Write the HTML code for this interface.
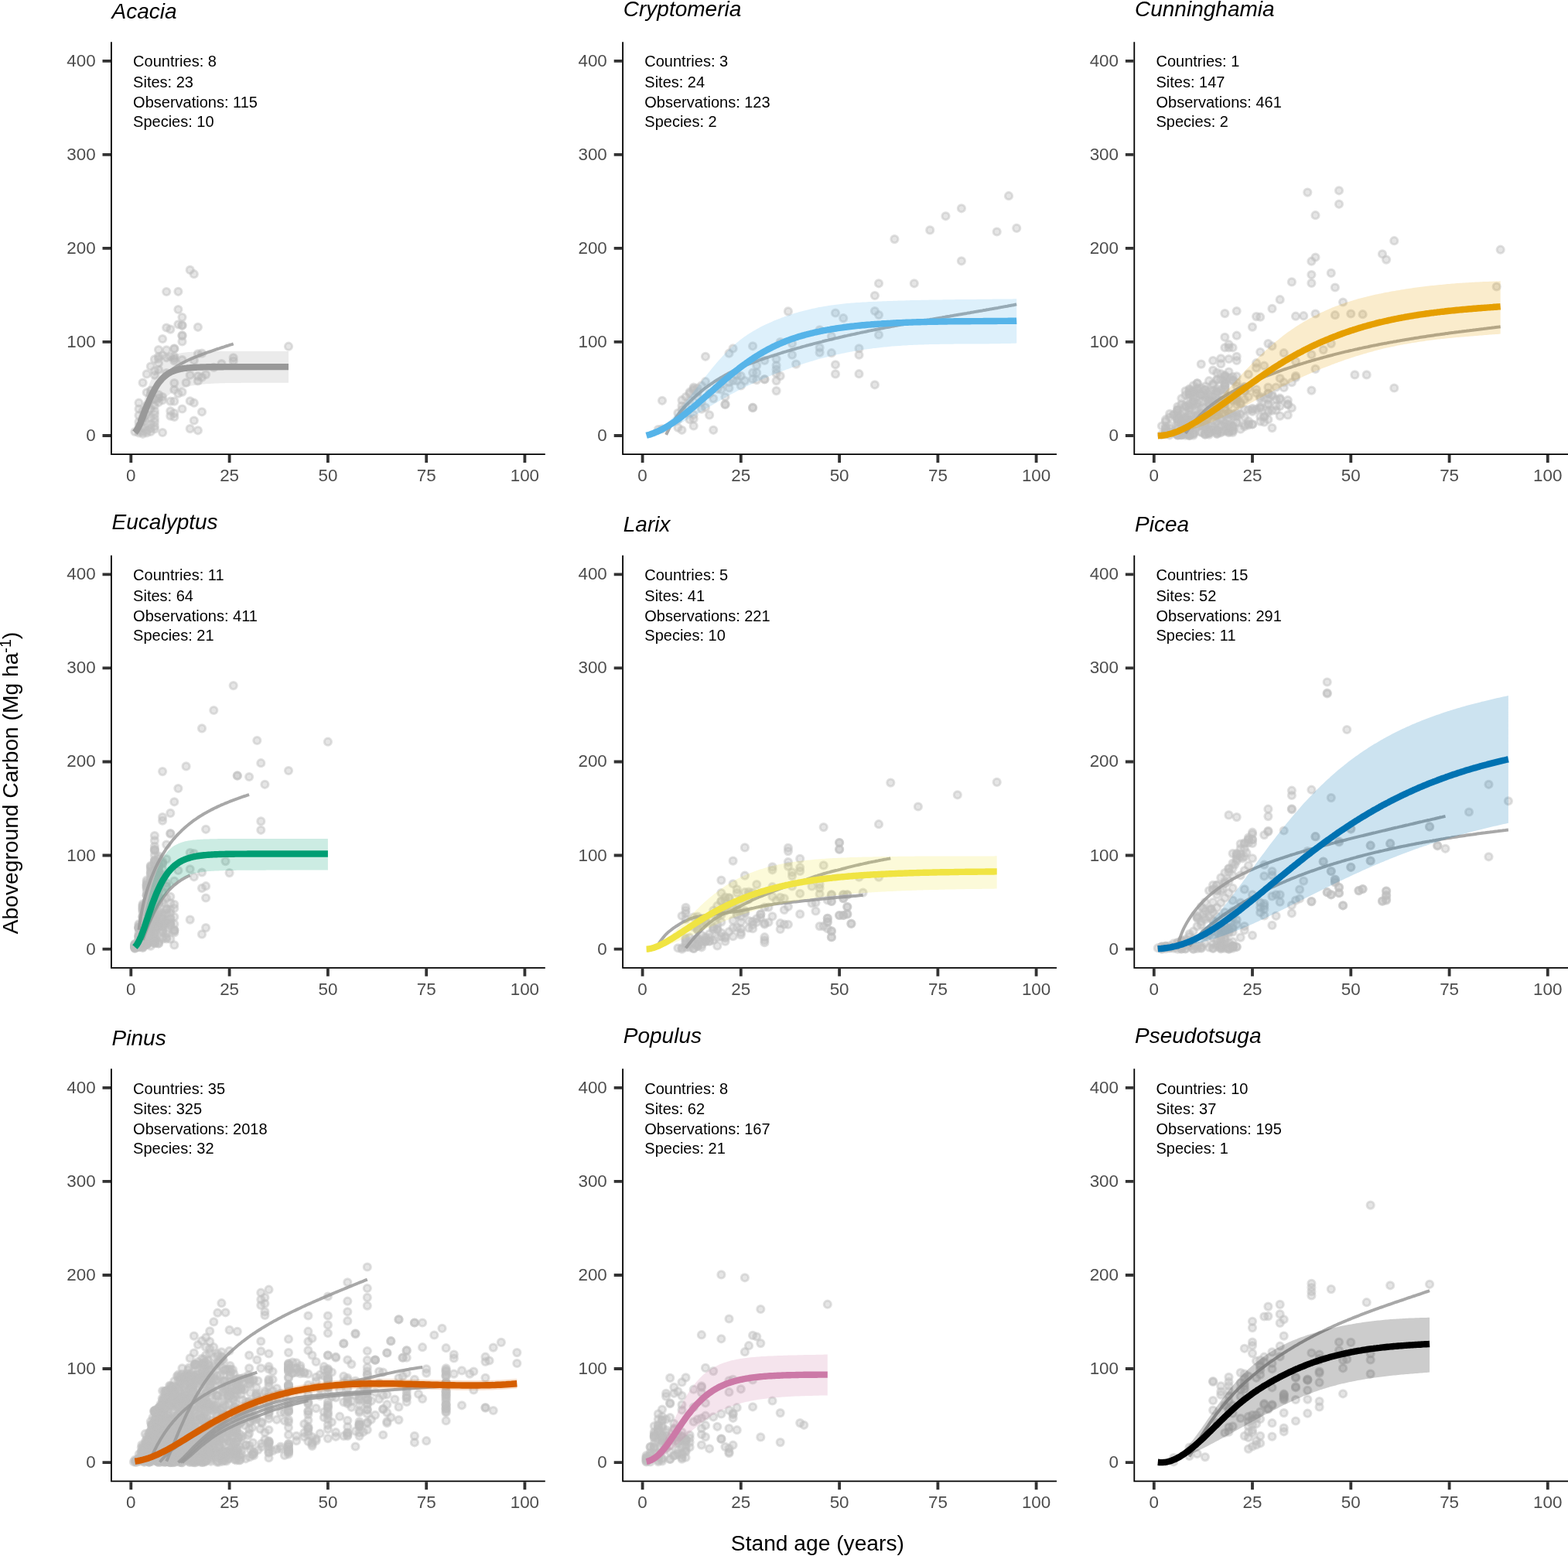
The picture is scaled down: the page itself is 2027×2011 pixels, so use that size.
<!DOCTYPE html>
<html lang="en">
<head>
<meta charset="utf-8">
<title>Aboveground carbon by stand age</title>
<style>
html,body{margin:0;padding:0;background:#fff;}
body{width:2027px;height:2011px;overflow:hidden;}
svg{display:block;font-family:"Liberation Sans",Arial,Helvetica,sans-serif;}
.tk{font-size:22.4px;fill:#4d4d4d;}
.ti{font-size:28px;font-style:italic;fill:#000;}
.an{font-size:20px;fill:#000;}
.ax{font-size:28.2px;fill:#000;}
.pt circle{fill:#bebebe;fill-opacity:.4;stroke:#bebebe;stroke-opacity:.46;stroke-width:3;}
.gl{fill:none;stroke:#999;stroke-opacity:.85;stroke-width:4;stroke-linecap:butt;stroke-linejoin:round;}
.ml{fill:none;stroke-width:8.4;stroke-linecap:butt;stroke-linejoin:round;}
.axl{stroke:#000;stroke-width:1.8;fill:none;stroke-linecap:square;}
.tkl{stroke:#333;stroke-width:3.8;fill:none;}
</style>
</head>
<body>
<svg xmlns="http://www.w3.org/2000/svg" width="2027" height="2011" viewBox="0 0 2027 2011">
<rect width="2027" height="2011" fill="#fff"/>
<g id="panel-acacia">
<g class="pt"><circle cx="245.7" cy="348.9" r="4.6"/><circle cx="250.8" cy="354.2" r="4.6"/><circle cx="215.2" cy="377" r="4.6"/><circle cx="230.4" cy="376.8" r="4.6"/><circle cx="230.4" cy="400" r="4.6"/><circle cx="235.5" cy="410.1" r="4.6"/><circle cx="230.4" cy="419.3" r="4.6"/><circle cx="235.5" cy="420.3" r="4.6"/><circle cx="235.5" cy="420.8" r="4.6"/><circle cx="215.2" cy="423.5" r="4.6"/><circle cx="220.3" cy="425.6" r="4.6"/><circle cx="255.9" cy="422.8" r="4.6"/><circle cx="235.5" cy="433.4" r="4.6"/><circle cx="235.5" cy="434.1" r="4.6"/><circle cx="210.1" cy="438" r="4.6"/><circle cx="235.5" cy="441.4" r="4.6"/><circle cx="373" cy="447.7" r="4.6"/><circle cx="205" cy="452.1" r="4.6"/><circle cx="215.2" cy="452.4" r="4.6"/><circle cx="225.3" cy="450.3" r="4.6"/><circle cx="225.3" cy="451" r="4.6"/><circle cx="199.9" cy="464.4" r="4.6"/><circle cx="205" cy="463.7" r="4.6"/><circle cx="210.1" cy="459.4" r="4.6"/><circle cx="215.2" cy="462.3" r="4.6"/><circle cx="225.3" cy="460.8" r="4.6"/><circle cx="225.3" cy="466.5" r="4.6"/><circle cx="235.5" cy="465.1" r="4.6"/><circle cx="255.9" cy="457.3" r="4.6"/><circle cx="261" cy="456.6" r="4.6"/><circle cx="250.8" cy="465.8" r="4.6"/><circle cx="301.7" cy="462.3" r="4.6"/><circle cx="301.7" cy="466.5" r="4.6"/><circle cx="286.4" cy="470" r="4.6"/><circle cx="276.3" cy="474.9" r="4.6"/><circle cx="194.8" cy="473.5" r="4.6"/><circle cx="205" cy="469.3" r="4.6"/><circle cx="205" cy="477.7" r="4.6"/><circle cx="189.7" cy="483.4" r="4.6"/><circle cx="199.9" cy="484.8" r="4.6"/><circle cx="215.2" cy="482" r="4.6"/><circle cx="245.7" cy="484.8" r="4.6"/><circle cx="261" cy="487.6" r="4.6"/><circle cx="266.1" cy="484.1" r="4.6"/><circle cx="255.9" cy="492.5" r="4.6"/><circle cx="240.6" cy="494.6" r="4.6"/><circle cx="225.3" cy="495.1" r="4.6"/><circle cx="184.6" cy="494.6" r="4.6"/><circle cx="225.3" cy="503.8" r="4.6"/><circle cx="235.5" cy="506.6" r="4.6"/><circle cx="230.4" cy="508.7" r="4.6"/><circle cx="194.8" cy="504.5" r="4.6"/><circle cx="210.1" cy="513" r="4.6"/><circle cx="205" cy="514.4" r="4.6"/><circle cx="220.3" cy="518.6" r="4.6"/><circle cx="225.3" cy="518.6" r="4.6"/><circle cx="245.7" cy="518.3" r="4.6"/><circle cx="250.8" cy="520.7" r="4.6"/><circle cx="179.5" cy="520.7" r="4.6"/><circle cx="179.5" cy="528.5" r="4.6"/><circle cx="235.5" cy="528.5" r="4.6"/><circle cx="220.3" cy="531.3" r="4.6"/><circle cx="225.3" cy="534.1" r="4.6"/><circle cx="261" cy="532.3" r="4.6"/><circle cx="220.3" cy="537.6" r="4.6"/><circle cx="225.3" cy="539" r="4.6"/><circle cx="179.5" cy="536.9" r="4.6"/><circle cx="199.9" cy="531.3" r="4.6"/><circle cx="199.9" cy="535.5" r="4.6"/><circle cx="250.8" cy="543.5" r="4.6"/><circle cx="199.9" cy="545.4" r="4.6"/><circle cx="194.8" cy="548.2" r="4.6"/><circle cx="179.5" cy="551" r="4.6"/><circle cx="199.9" cy="554.5" r="4.6"/><circle cx="189.7" cy="556.6" r="4.6"/><circle cx="245.7" cy="554.1" r="4.6"/><circle cx="255.9" cy="556.3" r="4.6"/><circle cx="210.1" cy="559" r="4.6"/><circle cx="184.6" cy="558" r="4.6"/><circle cx="199.9" cy="479.2" r="4.6"/><circle cx="205" cy="460.8" r="4.6"/><circle cx="220.3" cy="460.8" r="4.6"/><circle cx="225.3" cy="463.7" r="4.6"/><circle cx="255.9" cy="486.2" r="4.6"/><circle cx="194.8" cy="517.2" r="4.6"/><circle cx="189.7" cy="524.2" r="4.6"/><circle cx="184.6" cy="531.3" r="4.6"/><circle cx="189.7" cy="536.9" r="4.6"/><circle cx="194.8" cy="539.7" r="4.6"/><circle cx="184.6" cy="545.4" r="4.6"/><circle cx="189.7" cy="548.2" r="4.6"/><circle cx="194.8" cy="553.8" r="4.6"/><circle cx="184.6" cy="552.4" r="4.6"/><circle cx="179.5" cy="556.6" r="4.6"/><circle cx="189.7" cy="559.4" r="4.6"/><circle cx="194.8" cy="558" r="4.6"/><circle cx="199.9" cy="551" r="4.6"/><circle cx="199.9" cy="541.1" r="4.6"/><circle cx="205" cy="520" r="4.6"/><circle cx="210.1" cy="517.2" r="4.6"/><circle cx="205" cy="510.1" r="4.6"/><circle cx="194.8" cy="510.1" r="4.6"/><circle cx="189.7" cy="507.3" r="4.6"/><circle cx="199.9" cy="524.2" r="4.6"/><circle cx="194.8" cy="528.5" r="4.6"/><circle cx="179.5" cy="545.4" r="4.6"/><circle cx="184.6" cy="539.7" r="4.6"/><circle cx="174.4" cy="558" r="4.6"/><circle cx="179.5" cy="559.4" r="4.6"/><circle cx="184.6" cy="560.8" r="4.6"/><circle cx="199.9" cy="515.8" r="4.6"/></g>
<path class="gl" d="M179.5 544.4 L181.6 538.9 L183.6 533.6 L185.6 528.5 L187.7 523.8 L189.7 519.4 L191.7 515.2 L193.8 511.3 L195.8 507.7 L197.9 504.3 L199.9 501.2 L201.9 498.3 L204 495.5 L206 493 L208 490.6 L210.1 488.4 L212.1 486.3 L214.1 484.3 L216.2 482.5 L218.2 480.8 L220.3 479.1 L222.3 477.6 L224.3 476.2 L226.4 474.8 L228.4 473.5 L230.4 472.2 L232.5 471 L234.5 469.9 L236.5 468.8 L238.6 467.8 L240.6 466.8 L242.7 465.8 L244.7 464.8 L246.7 463.9 L248.8 463.1 L250.8 462.2 L252.8 461.4 L254.9 460.5 L256.9 459.7 L258.9 458.9 L261 458.2 L263 457.4 L265.1 456.7 L267.1 455.9 L269.1 455.2 L271.2 454.5 L273.2 453.8 L275.2 453.1 L277.3 452.4 L279.3 451.7 L281.3 451 L283.4 450.4 L285.4 449.7 L287.5 449 L289.5 448.4 L291.5 447.7 L293.6 447 L295.6 446.4 L297.6 445.7 L299.7 445.1 L301.7 444.4"/>
<path d="M174.4 557.4 L176.5 552.2 L178.5 545.9 L180.5 538.8 L182.5 531.3 L184.6 523.9 L186.6 516.7 L188.6 509.8 L190.6 503.4 L192.7 497.6 L194.7 492.3 L196.7 487.5 L198.8 483.2 L200.8 479.5 L202.8 476.1 L204.8 473.2 L206.9 470.6 L208.9 468.4 L210.9 466.4 L212.9 464.7 L215 463.2 L217 462 L219 460.9 L221 459.9 L223.1 459.1 L225.1 458.4 L227.1 457.8 L229.1 457.2 L231.2 456.8 L233.2 456.4 L235.2 456.1 L237.2 455.8 L239.3 455.5 L241.3 455.3 L243.3 455.1 L245.3 455 L247.4 454.8 L249.4 454.7 L251.4 454.6 L253.5 454.5 L255.5 454.5 L257.5 454.4 L259.5 454.3 L261.6 454.3 L263.6 454.3 L265.6 454.2 L267.6 454.2 L269.7 454.2 L271.7 454.1 L273.7 454.1 L275.7 454.1 L277.8 454.1 L279.8 454.1 L281.8 454.1 L283.8 454.1 L285.9 454.1 L287.9 454.1 L289.9 454 L291.9 454 L294 454 L296 454 L298 454 L300.1 454 L302.1 454 L304.1 454 L306.1 454 L308.2 454 L310.2 454 L312.2 454 L314.2 454 L316.3 454 L318.3 454 L320.3 454 L322.3 454 L324.4 454 L326.4 454 L328.4 454 L330.4 454 L332.5 454 L334.5 454 L336.5 454 L338.5 454 L340.6 454 L342.6 454 L344.6 454 L346.6 454 L348.7 454 L350.7 454 L352.7 454 L354.8 454 L356.8 454 L358.8 454 L360.8 454 L362.9 454 L364.9 454 L366.9 454 L368.9 454 L371 454 L373 454 L373 494.7 L371 494.7 L368.9 494.7 L366.9 494.7 L364.9 494.7 L362.9 494.7 L360.8 494.7 L358.8 494.7 L356.8 494.7 L354.8 494.7 L352.7 494.7 L350.7 494.7 L348.7 494.7 L346.6 494.7 L344.6 494.7 L342.6 494.7 L340.6 494.7 L338.5 494.7 L336.5 494.7 L334.5 494.7 L332.5 494.7 L330.4 494.7 L328.4 494.8 L326.4 494.8 L324.4 494.8 L322.3 494.8 L320.3 494.8 L318.3 494.8 L316.3 494.8 L314.2 494.8 L312.2 494.8 L310.2 494.9 L308.2 494.9 L306.1 494.9 L304.1 494.9 L302.1 494.9 L300.1 495 L298 495 L296 495 L294 495.1 L291.9 495.1 L289.9 495.2 L287.9 495.2 L285.9 495.3 L283.8 495.3 L281.8 495.4 L279.8 495.5 L277.8 495.6 L275.7 495.7 L273.7 495.8 L271.7 495.9 L269.7 496 L267.6 496.1 L265.6 496.3 L263.6 496.5 L261.6 496.6 L259.5 496.9 L257.5 497.1 L255.5 497.3 L253.5 497.6 L251.4 497.9 L249.4 498.2 L247.4 498.6 L245.3 499 L243.3 499.5 L241.3 500 L239.3 500.5 L237.2 501.1 L235.2 501.7 L233.2 502.5 L231.2 503.3 L229.1 504.1 L227.1 505.1 L225.1 506.1 L223.1 507.2 L221 508.4 L219 509.8 L217 511.2 L215 512.8 L212.9 514.5 L210.9 516.3 L208.9 518.3 L206.9 520.4 L204.8 522.7 L202.8 525 L200.8 527.6 L198.8 530.2 L196.7 533 L194.7 535.9 L192.7 538.9 L190.6 541.9 L188.6 544.9 L186.6 547.9 L184.6 550.7 L182.5 553.5 L180.5 555.9 L178.5 558.1 L176.5 559.9 L174.4 561.3Z" fill="#999999" fill-opacity="0.2"/>
<path class="ml" stroke="#999999" d="M174.4 559 L176.5 556.4 L178.5 552.9 L180.5 548.8 L182.5 544.1 L184.6 539.1 L186.6 533.8 L188.6 528.6 L190.6 523.4 L192.7 518.4 L194.7 513.7 L196.7 509.3 L198.8 505.3 L200.8 501.6 L202.8 498.2 L204.8 495.2 L206.9 492.6 L208.9 490.2 L210.9 488.1 L212.9 486.3 L215 484.7 L217 483.2 L219 482 L221 480.9 L223.1 480 L225.1 479.2 L227.1 478.5 L229.1 477.9 L231.2 477.4 L233.2 476.9 L235.2 476.5 L237.2 476.2 L239.3 475.9 L241.3 475.7 L243.3 475.4 L245.3 475.3 L247.4 475.1 L249.4 475 L251.4 474.8 L253.5 474.7 L255.5 474.6 L257.5 474.6 L259.5 474.5 L261.6 474.5 L263.6 474.4 L265.6 474.4 L267.6 474.3 L269.7 474.3 L271.7 474.3 L273.7 474.2 L275.7 474.2 L277.8 474.2 L279.8 474.2 L281.8 474.2 L283.8 474.2 L285.9 474.2 L287.9 474.2 L289.9 474.1 L291.9 474.1 L294 474.1 L296 474.1 L298 474.1 L300.1 474.1 L302.1 474.1 L304.1 474.1 L306.1 474.1 L308.2 474.1 L310.2 474.1 L312.2 474.1 L314.2 474.1 L316.3 474.1 L318.3 474.1 L320.3 474.1 L322.3 474.1 L324.4 474.1 L326.4 474.1 L328.4 474.1 L330.4 474.1 L332.5 474.1 L334.5 474.1 L336.5 474.1 L338.5 474.1 L340.6 474.1 L342.6 474.1 L344.6 474.1 L346.6 474.1 L348.7 474.1 L350.7 474.1 L352.7 474.1 L354.8 474.1 L356.8 474.1 L358.8 474.1 L360.8 474.1 L362.9 474.1 L364.9 474.1 L366.9 474.1 L368.9 474.1 L371 474.1 L373 474.1"/>
<path class="axl" d="M143.9 55.1 V587.2 H703.9"/>
<path class="tkl" d="M132.5 563 H143 M132.5 441.9 H143 M132.5 320.9 H143 M132.5 199.9 H143 M132.5 78.8 H143 M169.3 588.1 V598.1 M296.6 588.1 V598.1 M423.9 588.1 V598.1 M551.2 588.1 V598.1 M678.4 588.1 V598.1"/>
<text class="tk" text-anchor="end" x="123.6" y="569.9">0</text><text class="tk" text-anchor="end" x="123.6" y="448.8">100</text><text class="tk" text-anchor="end" x="123.6" y="327.8">200</text><text class="tk" text-anchor="end" x="123.6" y="206.8">300</text><text class="tk" text-anchor="end" x="123.6" y="85.7">400</text>
<text class="tk" text-anchor="middle" x="169.3" y="621.9">0</text><text class="tk" text-anchor="middle" x="296.6" y="621.9">25</text><text class="tk" text-anchor="middle" x="423.9" y="621.9">50</text><text class="tk" text-anchor="middle" x="551.2" y="621.9">75</text><text class="tk" text-anchor="middle" x="678.4" y="621.9">100</text>
<text class="ti" x="144.6" y="23.5">Acacia</text>
<text class="an" x="172.1" y="86.4">Countries: 8</text><text class="an" x="172.1" y="113">Sites: 23</text><text class="an" x="172.1" y="139.3">Observations: 115</text><text class="an" x="172.1" y="164.3">Species: 10</text>
</g>
<g id="panel-cryptomeria">
<g class="pt"><circle cx="856" cy="517.8" r="4.6"/><circle cx="850.9" cy="555.1" r="4.6"/><circle cx="856" cy="554.3" r="4.6"/><circle cx="876.4" cy="552.6" r="4.6"/><circle cx="881.5" cy="555.8" r="4.6"/><circle cx="896.7" cy="550.5" r="4.6"/><circle cx="896.7" cy="541.2" r="4.6"/><circle cx="922.2" cy="555.8" r="4.6"/><circle cx="917.1" cy="536.4" r="4.6"/><circle cx="881.5" cy="517.2" r="4.6"/><circle cx="881.5" cy="524.5" r="4.6"/><circle cx="881.5" cy="529.7" r="4.6"/><circle cx="912" cy="460.8" r="4.6"/><circle cx="912" cy="493.2" r="4.6"/><circle cx="906.9" cy="498.4" r="4.6"/><circle cx="896.7" cy="500.5" r="4.6"/><circle cx="901.8" cy="501.5" r="4.6"/><circle cx="891.6" cy="506.7" r="4.6"/><circle cx="891.6" cy="508.8" r="4.6"/><circle cx="896.7" cy="502.6" r="4.6"/><circle cx="922.2" cy="515.1" r="4.6"/><circle cx="912" cy="526.6" r="4.6"/><circle cx="906.9" cy="528.6" r="4.6"/><circle cx="937.5" cy="513" r="4.6"/><circle cx="937.5" cy="522.4" r="4.6"/><circle cx="937.5" cy="523" r="4.6"/><circle cx="932.4" cy="503.6" r="4.6"/><circle cx="942.5" cy="501.5" r="4.6"/><circle cx="942.5" cy="456.7" r="4.6"/><circle cx="947.6" cy="450.4" r="4.6"/><circle cx="947.6" cy="492.1" r="4.6"/><circle cx="952.7" cy="484.8" r="4.6"/><circle cx="957.8" cy="485.9" r="4.6"/><circle cx="957.8" cy="498.4" r="4.6"/><circle cx="962.9" cy="492.1" r="4.6"/><circle cx="973.1" cy="447.3" r="4.6"/><circle cx="973.1" cy="526.6" r="4.6"/><circle cx="973.1" cy="527.2" r="4.6"/><circle cx="973.1" cy="481.7" r="4.6"/><circle cx="973.1" cy="490" r="4.6"/><circle cx="978.2" cy="472.3" r="4.6"/><circle cx="978.2" cy="481.7" r="4.6"/><circle cx="978.2" cy="491.1" r="4.6"/><circle cx="988.4" cy="466" r="4.6"/><circle cx="988.4" cy="490" r="4.6"/><circle cx="988.4" cy="490.5" r="4.6"/><circle cx="1003.6" cy="464" r="4.6"/><circle cx="1003.6" cy="472.3" r="4.6"/><circle cx="1003.6" cy="477.5" r="4.6"/><circle cx="1003.6" cy="482.7" r="4.6"/><circle cx="1003.6" cy="492.1" r="4.6"/><circle cx="1003.6" cy="505.1" r="4.6"/><circle cx="1008.7" cy="485.9" r="4.6"/><circle cx="1008.7" cy="442" r="4.6"/><circle cx="1018.9" cy="402.4" r="4.6"/><circle cx="1024" cy="444.1" r="4.6"/><circle cx="1024" cy="458.7" r="4.6"/><circle cx="1029.1" cy="470.6" r="4.6"/><circle cx="1059.6" cy="426.4" r="4.6"/><circle cx="1059.6" cy="449.3" r="4.6"/><circle cx="1059.6" cy="455.6" r="4.6"/><circle cx="1074.9" cy="434.7" r="4.6"/><circle cx="1074.9" cy="456.2" r="4.6"/><circle cx="1080" cy="404.5" r="4.6"/><circle cx="1080" cy="471.3" r="4.6"/><circle cx="1080" cy="483.4" r="4.6"/><circle cx="1090.2" cy="411.2" r="4.6"/><circle cx="1110.5" cy="450.4" r="4.6"/><circle cx="1110.5" cy="458.7" r="4.6"/><circle cx="1110.5" cy="483.2" r="4.6"/><circle cx="896.7" cy="504.6" r="4.6"/><circle cx="901.8" cy="506.7" r="4.6"/><circle cx="886.5" cy="513" r="4.6"/><circle cx="891.6" cy="517.2" r="4.6"/><circle cx="886.5" cy="525.5" r="4.6"/><circle cx="886.5" cy="533.9" r="4.6"/><circle cx="891.6" cy="542.2" r="4.6"/><circle cx="876.4" cy="533.9" r="4.6"/><circle cx="876.4" cy="542.2" r="4.6"/><circle cx="901.8" cy="513" r="4.6"/><circle cx="906.9" cy="519.2" r="4.6"/><circle cx="917.1" cy="508.8" r="4.6"/><circle cx="927.3" cy="502.6" r="4.6"/><circle cx="932.4" cy="496.3" r="4.6"/><circle cx="942.5" cy="494.2" r="4.6"/><circle cx="952.7" cy="492.1" r="4.6"/><circle cx="896.7" cy="535.9" r="4.6"/><circle cx="1130.9" cy="382" r="4.6"/><circle cx="1136" cy="366.3" r="4.6"/><circle cx="1130.9" cy="402" r="4.6"/><circle cx="1136" cy="407" r="4.6"/><circle cx="1136" cy="432.7" r="4.6"/><circle cx="1130.9" cy="497.3" r="4.6"/><circle cx="1156.4" cy="309.1" r="4.6"/><circle cx="1181.8" cy="366.3" r="4.6"/><circle cx="1202.2" cy="297.4" r="4.6"/><circle cx="1222.5" cy="279.3" r="4.6"/><circle cx="1242.9" cy="269.3" r="4.6"/><circle cx="1242.9" cy="337.3" r="4.6"/><circle cx="1288.7" cy="299.5" r="4.6"/><circle cx="1304" cy="253.2" r="4.6"/><circle cx="1314.2" cy="294.9" r="4.6"/></g>
<path class="gl" d="M861.1 561.9 L863.1 557.8 L865.1 553.9 L867.1 550.3 L869.2 546.9 L871.2 543.7 L873.2 540.6 L875.2 537.8 L877.2 535.1 L879.2 532.5 L881.2 530.1 L883.2 527.7 L885.3 525.5 L887.3 523.4 L889.3 521.4 L891.3 519.4 L893.3 517.4 L895.3 515.5 L897.3 513.7 L899.4 511.9 L901.4 510.1 L903.4 508.4 L905.4 506.7 L907.4 505.1 L909.4 503.5 L911.4 501.9 L913.5 500.4 L915.5 498.9 L917.5 497.5 L919.5 496 L921.5 494.7 L923.5 493.3 L925.5 492 L927.5 490.7 L929.6 489.5 L931.6 488.3 L933.6 487.1 L935.6 485.9 L937.6 484.8 L939.6 483.7 L941.6 482.6 L943.7 481.5 L945.7 480.5 L947.7 479.5 L949.7 478.5 L951.7 477.6 L953.7 476.6 L955.7 475.7 L957.8 474.8 L959.8 474 L961.8 473.1 L963.8 472.3 L965.8 471.4 L967.8 470.6 L969.8 469.9 L971.9 469.1 L973.9 468.3 L975.9 467.6 L977.9 466.8 L979.9 466.1 L981.9 465.4 L983.9 464.7 L985.9 464 L988 463.3 L990 462.6 L992 462 L994 461.3 L996 460.6 L998 460 L1000 459.3 L1002.1 458.7 L1004.1 458.1 L1006.1 457.4 L1008.1 456.8 L1010.1 456.2 L1012.1 455.5 L1014.1 454.9 L1016.2 454.3 L1018.2 453.7 L1020.2 453.1 L1022.2 452.5 L1024.2 451.9 L1026.2 451.4 L1028.2 450.8 L1030.2 450.2 L1032.3 449.6 L1034.3 449.1 L1036.3 448.5 L1038.3 447.9 L1040.3 447.4 L1042.3 446.8 L1044.3 446.3 L1046.4 445.7 L1048.4 445.2 L1050.4 444.7 L1052.4 444.1 L1054.4 443.6 L1056.4 443.1 L1058.4 442.6 L1060.5 442.1 L1062.5 441.6 L1064.5 441 L1066.5 440.5 L1068.5 440 L1070.5 439.6 L1072.5 439.1 L1074.6 438.6 L1076.6 438.1 L1078.6 437.6 L1080.6 437.1 L1082.6 436.7 L1084.6 436.2 L1086.6 435.7 L1088.6 435.3 L1090.7 434.8 L1092.7 434.3 L1094.7 433.9 L1096.7 433.4 L1098.7 433 L1100.7 432.5 L1102.7 432.1 L1104.8 431.7 L1106.8 431.2 L1108.8 430.8 L1110.8 430.4 L1112.8 429.9 L1114.8 429.5 L1116.8 429.1 L1118.9 428.7 L1120.9 428.3 L1122.9 427.8 L1124.9 427.4 L1126.9 427 L1128.9 426.6 L1130.9 426.2 L1132.9 425.8 L1135 425.4 L1137 425 L1139 424.6 L1141 424.2 L1143 423.8 L1145 423.4 L1147 423 L1149.1 422.7 L1151.1 422.3 L1153.1 421.9 L1155.1 421.5 L1157.1 421.1 L1159.1 420.8 L1161.1 420.4 L1163.2 420 L1165.2 419.6 L1167.2 419.3 L1169.2 418.9 L1171.2 418.5 L1173.2 418.2 L1175.2 417.8 L1177.3 417.4 L1179.3 417.1 L1181.3 416.7 L1183.3 416.4 L1185.3 416 L1187.3 415.6 L1189.3 415.3 L1191.3 414.9 L1193.4 414.6 L1195.4 414.2 L1197.4 413.9 L1199.4 413.5 L1201.4 413.2 L1203.4 412.8 L1205.4 412.5 L1207.5 412.1 L1209.5 411.8 L1211.5 411.4 L1213.5 411.1 L1215.5 410.7 L1217.5 410.4 L1219.5 410 L1221.6 409.7 L1223.6 409.3 L1225.6 409 L1227.6 408.7 L1229.6 408.3 L1231.6 408 L1233.6 407.6 L1235.6 407.3 L1237.7 406.9 L1239.7 406.6 L1241.7 406.2 L1243.7 405.9 L1245.7 405.6 L1247.7 405.2 L1249.7 404.9 L1251.8 404.5 L1253.8 404.2 L1255.8 403.8 L1257.8 403.5 L1259.8 403.1 L1261.8 402.8 L1263.8 402.4 L1265.9 402.1 L1267.9 401.7 L1269.9 401.4 L1271.9 401 L1273.9 400.7 L1275.9 400.3 L1277.9 400 L1280 399.6 L1282 399.3 L1284 398.9 L1286 398.6 L1288 398.2 L1290 397.9 L1292 397.5 L1294 397.1 L1296.1 396.8 L1298.1 396.4 L1300.1 396 L1302.1 395.7 L1304.1 395.3 L1306.1 394.9 L1308.1 394.6 L1310.2 394.2 L1312.2 393.8 L1314.2 393.4"/>
<path d="M835.6 562.4 L837.7 562 L839.7 561.5 L841.7 560.9 L843.7 560 L845.7 559.1 L847.7 558 L849.7 556.9 L851.7 555.5 L853.7 554.1 L855.7 552.6 L857.8 551 L859.8 549.2 L861.8 547.4 L863.8 545.5 L865.8 543.5 L867.8 541.4 L869.8 539.3 L871.8 537.1 L873.8 534.8 L875.9 532.5 L877.9 530.1 L879.9 527.7 L881.9 525.2 L883.9 522.7 L885.9 520.2 L887.9 517.6 L889.9 515 L891.9 512.4 L894 509.9 L896 507.2 L898 504.6 L900 502 L902 499.4 L904 496.8 L906 494.2 L908 491.6 L910 489.1 L912 486.5 L914.1 484 L916.1 481.5 L918.1 479 L920.1 476.5 L922.1 474.1 L924.1 471.7 L926.1 469.3 L928.1 467 L930.1 464.7 L932.2 462.5 L934.2 460.3 L936.2 458.1 L938.2 456 L940.2 454 L942.2 452 L944.2 450.1 L946.2 448.2 L948.2 446.4 L950.3 444.7 L952.3 443 L954.3 441.4 L956.3 439.8 L958.3 438.3 L960.3 436.8 L962.3 435.3 L964.3 433.9 L966.3 432.6 L968.3 431.3 L970.4 430 L972.4 428.8 L974.4 427.6 L976.4 426.4 L978.4 425.3 L980.4 424.2 L982.4 423.1 L984.4 422.1 L986.4 421.1 L988.5 420.1 L990.5 419.1 L992.5 418.2 L994.5 417.3 L996.5 416.4 L998.5 415.5 L1000.5 414.6 L1002.5 413.8 L1004.5 413 L1006.5 412.2 L1008.6 411.4 L1010.6 410.6 L1012.6 409.9 L1014.6 409.1 L1016.6 408.4 L1018.6 407.7 L1020.6 407 L1022.6 406.4 L1024.6 405.7 L1026.7 405.1 L1028.7 404.5 L1030.7 403.9 L1032.7 403.3 L1034.7 402.8 L1036.7 402.2 L1038.7 401.7 L1040.7 401.2 L1042.7 400.7 L1044.8 400.2 L1046.8 399.7 L1048.8 399.2 L1050.8 398.8 L1052.8 398.4 L1054.8 397.9 L1056.8 397.5 L1058.8 397.1 L1060.8 396.8 L1062.8 396.4 L1064.9 396.1 L1066.9 395.7 L1068.9 395.4 L1070.9 395.1 L1072.9 394.8 L1074.9 394.5 L1076.9 394.2 L1078.9 393.9 L1080.9 393.7 L1083 393.4 L1085 393.2 L1087 393 L1089 392.7 L1091 392.5 L1093 392.3 L1095 392.1 L1097 392 L1099 391.8 L1101.1 391.6 L1103.1 391.4 L1105.1 391.3 L1107.1 391.1 L1109.1 391 L1111.1 390.9 L1113.1 390.7 L1115.1 390.6 L1117.1 390.5 L1119.1 390.4 L1121.2 390.2 L1123.2 390.1 L1125.2 390 L1127.2 389.9 L1129.2 389.8 L1131.2 389.7 L1133.2 389.7 L1135.2 389.6 L1137.2 389.5 L1139.3 389.4 L1141.3 389.3 L1143.3 389.2 L1145.3 389.2 L1147.3 389.1 L1149.3 389 L1151.3 388.9 L1153.3 388.9 L1155.3 388.8 L1157.4 388.7 L1159.4 388.7 L1161.4 388.6 L1163.4 388.5 L1165.4 388.5 L1167.4 388.4 L1169.4 388.4 L1171.4 388.3 L1173.4 388.2 L1175.4 388.2 L1177.5 388.1 L1179.5 388.1 L1181.5 388 L1183.5 388 L1185.5 388 L1187.5 387.9 L1189.5 387.9 L1191.5 387.8 L1193.5 387.8 L1195.6 387.7 L1197.6 387.7 L1199.6 387.7 L1201.6 387.6 L1203.6 387.6 L1205.6 387.6 L1207.6 387.5 L1209.6 387.5 L1211.6 387.5 L1213.7 387.4 L1215.7 387.4 L1217.7 387.4 L1219.7 387.3 L1221.7 387.3 L1223.7 387.3 L1225.7 387.3 L1227.7 387.2 L1229.7 387.2 L1231.7 387.2 L1233.8 387.2 L1235.8 387.1 L1237.8 387.1 L1239.8 387.1 L1241.8 387.1 L1243.8 387 L1245.8 387 L1247.8 387 L1249.8 387 L1251.9 387 L1253.9 386.9 L1255.9 386.9 L1257.9 386.9 L1259.9 386.9 L1261.9 386.9 L1263.9 386.8 L1265.9 386.8 L1267.9 386.8 L1270 386.8 L1272 386.8 L1274 386.7 L1276 386.7 L1278 386.7 L1280 386.7 L1282 386.7 L1284 386.6 L1286 386.6 L1288 386.6 L1290.1 386.6 L1292.1 386.6 L1294.1 386.5 L1296.1 386.5 L1298.1 386.5 L1300.1 386.5 L1302.1 386.4 L1304.1 386.4 L1306.1 386.4 L1308.2 386.4 L1310.2 386.3 L1312.2 386.3 L1314.2 386.3 L1314.2 443.6 L1312.2 443.7 L1310.2 443.7 L1308.2 443.8 L1306.1 443.9 L1304.1 443.9 L1302.1 444 L1300.1 444 L1298.1 444 L1296.1 444.1 L1294.1 444.1 L1292.1 444.2 L1290.1 444.2 L1288 444.2 L1286 444.3 L1284 444.3 L1282 444.3 L1280 444.3 L1278 444.4 L1276 444.4 L1274 444.4 L1272 444.4 L1270 444.4 L1267.9 444.4 L1265.9 444.4 L1263.9 444.5 L1261.9 444.5 L1259.9 444.5 L1257.9 444.5 L1255.9 444.5 L1253.9 444.5 L1251.9 444.5 L1249.8 444.5 L1247.8 444.5 L1245.8 444.6 L1243.8 444.6 L1241.8 444.6 L1239.8 444.6 L1237.8 444.6 L1235.8 444.6 L1233.8 444.6 L1231.7 444.7 L1229.7 444.7 L1227.7 444.7 L1225.7 444.7 L1223.7 444.7 L1221.7 444.8 L1219.7 444.8 L1217.7 444.8 L1215.7 444.8 L1213.7 444.9 L1211.6 444.9 L1209.6 445 L1207.6 445 L1205.6 445 L1203.6 445.1 L1201.6 445.1 L1199.6 445.2 L1197.6 445.2 L1195.6 445.3 L1193.5 445.4 L1191.5 445.4 L1189.5 445.5 L1187.5 445.6 L1185.5 445.7 L1183.5 445.8 L1181.5 445.8 L1179.5 445.9 L1177.5 446 L1175.4 446.1 L1173.4 446.2 L1171.4 446.4 L1169.4 446.5 L1167.4 446.6 L1165.4 446.7 L1163.4 446.9 L1161.4 447 L1159.4 447.2 L1157.4 447.3 L1155.3 447.5 L1153.3 447.6 L1151.3 447.8 L1149.3 448 L1147.3 448.2 L1145.3 448.4 L1143.3 448.6 L1141.3 448.8 L1139.3 449 L1137.2 449.2 L1135.2 449.4 L1133.2 449.7 L1131.2 449.9 L1129.2 450.1 L1127.2 450.4 L1125.2 450.7 L1123.2 450.9 L1121.2 451.2 L1119.1 451.5 L1117.1 451.8 L1115.1 452.1 L1113.1 452.4 L1111.1 452.7 L1109.1 453.1 L1107.1 453.4 L1105.1 453.8 L1103.1 454.1 L1101.1 454.5 L1099 454.8 L1097 455.2 L1095 455.6 L1093 456 L1091 456.4 L1089 456.8 L1087 457.2 L1085 457.7 L1083 458.1 L1080.9 458.6 L1078.9 459 L1076.9 459.5 L1074.9 460 L1072.9 460.4 L1070.9 460.9 L1068.9 461.4 L1066.9 461.9 L1064.9 462.5 L1062.8 463 L1060.8 463.5 L1058.8 464.1 L1056.8 464.6 L1054.8 465.2 L1052.8 465.8 L1050.8 466.4 L1048.8 466.9 L1046.8 467.5 L1044.8 468.2 L1042.7 468.8 L1040.7 469.4 L1038.7 470 L1036.7 470.7 L1034.7 471.3 L1032.7 472 L1030.7 472.7 L1028.7 473.4 L1026.7 474.1 L1024.6 474.8 L1022.6 475.5 L1020.6 476.2 L1018.6 476.9 L1016.6 477.6 L1014.6 478.4 L1012.6 479.1 L1010.6 479.9 L1008.6 480.7 L1006.5 481.4 L1004.5 482.2 L1002.5 483 L1000.5 483.8 L998.5 484.6 L996.5 485.5 L994.5 486.3 L992.5 487.1 L990.5 488 L988.5 488.8 L986.4 489.7 L984.4 490.5 L982.4 491.4 L980.4 492.3 L978.4 493.2 L976.4 494.1 L974.4 495 L972.4 495.9 L970.4 496.9 L968.3 497.8 L966.3 498.8 L964.3 499.8 L962.3 500.7 L960.3 501.7 L958.3 502.7 L956.3 503.7 L954.3 504.8 L952.3 505.8 L950.3 506.9 L948.2 507.9 L946.2 509 L944.2 510.1 L942.2 511.2 L940.2 512.3 L938.2 513.4 L936.2 514.6 L934.2 515.7 L932.2 516.9 L930.1 518 L928.1 519.2 L926.1 520.4 L924.1 521.6 L922.1 522.8 L920.1 523.9 L918.1 525.1 L916.1 526.3 L914.1 527.5 L912 528.7 L910 529.9 L908 531.1 L906 532.3 L904 533.5 L902 534.6 L900 535.8 L898 537 L896 538.1 L894 539.3 L891.9 540.4 L889.9 541.5 L887.9 542.6 L885.9 543.7 L883.9 544.8 L881.9 545.8 L879.9 546.9 L877.9 547.9 L875.9 548.9 L873.8 549.9 L871.8 550.8 L869.8 551.7 L867.8 552.7 L865.8 553.5 L863.8 554.4 L861.8 555.2 L859.8 556 L857.8 556.8 L855.7 557.5 L853.7 558.2 L851.7 558.9 L849.7 559.6 L847.7 560.2 L845.7 560.7 L843.7 561.3 L841.7 561.8 L839.7 562.2 L837.7 562.6 L835.6 563Z" fill="#56B4E9" fill-opacity="0.2"/>
<path class="ml" stroke="#56B4E9" d="M835.6 562.8 L837.7 562.2 L839.7 561.7 L841.7 561 L843.7 560.3 L845.7 559.5 L847.7 558.7 L849.7 557.8 L851.7 556.9 L853.7 555.9 L855.7 554.9 L857.8 553.8 L859.8 552.7 L861.8 551.5 L863.8 550.3 L865.8 549.1 L867.8 547.8 L869.8 546.5 L871.8 545.1 L873.8 543.7 L875.9 542.3 L877.9 540.8 L879.9 539.3 L881.9 537.8 L883.9 536.2 L885.9 534.6 L887.9 533 L889.9 531.4 L891.9 529.8 L894 528.1 L896 526.5 L898 524.8 L900 523.1 L902 521.3 L904 519.6 L906 517.9 L908 516.1 L910 514.4 L912 512.6 L914.1 510.9 L916.1 509.1 L918.1 507.3 L920.1 505.6 L922.1 503.8 L924.1 502 L926.1 500.3 L928.1 498.5 L930.1 496.8 L932.2 495.1 L934.2 493.3 L936.2 491.6 L938.2 489.9 L940.2 488.2 L942.2 486.6 L944.2 484.9 L946.2 483.3 L948.2 481.7 L950.3 480.1 L952.3 478.5 L954.3 477 L956.3 475.4 L958.3 473.9 L960.3 472.4 L962.3 471 L964.3 469.5 L966.3 468.1 L968.3 466.7 L970.4 465.3 L972.4 463.9 L974.4 462.6 L976.4 461.3 L978.4 460 L980.4 458.8 L982.4 457.5 L984.4 456.3 L986.4 455.1 L988.5 454 L990.5 452.9 L992.5 451.8 L994.5 450.7 L996.5 449.7 L998.5 448.6 L1000.5 447.7 L1002.5 446.7 L1004.5 445.8 L1006.5 444.9 L1008.6 444 L1010.6 443.1 L1012.6 442.3 L1014.6 441.5 L1016.6 440.7 L1018.6 439.9 L1020.6 439.2 L1022.6 438.4 L1024.6 437.7 L1026.7 437.1 L1028.7 436.4 L1030.7 435.7 L1032.7 435.1 L1034.7 434.5 L1036.7 433.9 L1038.7 433.4 L1040.7 432.8 L1042.7 432.3 L1044.8 431.7 L1046.8 431.2 L1048.8 430.7 L1050.8 430.3 L1052.8 429.8 L1054.8 429.3 L1056.8 428.9 L1058.8 428.5 L1060.8 428 L1062.8 427.6 L1064.9 427.2 L1066.9 426.9 L1068.9 426.5 L1070.9 426.1 L1072.9 425.8 L1074.9 425.4 L1076.9 425.1 L1078.9 424.8 L1080.9 424.5 L1083 424.2 L1085 423.9 L1087 423.6 L1089 423.3 L1091 423 L1093 422.8 L1095 422.5 L1097 422.3 L1099 422 L1101.1 421.8 L1103.1 421.6 L1105.1 421.3 L1107.1 421.1 L1109.1 420.9 L1111.1 420.7 L1113.1 420.5 L1115.1 420.3 L1117.1 420.2 L1119.1 420 L1121.2 419.8 L1123.2 419.6 L1125.2 419.5 L1127.2 419.3 L1129.2 419.2 L1131.2 419 L1133.2 418.9 L1135.2 418.7 L1137.2 418.6 L1139.3 418.5 L1141.3 418.3 L1143.3 418.2 L1145.3 418.1 L1147.3 418 L1149.3 417.9 L1151.3 417.8 L1153.3 417.6 L1155.3 417.5 L1157.4 417.4 L1159.4 417.3 L1161.4 417.2 L1163.4 417.1 L1165.4 417.1 L1167.4 417 L1169.4 416.9 L1171.4 416.8 L1173.4 416.7 L1175.4 416.6 L1177.5 416.6 L1179.5 416.5 L1181.5 416.4 L1183.5 416.4 L1185.5 416.3 L1187.5 416.2 L1189.5 416.2 L1191.5 416.1 L1193.5 416.1 L1195.6 416 L1197.6 416 L1199.6 415.9 L1201.6 415.9 L1203.6 415.8 L1205.6 415.8 L1207.6 415.7 L1209.6 415.7 L1211.6 415.7 L1213.7 415.6 L1215.7 415.6 L1217.7 415.5 L1219.7 415.5 L1221.7 415.5 L1223.7 415.5 L1225.7 415.4 L1227.7 415.4 L1229.7 415.4 L1231.7 415.4 L1233.8 415.3 L1235.8 415.3 L1237.8 415.3 L1239.8 415.3 L1241.8 415.2 L1243.8 415.2 L1245.8 415.2 L1247.8 415.2 L1249.8 415.2 L1251.9 415.2 L1253.9 415.2 L1255.9 415.1 L1257.9 415.1 L1259.9 415.1 L1261.9 415.1 L1263.9 415.1 L1265.9 415.1 L1267.9 415.1 L1270 415.1 L1272 415 L1274 415 L1276 415 L1278 415 L1280 415 L1282 415 L1284 415 L1286 415 L1288 415 L1290.1 414.9 L1292.1 414.9 L1294.1 414.9 L1296.1 414.9 L1298.1 414.9 L1300.1 414.9 L1302.1 414.9 L1304.1 414.8 L1306.1 414.8 L1308.2 414.8 L1310.2 414.8 L1312.2 414.8 L1314.2 414.7"/>
<path class="axl" d="M805.1 55.1 V587.2 H1365.1"/>
<path class="tkl" d="M793.7 563 H804.2 M793.7 441.9 H804.2 M793.7 320.9 H804.2 M793.7 199.9 H804.2 M793.7 78.8 H804.2 M830.6 588.1 V598.1 M957.8 588.1 V598.1 M1085.1 588.1 V598.1 M1212.4 588.1 V598.1 M1339.6 588.1 V598.1"/>
<text class="tk" text-anchor="end" x="784.8" y="569.9">0</text><text class="tk" text-anchor="end" x="784.8" y="448.8">100</text><text class="tk" text-anchor="end" x="784.8" y="327.8">200</text><text class="tk" text-anchor="end" x="784.8" y="206.8">300</text><text class="tk" text-anchor="end" x="784.8" y="85.7">400</text>
<text class="tk" text-anchor="middle" x="830.6" y="621.9">0</text><text class="tk" text-anchor="middle" x="957.8" y="621.9">25</text><text class="tk" text-anchor="middle" x="1085.1" y="621.9">50</text><text class="tk" text-anchor="middle" x="1212.4" y="621.9">75</text><text class="tk" text-anchor="middle" x="1339.6" y="621.9">100</text>
<text class="ti" x="805.8" y="20.7">Cryptomeria</text>
<text class="an" x="833.3" y="86.4">Countries: 3</text><text class="an" x="833.3" y="113">Sites: 24</text><text class="an" x="833.3" y="139.3">Observations: 123</text><text class="an" x="833.3" y="164.3">Species: 2</text>
</g>
<g id="panel-cunninghamia">
<g class="pt"><circle cx="1557.9" cy="527.1" r="4.6"/><circle cx="1613.9" cy="529.6" r="4.6"/><circle cx="1563" cy="523.1" r="4.6"/><circle cx="1532.5" cy="538.9" r="4.6"/><circle cx="1573.2" cy="502.3" r="4.6"/><circle cx="1522.3" cy="554.5" r="4.6"/><circle cx="1522.3" cy="533.9" r="4.6"/><circle cx="1578.3" cy="559.3" r="4.6"/><circle cx="1639.4" cy="508.9" r="4.6"/><circle cx="1578.3" cy="517.8" r="4.6"/><circle cx="1532.5" cy="562.7" r="4.6"/><circle cx="1563" cy="559.8" r="4.6"/><circle cx="1532.5" cy="553.6" r="4.6"/><circle cx="1512.1" cy="553.5" r="4.6"/><circle cx="1557.9" cy="503.6" r="4.6"/><circle cx="1563" cy="518.7" r="4.6"/><circle cx="1563" cy="516.8" r="4.6"/><circle cx="1557.9" cy="547.6" r="4.6"/><circle cx="1654.7" cy="514.7" r="4.6"/><circle cx="1598.7" cy="510.8" r="4.6"/><circle cx="1547.7" cy="552" r="4.6"/><circle cx="1542.7" cy="560.6" r="4.6"/><circle cx="1588.5" cy="534.6" r="4.6"/><circle cx="1598.7" cy="535.7" r="4.6"/><circle cx="1624.1" cy="508" r="4.6"/><circle cx="1501.9" cy="561.6" r="4.6"/><circle cx="1608.8" cy="529.4" r="4.6"/><circle cx="1639.4" cy="532.6" r="4.6"/><circle cx="1522.3" cy="541.7" r="4.6"/><circle cx="1588.5" cy="544.5" r="4.6"/><circle cx="1522.3" cy="553.4" r="4.6"/><circle cx="1629.2" cy="515.1" r="4.6"/><circle cx="1527.4" cy="554.9" r="4.6"/><circle cx="1522.3" cy="561.9" r="4.6"/><circle cx="1593.6" cy="550.6" r="4.6"/><circle cx="1568.1" cy="533" r="4.6"/><circle cx="1532.5" cy="525.3" r="4.6"/><circle cx="1527.4" cy="536" r="4.6"/><circle cx="1527.4" cy="547.1" r="4.6"/><circle cx="1537.6" cy="551.2" r="4.6"/><circle cx="1629.2" cy="512.7" r="4.6"/><circle cx="1542.7" cy="506.9" r="4.6"/><circle cx="1537.6" cy="544.1" r="4.6"/><circle cx="1598.7" cy="516.2" r="4.6"/><circle cx="1522.3" cy="525.6" r="4.6"/><circle cx="1537.6" cy="551.9" r="4.6"/><circle cx="1588.5" cy="540.1" r="4.6"/><circle cx="1542.7" cy="560.5" r="4.6"/><circle cx="1522.3" cy="543.7" r="4.6"/><circle cx="1537.6" cy="531" r="4.6"/><circle cx="1547.7" cy="537.6" r="4.6"/><circle cx="1624.1" cy="528.8" r="4.6"/><circle cx="1568.1" cy="496" r="4.6"/><circle cx="1532.5" cy="557.6" r="4.6"/><circle cx="1608.8" cy="504.6" r="4.6"/><circle cx="1537.6" cy="555.4" r="4.6"/><circle cx="1583.4" cy="487.1" r="4.6"/><circle cx="1532.5" cy="510.8" r="4.6"/><circle cx="1603.7" cy="519.8" r="4.6"/><circle cx="1552.8" cy="558.4" r="4.6"/><circle cx="1512.1" cy="539.3" r="4.6"/><circle cx="1537.6" cy="523.9" r="4.6"/><circle cx="1542.7" cy="511.7" r="4.6"/><circle cx="1568.1" cy="544.8" r="4.6"/><circle cx="1532.5" cy="526" r="4.6"/><circle cx="1517.2" cy="558.4" r="4.6"/><circle cx="1568.1" cy="497.3" r="4.6"/><circle cx="1573.2" cy="545.2" r="4.6"/><circle cx="1613.9" cy="544.4" r="4.6"/><circle cx="1507" cy="559" r="4.6"/><circle cx="1557.9" cy="560.1" r="4.6"/><circle cx="1532.5" cy="547" r="4.6"/><circle cx="1568.1" cy="555.6" r="4.6"/><circle cx="1547.7" cy="504.3" r="4.6"/><circle cx="1639.4" cy="522.4" r="4.6"/><circle cx="1578.3" cy="520.5" r="4.6"/><circle cx="1527.4" cy="562.3" r="4.6"/><circle cx="1507" cy="544.7" r="4.6"/><circle cx="1583.4" cy="485" r="4.6"/><circle cx="1507" cy="551.3" r="4.6"/><circle cx="1557.9" cy="513.2" r="4.6"/><circle cx="1547.7" cy="495.3" r="4.6"/><circle cx="1522.3" cy="545.2" r="4.6"/><circle cx="1583.4" cy="491" r="4.6"/><circle cx="1583.4" cy="509.4" r="4.6"/><circle cx="1593.6" cy="491.1" r="4.6"/><circle cx="1547.7" cy="520.7" r="4.6"/><circle cx="1608.8" cy="500.5" r="4.6"/><circle cx="1552.8" cy="510.5" r="4.6"/><circle cx="1603.7" cy="522.1" r="4.6"/><circle cx="1573.2" cy="537.6" r="4.6"/><circle cx="1568.1" cy="519.5" r="4.6"/><circle cx="1522.3" cy="541.3" r="4.6"/><circle cx="1649.6" cy="516.4" r="4.6"/><circle cx="1583.4" cy="536.1" r="4.6"/><circle cx="1583.4" cy="520.2" r="4.6"/><circle cx="1557.9" cy="503.9" r="4.6"/><circle cx="1522.3" cy="536.5" r="4.6"/><circle cx="1512.1" cy="549.9" r="4.6"/><circle cx="1557.9" cy="550.7" r="4.6"/><circle cx="1583.4" cy="527.3" r="4.6"/><circle cx="1573.2" cy="490.3" r="4.6"/><circle cx="1537.6" cy="562.8" r="4.6"/><circle cx="1542.7" cy="522.8" r="4.6"/><circle cx="1537.6" cy="556.4" r="4.6"/><circle cx="1608.8" cy="516.3" r="4.6"/><circle cx="1557.9" cy="499.3" r="4.6"/><circle cx="1547.7" cy="522.1" r="4.6"/><circle cx="1532.5" cy="543.6" r="4.6"/><circle cx="1593.6" cy="491.2" r="4.6"/><circle cx="1603.7" cy="535.4" r="4.6"/><circle cx="1568.1" cy="543.1" r="4.6"/><circle cx="1527.4" cy="543.5" r="4.6"/><circle cx="1598.7" cy="498.9" r="4.6"/><circle cx="1583.4" cy="486.2" r="4.6"/><circle cx="1542.7" cy="555.9" r="4.6"/><circle cx="1557.9" cy="547.8" r="4.6"/><circle cx="1537.6" cy="542.9" r="4.6"/><circle cx="1573.2" cy="528.7" r="4.6"/><circle cx="1547.7" cy="508.5" r="4.6"/><circle cx="1639.4" cy="530.5" r="4.6"/><circle cx="1522.3" cy="562.5" r="4.6"/><circle cx="1603.7" cy="554.7" r="4.6"/><circle cx="1583.4" cy="521.1" r="4.6"/><circle cx="1542.7" cy="514.2" r="4.6"/><circle cx="1507" cy="561.3" r="4.6"/><circle cx="1557.9" cy="561.6" r="4.6"/><circle cx="1598.7" cy="545.7" r="4.6"/><circle cx="1527.4" cy="562" r="4.6"/><circle cx="1573.2" cy="532.5" r="4.6"/><circle cx="1573.2" cy="514.9" r="4.6"/><circle cx="1593.6" cy="487" r="4.6"/><circle cx="1578.3" cy="550.3" r="4.6"/><circle cx="1557.9" cy="553.8" r="4.6"/><circle cx="1507" cy="554.9" r="4.6"/><circle cx="1583.4" cy="551.1" r="4.6"/><circle cx="1542.7" cy="545.7" r="4.6"/><circle cx="1578.3" cy="525.9" r="4.6"/><circle cx="1573.2" cy="505.7" r="4.6"/><circle cx="1552.8" cy="510.4" r="4.6"/><circle cx="1608.8" cy="551.3" r="4.6"/><circle cx="1613.9" cy="512.8" r="4.6"/><circle cx="1527.4" cy="545.6" r="4.6"/><circle cx="1573.2" cy="491.3" r="4.6"/><circle cx="1552.8" cy="528.1" r="4.6"/><circle cx="1603.7" cy="504.8" r="4.6"/><circle cx="1619" cy="529.6" r="4.6"/><circle cx="1578.3" cy="549.9" r="4.6"/><circle cx="1583.4" cy="498.8" r="4.6"/><circle cx="1573.2" cy="509.3" r="4.6"/><circle cx="1537.6" cy="509.9" r="4.6"/><circle cx="1639.4" cy="508.4" r="4.6"/><circle cx="1563" cy="505.6" r="4.6"/><circle cx="1547.7" cy="502.7" r="4.6"/><circle cx="1598.7" cy="538.4" r="4.6"/><circle cx="1522.3" cy="549.4" r="4.6"/><circle cx="1568.1" cy="505.2" r="4.6"/><circle cx="1557.9" cy="561.4" r="4.6"/><circle cx="1593.6" cy="556.9" r="4.6"/><circle cx="1593.6" cy="550.9" r="4.6"/><circle cx="1547.7" cy="512.6" r="4.6"/><circle cx="1527.4" cy="558.7" r="4.6"/><circle cx="1563" cy="511.5" r="4.6"/><circle cx="1598.7" cy="512.4" r="4.6"/><circle cx="1619" cy="527.9" r="4.6"/><circle cx="1619" cy="548.3" r="4.6"/><circle cx="1537.6" cy="535.8" r="4.6"/><circle cx="1542.7" cy="519" r="4.6"/><circle cx="1573.2" cy="526.3" r="4.6"/><circle cx="1598.7" cy="522.7" r="4.6"/><circle cx="1542.7" cy="543.4" r="4.6"/><circle cx="1598.7" cy="494.4" r="4.6"/><circle cx="1537.6" cy="513.5" r="4.6"/><circle cx="1629.2" cy="527.1" r="4.6"/><circle cx="1568.1" cy="551.2" r="4.6"/><circle cx="1563" cy="530" r="4.6"/><circle cx="1573.2" cy="560.4" r="4.6"/><circle cx="1629.2" cy="527.5" r="4.6"/><circle cx="1552.8" cy="509.7" r="4.6"/><circle cx="1568.1" cy="529.4" r="4.6"/><circle cx="1578.3" cy="558.2" r="4.6"/><circle cx="1563" cy="536.9" r="4.6"/><circle cx="1624.1" cy="503.3" r="4.6"/><circle cx="1542.7" cy="537.3" r="4.6"/><circle cx="1527.4" cy="546.5" r="4.6"/><circle cx="1593.6" cy="492.5" r="4.6"/><circle cx="1557.9" cy="545" r="4.6"/><circle cx="1532.5" cy="532.5" r="4.6"/><circle cx="1613.9" cy="547.9" r="4.6"/><circle cx="1588.5" cy="559.2" r="4.6"/><circle cx="1532.5" cy="554.3" r="4.6"/><circle cx="1578.3" cy="541.7" r="4.6"/><circle cx="1547.7" cy="525.6" r="4.6"/><circle cx="1522.3" cy="537.4" r="4.6"/><circle cx="1527.4" cy="542.8" r="4.6"/><circle cx="1537.6" cy="555" r="4.6"/><circle cx="1563" cy="535.2" r="4.6"/><circle cx="1552.8" cy="539.4" r="4.6"/><circle cx="1563" cy="554.4" r="4.6"/><circle cx="1537.6" cy="528.9" r="4.6"/><circle cx="1573.2" cy="525.7" r="4.6"/><circle cx="1598.7" cy="518.6" r="4.6"/><circle cx="1598.7" cy="546" r="4.6"/><circle cx="1583.4" cy="499.5" r="4.6"/><circle cx="1608.8" cy="539.1" r="4.6"/><circle cx="1547.7" cy="501.7" r="4.6"/><circle cx="1537.6" cy="502.6" r="4.6"/><circle cx="1608.8" cy="549.1" r="4.6"/><circle cx="1537.6" cy="522.4" r="4.6"/><circle cx="1542.7" cy="559.5" r="4.6"/><circle cx="1598.7" cy="533.2" r="4.6"/><circle cx="1593.6" cy="553.6" r="4.6"/><circle cx="1552.8" cy="519" r="4.6"/><circle cx="1507" cy="560.2" r="4.6"/><circle cx="1578.3" cy="490.5" r="4.6"/><circle cx="1629.2" cy="544.6" r="4.6"/><circle cx="1563" cy="508.5" r="4.6"/><circle cx="1563" cy="514.8" r="4.6"/><circle cx="1532.5" cy="561" r="4.6"/><circle cx="1522.3" cy="562.4" r="4.6"/><circle cx="1568.1" cy="527.5" r="4.6"/><circle cx="1568.1" cy="554.7" r="4.6"/><circle cx="1532.5" cy="555.4" r="4.6"/><circle cx="1598.7" cy="486.4" r="4.6"/><circle cx="1613.9" cy="549.4" r="4.6"/><circle cx="1517.2" cy="535.7" r="4.6"/><circle cx="1557.9" cy="510.3" r="4.6"/><circle cx="1547.7" cy="536.7" r="4.6"/><circle cx="1563" cy="535.7" r="4.6"/><circle cx="1573.2" cy="561" r="4.6"/><circle cx="1583.4" cy="496.4" r="4.6"/><circle cx="1532.5" cy="542.3" r="4.6"/><circle cx="1583.4" cy="534.8" r="4.6"/><circle cx="1532.5" cy="557.1" r="4.6"/><circle cx="1563" cy="561.6" r="4.6"/><circle cx="1608.8" cy="505.8" r="4.6"/><circle cx="1583.4" cy="494.8" r="4.6"/><circle cx="1573.2" cy="535.9" r="4.6"/><circle cx="1573.2" cy="527.8" r="4.6"/><circle cx="1639.4" cy="516.1" r="4.6"/><circle cx="1542.7" cy="504.8" r="4.6"/><circle cx="1583.4" cy="502.6" r="4.6"/><circle cx="1593.6" cy="534.7" r="4.6"/><circle cx="1608.8" cy="499.8" r="4.6"/><circle cx="1578.3" cy="504.1" r="4.6"/><circle cx="1588.5" cy="534.2" r="4.6"/><circle cx="1583.4" cy="557.5" r="4.6"/><circle cx="1547.7" cy="536.6" r="4.6"/><circle cx="1507" cy="557.3" r="4.6"/><circle cx="1573.2" cy="517.6" r="4.6"/><circle cx="1537.6" cy="506.6" r="4.6"/><circle cx="1578.3" cy="540.5" r="4.6"/><circle cx="1578.3" cy="521.8" r="4.6"/><circle cx="1563" cy="538.7" r="4.6"/><circle cx="1654.7" cy="524.9" r="4.6"/><circle cx="1583.4" cy="504.1" r="4.6"/><circle cx="1634.3" cy="545.7" r="4.6"/><circle cx="1573.2" cy="507.3" r="4.6"/><circle cx="1537.6" cy="543.7" r="4.6"/><circle cx="1517.2" cy="559.2" r="4.6"/><circle cx="1552.8" cy="558.7" r="4.6"/><circle cx="1537.6" cy="509.5" r="4.6"/><circle cx="1568.1" cy="528.1" r="4.6"/><circle cx="1629.2" cy="525" r="4.6"/><circle cx="1649.6" cy="524.4" r="4.6"/><circle cx="1593.6" cy="556.3" r="4.6"/><circle cx="1573.2" cy="505.5" r="4.6"/><circle cx="1517.2" cy="536.5" r="4.6"/><circle cx="1532.5" cy="541.2" r="4.6"/><circle cx="1532.5" cy="539.9" r="4.6"/><circle cx="1573.2" cy="559" r="4.6"/><circle cx="1619" cy="532" r="4.6"/><circle cx="1563" cy="522.2" r="4.6"/><circle cx="1547.7" cy="548.6" r="4.6"/><circle cx="1578.3" cy="522.5" r="4.6"/><circle cx="1542.7" cy="519.9" r="4.6"/><circle cx="1542.7" cy="562.7" r="4.6"/><circle cx="1537.6" cy="561.8" r="4.6"/><circle cx="1532.5" cy="523.8" r="4.6"/><circle cx="1552.8" cy="501.6" r="4.6"/><circle cx="1588.5" cy="558" r="4.6"/><circle cx="1644.5" cy="512" r="4.6"/><circle cx="1522.3" cy="529.5" r="4.6"/><circle cx="1552.8" cy="534.8" r="4.6"/><circle cx="1634.3" cy="539" r="4.6"/><circle cx="1563" cy="492.2" r="4.6"/><circle cx="1583.4" cy="529.7" r="4.6"/><circle cx="1634.3" cy="514.1" r="4.6"/><circle cx="1573.2" cy="556" r="4.6"/><circle cx="1573.2" cy="531.8" r="4.6"/><circle cx="1537.6" cy="561.5" r="4.6"/><circle cx="1563" cy="556.4" r="4.6"/><circle cx="1557.9" cy="518.4" r="4.6"/><circle cx="1557.9" cy="548.6" r="4.6"/><circle cx="1568.1" cy="535.2" r="4.6"/><circle cx="1588.5" cy="524" r="4.6"/><circle cx="1654.7" cy="516" r="4.6"/><circle cx="1583.4" cy="547.2" r="4.6"/><circle cx="1527.4" cy="522.4" r="4.6"/><circle cx="1588.5" cy="515.9" r="4.6"/><circle cx="1547.7" cy="549.5" r="4.6"/><circle cx="1578.3" cy="522.2" r="4.6"/><circle cx="1568.1" cy="517.4" r="4.6"/><circle cx="1588.5" cy="549.9" r="4.6"/><circle cx="1537.6" cy="504" r="4.6"/><circle cx="1613.9" cy="501.7" r="4.6"/><circle cx="1512.1" cy="562.3" r="4.6"/><circle cx="1542.7" cy="540.6" r="4.6"/><circle cx="1573.2" cy="556.7" r="4.6"/><circle cx="1563" cy="559.2" r="4.6"/><circle cx="1522.3" cy="539.7" r="4.6"/><circle cx="1568.1" cy="517.5" r="4.6"/><circle cx="1552.8" cy="534.8" r="4.6"/><circle cx="1537.6" cy="547.1" r="4.6"/><circle cx="1583.4" cy="496.9" r="4.6"/><circle cx="1522.3" cy="560.3" r="4.6"/><circle cx="1593.6" cy="517.1" r="4.6"/><circle cx="1588.5" cy="548.4" r="4.6"/><circle cx="1552.8" cy="549.7" r="4.6"/><circle cx="1593.6" cy="537.4" r="4.6"/><circle cx="1578.3" cy="483" r="4.6"/><circle cx="1547.7" cy="530.9" r="4.6"/><circle cx="1588.5" cy="488.4" r="4.6"/><circle cx="1552.8" cy="542.4" r="4.6"/><circle cx="1522.3" cy="530.9" r="4.6"/><circle cx="1522.3" cy="561.3" r="4.6"/><circle cx="1568.1" cy="530" r="4.6"/><circle cx="1578.3" cy="543.4" r="4.6"/><circle cx="1588.5" cy="556.7" r="4.6"/><circle cx="1537.6" cy="526.9" r="4.6"/><circle cx="1690.3" cy="248.6" r="4.6"/><circle cx="1731" cy="246.3" r="4.6"/><circle cx="1731" cy="263.8" r="4.6"/><circle cx="1700.5" cy="278.2" r="4.6"/><circle cx="1802.3" cy="311.2" r="4.6"/><circle cx="1787" cy="328.3" r="4.6"/><circle cx="1792.1" cy="335.6" r="4.6"/><circle cx="1700.5" cy="332.5" r="4.6"/><circle cx="1695.4" cy="337.7" r="4.6"/><circle cx="1695.4" cy="355" r="4.6"/><circle cx="1720.8" cy="352.9" r="4.6"/><circle cx="1669.9" cy="364.4" r="4.6"/><circle cx="1695.4" cy="365.9" r="4.6"/><circle cx="1725.9" cy="371.5" r="4.6"/><circle cx="1654.7" cy="387.2" r="4.6"/><circle cx="1736.1" cy="390.5" r="4.6"/><circle cx="1644.5" cy="398.9" r="4.6"/><circle cx="1583.4" cy="405.1" r="4.6"/><circle cx="1598.7" cy="402" r="4.6"/><circle cx="1624.1" cy="409.1" r="4.6"/><circle cx="1629.2" cy="409.7" r="4.6"/><circle cx="1675" cy="408.7" r="4.6"/><circle cx="1685.2" cy="408.2" r="4.6"/><circle cx="1700.5" cy="405.5" r="4.6"/><circle cx="1725.9" cy="407.2" r="4.6"/><circle cx="1746.3" cy="405.5" r="4.6"/><circle cx="1761.6" cy="406.2" r="4.6"/><circle cx="1619" cy="422.6" r="4.6"/><circle cx="1583.4" cy="435.8" r="4.6"/><circle cx="1598.7" cy="433.7" r="4.6"/><circle cx="1639.4" cy="444.1" r="4.6"/><circle cx="1644.5" cy="447.3" r="4.6"/><circle cx="1629.2" cy="455" r="4.6"/><circle cx="1659.7" cy="456.2" r="4.6"/><circle cx="1720.8" cy="444.1" r="4.6"/><circle cx="1710.7" cy="452.1" r="4.6"/><circle cx="1695.4" cy="458.3" r="4.6"/><circle cx="1675" cy="467.1" r="4.6"/><circle cx="1700.5" cy="476.9" r="4.6"/><circle cx="1751.4" cy="484.4" r="4.6"/><circle cx="1766.7" cy="484.4" r="4.6"/><circle cx="1802.3" cy="501.5" r="4.6"/><circle cx="1695.4" cy="504.6" r="4.6"/><circle cx="1552.8" cy="470.6" r="4.6"/><circle cx="1568.1" cy="466" r="4.6"/><circle cx="1578.3" cy="463.3" r="4.6"/><circle cx="1578.3" cy="470.2" r="4.6"/><circle cx="1588.5" cy="445.2" r="4.6"/><circle cx="1588.5" cy="449.3" r="4.6"/><circle cx="1583.4" cy="449.3" r="4.6"/><circle cx="1593.6" cy="449.3" r="4.6"/><circle cx="1588.5" cy="464" r="4.6"/><circle cx="1598.7" cy="460.8" r="4.6"/><circle cx="1598.7" cy="466" r="4.6"/><circle cx="1568.1" cy="478.6" r="4.6"/><circle cx="1573.2" cy="481.7" r="4.6"/><circle cx="1588.5" cy="480.6" r="4.6"/><circle cx="1547.7" cy="495.3" r="4.6"/><circle cx="1542.7" cy="498.4" r="4.6"/><circle cx="1532.5" cy="505.3" r="4.6"/><circle cx="1624.1" cy="469.2" r="4.6"/><circle cx="1634.3" cy="472.7" r="4.6"/><circle cx="1624.1" cy="475.4" r="4.6"/><circle cx="1613.9" cy="483.8" r="4.6"/><circle cx="1675" cy="485.9" r="4.6"/><circle cx="1675" cy="487.9" r="4.6"/><circle cx="1669.9" cy="494.2" r="4.6"/><circle cx="1654.7" cy="489" r="4.6"/><circle cx="1659.7" cy="494.2" r="4.6"/><circle cx="1659.7" cy="500.9" r="4.6"/><circle cx="1649.6" cy="500.5" r="4.6"/><circle cx="1639.4" cy="500.5" r="4.6"/><circle cx="1644.5" cy="510.3" r="4.6"/><circle cx="1664.8" cy="517.2" r="4.6"/><circle cx="1664.8" cy="522.4" r="4.6"/><circle cx="1664.8" cy="523" r="4.6"/><circle cx="1669.9" cy="527.2" r="4.6"/><circle cx="1664.8" cy="536.4" r="4.6"/><circle cx="1654.7" cy="537.6" r="4.6"/><circle cx="1644.5" cy="553.1" r="4.6"/><circle cx="1619" cy="548.5" r="4.6"/><circle cx="1593.6" cy="558.9" r="4.6"/><circle cx="1649.6" cy="530.3" r="4.6"/><circle cx="1644.5" cy="530.7" r="4.6"/><circle cx="1639.4" cy="522.4" r="4.6"/><circle cx="1639.4" cy="542.2" r="4.6"/><circle cx="1634.3" cy="538" r="4.6"/><circle cx="1629.2" cy="538" r="4.6"/><circle cx="1501.9" cy="550.5" r="4.6"/><circle cx="1507" cy="542.2" r="4.6"/><circle cx="1512.1" cy="534.9" r="4.6"/><circle cx="1522.3" cy="529.7" r="4.6"/><circle cx="1527.4" cy="515.1" r="4.6"/><circle cx="1507" cy="553.7" r="4.6"/><circle cx="1537.6" cy="563.1" r="4.6"/><circle cx="1527.4" cy="562" r="4.6"/><circle cx="1563" cy="558.9" r="4.6"/><circle cx="1573.2" cy="554.7" r="4.6"/><circle cx="1583.4" cy="555.8" r="4.6"/><circle cx="1588.5" cy="552.6" r="4.6"/><circle cx="1939.7" cy="322.7" r="4.6"/><circle cx="1934.7" cy="370.5" r="4.6"/></g>
<path class="gl" d="M1532.5 560.1 L1534.5 557.4 L1536.5 554.6 L1538.5 552 L1540.5 549.4 L1542.6 546.9 L1544.6 544.4 L1546.6 542 L1548.6 539.7 L1550.6 537.5 L1552.6 535.4 L1554.7 533.4 L1556.7 531.4 L1558.7 529.6 L1560.7 527.8 L1562.7 526.1 L1564.7 524.4 L1566.8 522.9 L1568.8 521.3 L1570.8 519.9 L1572.8 518.5 L1574.8 517.1 L1576.8 515.8 L1578.8 514.5 L1580.9 513.2 L1582.9 512 L1584.9 510.8 L1586.9 509.6 L1588.9 508.5 L1590.9 507.4 L1593 506.3 L1595 505.2 L1597 504.2 L1599 503.1 L1601 502.1 L1603 501.1 L1605.1 500.1 L1607.1 499.1 L1609.1 498.2 L1611.1 497.2 L1613.1 496.3 L1615.1 495.4 L1617.2 494.5 L1619.2 493.6 L1621.2 492.7 L1623.2 491.8 L1625.2 490.9 L1627.2 490.1 L1629.3 489.2 L1631.3 488.4 L1633.3 487.6 L1635.3 486.7 L1637.3 485.9 L1639.3 485.1 L1641.4 484.4 L1643.4 483.6 L1645.4 482.8 L1647.4 482.1 L1649.4 481.3 L1651.4 480.6 L1653.4 479.8 L1655.5 479.1 L1657.5 478.4 L1659.5 477.7 L1661.5 477 L1663.5 476.3 L1665.5 475.6 L1667.6 475 L1669.6 474.3 L1671.6 473.6 L1673.6 473 L1675.6 472.3 L1677.6 471.7 L1679.7 471 L1681.7 470.4 L1683.7 469.8 L1685.7 469.2 L1687.7 468.6 L1689.7 467.9 L1691.8 467.3 L1693.8 466.8 L1695.8 466.2 L1697.8 465.6 L1699.8 465 L1701.8 464.4 L1703.9 463.9 L1705.9 463.3 L1707.9 462.7 L1709.9 462.2 L1711.9 461.6 L1713.9 461.1 L1716 460.5 L1718 460 L1720 459.5 L1722 459 L1724 458.4 L1726 457.9 L1728 457.4 L1730.1 456.9 L1732.1 456.4 L1734.1 455.9 L1736.1 455.4 L1738.1 454.9 L1740.1 454.4 L1742.2 454 L1744.2 453.5 L1746.2 453 L1748.2 452.6 L1750.2 452.1 L1752.2 451.6 L1754.3 451.2 L1756.3 450.7 L1758.3 450.3 L1760.3 449.9 L1762.3 449.4 L1764.3 449 L1766.4 448.6 L1768.4 448.2 L1770.4 447.7 L1772.4 447.3 L1774.4 446.9 L1776.4 446.5 L1778.5 446.1 L1780.5 445.7 L1782.5 445.3 L1784.5 444.9 L1786.5 444.5 L1788.5 444.1 L1790.6 443.7 L1792.6 443.4 L1794.6 443 L1796.6 442.6 L1798.6 442.2 L1800.6 441.9 L1802.6 441.5 L1804.7 441.2 L1806.7 440.8 L1808.7 440.5 L1810.7 440.1 L1812.7 439.8 L1814.7 439.4 L1816.8 439.1 L1818.8 438.7 L1820.8 438.4 L1822.8 438.1 L1824.8 437.7 L1826.8 437.4 L1828.9 437.1 L1830.9 436.8 L1832.9 436.5 L1834.9 436.1 L1836.9 435.8 L1838.9 435.5 L1841 435.2 L1843 434.9 L1845 434.6 L1847 434.3 L1849 434 L1851 433.7 L1853.1 433.4 L1855.1 433.1 L1857.1 432.8 L1859.1 432.5 L1861.1 432.3 L1863.1 432 L1865.1 431.7 L1867.2 431.4 L1869.2 431.1 L1871.2 430.9 L1873.2 430.6 L1875.2 430.3 L1877.2 430 L1879.3 429.8 L1881.3 429.5 L1883.3 429.2 L1885.3 429 L1887.3 428.7 L1889.3 428.5 L1891.4 428.2 L1893.4 427.9 L1895.4 427.7 L1897.4 427.4 L1899.4 427.2 L1901.4 426.9 L1903.5 426.7 L1905.5 426.4 L1907.5 426.2 L1909.5 425.9 L1911.5 425.7 L1913.5 425.4 L1915.6 425.2 L1917.6 425 L1919.6 424.7 L1921.6 424.5 L1923.6 424.2 L1925.6 424 L1927.7 423.8 L1929.7 423.5 L1931.7 423.3 L1933.7 423 L1935.7 422.8 L1937.7 422.6 L1939.7 422.3"/>
<path d="M1496.8 561.7 L1498.9 561.8 L1500.9 561.8 L1502.9 561.7 L1504.9 561.5 L1506.9 561.3 L1508.9 560.9 L1510.9 560.6 L1512.9 560.1 L1515 559.6 L1517 559 L1519 558.3 L1521 557.6 L1523 556.8 L1525 555.9 L1527 555 L1529.1 554 L1531.1 553 L1533.1 551.9 L1535.1 550.7 L1537.1 549.5 L1539.1 548.2 L1541.1 546.8 L1543.1 545.4 L1545.2 544 L1547.2 542.5 L1549.2 540.9 L1551.2 539.2 L1553.2 537.6 L1555.2 535.8 L1557.2 534 L1559.3 532.2 L1561.3 530.3 L1563.3 528.4 L1565.3 526.4 L1567.3 524.5 L1569.3 522.4 L1571.3 520.4 L1573.3 518.3 L1575.4 516.2 L1577.4 514 L1579.4 511.9 L1581.4 509.7 L1583.4 507.5 L1585.4 505.3 L1587.4 503.1 L1589.4 500.9 L1591.5 498.7 L1593.5 496.5 L1595.5 494.3 L1597.5 492.1 L1599.5 489.9 L1601.5 487.7 L1603.5 485.5 L1605.6 483.4 L1607.6 481.2 L1609.6 479.1 L1611.6 477 L1613.6 474.9 L1615.6 472.9 L1617.6 470.8 L1619.6 468.8 L1621.7 466.8 L1623.7 464.8 L1625.7 462.8 L1627.7 460.9 L1629.7 458.9 L1631.7 457 L1633.7 455.2 L1635.8 453.3 L1637.8 451.5 L1639.8 449.7 L1641.8 447.9 L1643.8 446.2 L1645.8 444.4 L1647.8 442.7 L1649.8 441 L1651.9 439.4 L1653.9 437.8 L1655.9 436.2 L1657.9 434.6 L1659.9 433.1 L1661.9 431.6 L1663.9 430.1 L1666 428.6 L1668 427.2 L1670 425.8 L1672 424.4 L1674 423.1 L1676 421.8 L1678 420.5 L1680 419.2 L1682.1 418 L1684.1 416.7 L1686.1 415.5 L1688.1 414.4 L1690.1 413.2 L1692.1 412.1 L1694.1 411 L1696.1 409.9 L1698.2 408.8 L1700.2 407.8 L1702.2 406.7 L1704.2 405.7 L1706.2 404.8 L1708.2 403.8 L1710.2 402.9 L1712.3 401.9 L1714.3 401 L1716.3 400.2 L1718.3 399.3 L1720.3 398.5 L1722.3 397.6 L1724.3 396.8 L1726.3 396 L1728.4 395.3 L1730.4 394.5 L1732.4 393.8 L1734.4 393 L1736.4 392.3 L1738.4 391.6 L1740.4 391 L1742.5 390.3 L1744.5 389.7 L1746.5 389 L1748.5 388.4 L1750.5 387.8 L1752.5 387.2 L1754.5 386.6 L1756.5 386.1 L1758.6 385.5 L1760.6 385 L1762.6 384.5 L1764.6 383.9 L1766.6 383.4 L1768.6 382.9 L1770.6 382.5 L1772.7 382 L1774.7 381.5 L1776.7 381.1 L1778.7 380.6 L1780.7 380.2 L1782.7 379.8 L1784.7 379.4 L1786.7 378.9 L1788.8 378.5 L1790.8 378.1 L1792.8 377.8 L1794.8 377.4 L1796.8 377 L1798.8 376.6 L1800.8 376.3 L1802.9 375.9 L1804.9 375.6 L1806.9 375.2 L1808.9 374.9 L1810.9 374.6 L1812.9 374.2 L1814.9 373.9 L1816.9 373.6 L1819 373.3 L1821 373 L1823 372.7 L1825 372.4 L1827 372.1 L1829 371.8 L1831 371.6 L1833 371.3 L1835.1 371 L1837.1 370.8 L1839.1 370.5 L1841.1 370.3 L1843.1 370 L1845.1 369.8 L1847.1 369.6 L1849.2 369.3 L1851.2 369.1 L1853.2 368.9 L1855.2 368.7 L1857.2 368.5 L1859.2 368.3 L1861.2 368.1 L1863.2 367.9 L1865.3 367.7 L1867.3 367.5 L1869.3 367.3 L1871.3 367.1 L1873.3 366.9 L1875.3 366.8 L1877.3 366.6 L1879.4 366.5 L1881.4 366.3 L1883.4 366.1 L1885.4 366 L1887.4 365.8 L1889.4 365.7 L1891.4 365.6 L1893.4 365.4 L1895.5 365.3 L1897.5 365.2 L1899.5 365.1 L1901.5 364.9 L1903.5 364.8 L1905.5 364.7 L1907.5 364.6 L1909.6 364.5 L1911.6 364.4 L1913.6 364.3 L1915.6 364.2 L1917.6 364.1 L1919.6 364 L1921.6 364 L1923.6 363.9 L1925.7 363.8 L1927.7 363.7 L1929.7 363.7 L1931.7 363.6 L1933.7 363.5 L1935.7 363.5 L1937.7 363.4 L1939.7 363.3 L1939.7 431.6 L1937.7 431.7 L1935.7 431.9 L1933.7 432 L1931.7 432.2 L1929.7 432.3 L1927.7 432.5 L1925.7 432.6 L1923.6 432.8 L1921.6 432.9 L1919.6 433.1 L1917.6 433.3 L1915.6 433.4 L1913.6 433.6 L1911.6 433.7 L1909.6 433.9 L1907.5 434 L1905.5 434.2 L1903.5 434.4 L1901.5 434.5 L1899.5 434.7 L1897.5 434.9 L1895.5 435 L1893.4 435.2 L1891.4 435.4 L1889.4 435.5 L1887.4 435.7 L1885.4 435.9 L1883.4 436.1 L1881.4 436.3 L1879.4 436.5 L1877.3 436.7 L1875.3 436.9 L1873.3 437.1 L1871.3 437.3 L1869.3 437.5 L1867.3 437.7 L1865.3 437.9 L1863.2 438.1 L1861.2 438.4 L1859.2 438.6 L1857.2 438.8 L1855.2 439.1 L1853.2 439.3 L1851.2 439.6 L1849.2 439.8 L1847.1 440.1 L1845.1 440.3 L1843.1 440.6 L1841.1 440.9 L1839.1 441.2 L1837.1 441.5 L1835.1 441.8 L1833 442.1 L1831 442.4 L1829 442.7 L1827 443 L1825 443.3 L1823 443.7 L1821 444 L1819 444.4 L1816.9 444.7 L1814.9 445.1 L1812.9 445.5 L1810.9 445.8 L1808.9 446.2 L1806.9 446.6 L1804.9 447 L1802.9 447.4 L1800.8 447.9 L1798.8 448.3 L1796.8 448.7 L1794.8 449.2 L1792.8 449.6 L1790.8 450.1 L1788.8 450.6 L1786.7 451.1 L1784.7 451.6 L1782.7 452.1 L1780.7 452.6 L1778.7 453.1 L1776.7 453.6 L1774.7 454.2 L1772.7 454.7 L1770.6 455.3 L1768.6 455.8 L1766.6 456.4 L1764.6 457 L1762.6 457.6 L1760.6 458.2 L1758.6 458.8 L1756.5 459.4 L1754.5 460 L1752.5 460.6 L1750.5 461.3 L1748.5 461.9 L1746.5 462.6 L1744.5 463.3 L1742.5 463.9 L1740.4 464.6 L1738.4 465.3 L1736.4 466 L1734.4 466.7 L1732.4 467.4 L1730.4 468.1 L1728.4 468.9 L1726.3 469.6 L1724.3 470.4 L1722.3 471.1 L1720.3 471.9 L1718.3 472.7 L1716.3 473.4 L1714.3 474.2 L1712.3 475 L1710.2 475.8 L1708.2 476.6 L1706.2 477.4 L1704.2 478.3 L1702.2 479.1 L1700.2 480 L1698.2 480.8 L1696.1 481.7 L1694.1 482.5 L1692.1 483.4 L1690.1 484.3 L1688.1 485.2 L1686.1 486.1 L1684.1 487 L1682.1 487.9 L1680 488.8 L1678 489.7 L1676 490.7 L1674 491.6 L1672 492.5 L1670 493.5 L1668 494.5 L1666 495.4 L1663.9 496.4 L1661.9 497.4 L1659.9 498.4 L1657.9 499.4 L1655.9 500.4 L1653.9 501.4 L1651.9 502.4 L1649.8 503.5 L1647.8 504.5 L1645.8 505.5 L1643.8 506.6 L1641.8 507.6 L1639.8 508.7 L1637.8 509.7 L1635.8 510.8 L1633.7 511.9 L1631.7 512.9 L1629.7 514 L1627.7 515.1 L1625.7 516.1 L1623.7 517.2 L1621.7 518.3 L1619.6 519.4 L1617.6 520.4 L1615.6 521.5 L1613.6 522.6 L1611.6 523.6 L1609.6 524.7 L1607.6 525.7 L1605.6 526.8 L1603.5 527.8 L1601.5 528.9 L1599.5 529.9 L1597.5 530.9 L1595.5 532 L1593.5 533 L1591.5 534 L1589.4 535 L1587.4 536 L1585.4 537 L1583.4 537.9 L1581.4 538.9 L1579.4 539.9 L1577.4 540.8 L1575.4 541.7 L1573.3 542.6 L1571.3 543.5 L1569.3 544.4 L1567.3 545.3 L1565.3 546.2 L1563.3 547 L1561.3 547.8 L1559.3 548.6 L1557.2 549.4 L1555.2 550.2 L1553.2 550.9 L1551.2 551.7 L1549.2 552.4 L1547.2 553.1 L1545.2 553.8 L1543.1 554.4 L1541.1 555 L1539.1 555.6 L1537.1 556.2 L1535.1 556.8 L1533.1 557.3 L1531.1 557.8 L1529.1 558.3 L1527 558.8 L1525 559.2 L1523 559.6 L1521 560 L1519 560.4 L1517 560.7 L1515 561 L1512.9 561.3 L1510.9 561.5 L1508.9 561.7 L1506.9 561.9 L1504.9 562.1 L1502.9 562.2 L1500.9 562.3 L1498.9 562.3 L1496.8 562.4Z" fill="#E69F00" fill-opacity="0.2"/>
<path class="ml" stroke="#E69F00" d="M1496.8 563.2 L1498.9 563.1 L1500.9 563 L1502.9 562.8 L1504.9 562.5 L1506.9 562.2 L1508.9 561.8 L1510.9 561.3 L1512.9 560.8 L1515 560.2 L1517 559.5 L1519 558.8 L1521 558.1 L1523 557.3 L1525 556.4 L1527 555.5 L1529.1 554.6 L1531.1 553.6 L1533.1 552.6 L1535.1 551.5 L1537.1 550.5 L1539.1 549.3 L1541.1 548.2 L1543.1 547 L1545.2 545.8 L1547.2 544.6 L1549.2 543.4 L1551.2 542.1 L1553.2 540.8 L1555.2 539.5 L1557.2 538.2 L1559.3 536.9 L1561.3 535.6 L1563.3 534.2 L1565.3 532.9 L1567.3 531.5 L1569.3 530.1 L1571.3 528.7 L1573.3 527.4 L1575.4 526 L1577.4 524.5 L1579.4 523.1 L1581.4 521.7 L1583.4 520.3 L1585.4 518.8 L1587.4 517.4 L1589.4 515.9 L1591.5 514.5 L1593.5 513 L1595.5 511.6 L1597.5 510.1 L1599.5 508.7 L1601.5 507.2 L1603.5 505.7 L1605.6 504.3 L1607.6 502.8 L1609.6 501.4 L1611.6 499.9 L1613.6 498.5 L1615.6 497 L1617.6 495.6 L1619.6 494.1 L1621.7 492.7 L1623.7 491.3 L1625.7 489.8 L1627.7 488.4 L1629.7 487 L1631.7 485.6 L1633.7 484.2 L1635.8 482.8 L1637.8 481.5 L1639.8 480.1 L1641.8 478.8 L1643.8 477.4 L1645.8 476.1 L1647.8 474.8 L1649.8 473.5 L1651.9 472.2 L1653.9 470.9 L1655.9 469.7 L1657.9 468.4 L1659.9 467.2 L1661.9 466 L1663.9 464.8 L1666 463.6 L1668 462.4 L1670 461.3 L1672 460.1 L1674 459 L1676 457.9 L1678 456.8 L1680 455.7 L1682.1 454.7 L1684.1 453.6 L1686.1 452.6 L1688.1 451.6 L1690.1 450.5 L1692.1 449.6 L1694.1 448.6 L1696.1 447.6 L1698.2 446.6 L1700.2 445.7 L1702.2 444.8 L1704.2 443.8 L1706.2 442.9 L1708.2 442 L1710.2 441.2 L1712.3 440.3 L1714.3 439.4 L1716.3 438.6 L1718.3 437.8 L1720.3 436.9 L1722.3 436.1 L1724.3 435.3 L1726.3 434.6 L1728.4 433.8 L1730.4 433 L1732.4 432.3 L1734.4 431.5 L1736.4 430.8 L1738.4 430.1 L1740.4 429.4 L1742.5 428.7 L1744.5 428 L1746.5 427.3 L1748.5 426.7 L1750.5 426 L1752.5 425.4 L1754.5 424.8 L1756.5 424.1 L1758.6 423.5 L1760.6 422.9 L1762.6 422.3 L1764.6 421.7 L1766.6 421.2 L1768.6 420.6 L1770.6 420.1 L1772.7 419.5 L1774.7 419 L1776.7 418.5 L1778.7 417.9 L1780.7 417.4 L1782.7 416.9 L1784.7 416.4 L1786.7 416 L1788.8 415.5 L1790.8 415 L1792.8 414.6 L1794.8 414.1 L1796.8 413.7 L1798.8 413.2 L1800.8 412.8 L1802.9 412.4 L1804.9 412 L1806.9 411.6 L1808.9 411.2 L1810.9 410.8 L1812.9 410.4 L1814.9 410.1 L1816.9 409.7 L1819 409.3 L1821 409 L1823 408.6 L1825 408.3 L1827 408 L1829 407.6 L1831 407.3 L1833 407 L1835.1 406.7 L1837.1 406.4 L1839.1 406.1 L1841.1 405.8 L1843.1 405.5 L1845.1 405.2 L1847.1 405 L1849.2 404.7 L1851.2 404.4 L1853.2 404.2 L1855.2 403.9 L1857.2 403.7 L1859.2 403.4 L1861.2 403.2 L1863.2 402.9 L1865.3 402.7 L1867.3 402.5 L1869.3 402.2 L1871.3 402 L1873.3 401.8 L1875.3 401.6 L1877.3 401.4 L1879.4 401.2 L1881.4 401 L1883.4 400.8 L1885.4 400.6 L1887.4 400.4 L1889.4 400.2 L1891.4 400 L1893.4 399.9 L1895.5 399.7 L1897.5 399.5 L1899.5 399.3 L1901.5 399.2 L1903.5 399 L1905.5 398.8 L1907.5 398.7 L1909.6 398.5 L1911.6 398.3 L1913.6 398.2 L1915.6 398 L1917.6 397.9 L1919.6 397.7 L1921.6 397.6 L1923.6 397.4 L1925.7 397.3 L1927.7 397.1 L1929.7 397 L1931.7 396.8 L1933.7 396.7 L1935.7 396.5 L1937.7 396.4 L1939.7 396.2"/>
<path class="axl" d="M1466.3 55.1 V587.2 H2026.3"/>
<path class="tkl" d="M1454.9 563 H1465.4 M1454.9 441.9 H1465.4 M1454.9 320.9 H1465.4 M1454.9 199.9 H1465.4 M1454.9 78.8 H1465.4 M1491.8 588.1 V598.1 M1619 588.1 V598.1 M1746.3 588.1 V598.1 M1873.6 588.1 V598.1 M2000.8 588.1 V598.1"/>
<text class="tk" text-anchor="end" x="1446" y="569.9">0</text><text class="tk" text-anchor="end" x="1446" y="448.8">100</text><text class="tk" text-anchor="end" x="1446" y="327.8">200</text><text class="tk" text-anchor="end" x="1446" y="206.8">300</text><text class="tk" text-anchor="end" x="1446" y="85.7">400</text>
<text class="tk" text-anchor="middle" x="1491.8" y="621.9">0</text><text class="tk" text-anchor="middle" x="1619" y="621.9">25</text><text class="tk" text-anchor="middle" x="1746.3" y="621.9">50</text><text class="tk" text-anchor="middle" x="1873.6" y="621.9">75</text><text class="tk" text-anchor="middle" x="2000.8" y="621.9">100</text>
<text class="ti" x="1467" y="20.7">Cunninghamia</text>
<text class="an" x="1494.5" y="86.4">Countries: 1</text><text class="an" x="1494.5" y="113">Sites: 147</text><text class="an" x="1494.5" y="139.3">Observations: 461</text><text class="an" x="1494.5" y="164.3">Species: 2</text>
</g>
<g id="panel-eucalyptus">
<g class="pt"><circle cx="184.6" cy="1184.9" r="4.6"/><circle cx="199.9" cy="1160.3" r="4.6"/><circle cx="189.7" cy="1157" r="4.6"/><circle cx="205" cy="1161.6" r="4.6"/><circle cx="199.9" cy="1191.5" r="4.6"/><circle cx="174.4" cy="1223.9" r="4.6"/><circle cx="199.9" cy="1212.9" r="4.6"/><circle cx="205" cy="1193.8" r="4.6"/><circle cx="189.7" cy="1220.6" r="4.6"/><circle cx="225.3" cy="1185.1" r="4.6"/><circle cx="210.1" cy="1153" r="4.6"/><circle cx="174.4" cy="1224.2" r="4.6"/><circle cx="199.9" cy="1206.9" r="4.6"/><circle cx="215.2" cy="1189.1" r="4.6"/><circle cx="184.6" cy="1177.1" r="4.6"/><circle cx="184.6" cy="1170.4" r="4.6"/><circle cx="194.8" cy="1164.8" r="4.6"/><circle cx="194.8" cy="1171.9" r="4.6"/><circle cx="184.6" cy="1224.4" r="4.6"/><circle cx="210.1" cy="1194" r="4.6"/><circle cx="205" cy="1196.6" r="4.6"/><circle cx="220.3" cy="1158.9" r="4.6"/><circle cx="205" cy="1132.8" r="4.6"/><circle cx="199.9" cy="1128.1" r="4.6"/><circle cx="184.6" cy="1197.8" r="4.6"/><circle cx="210.1" cy="1197.7" r="4.6"/><circle cx="215.2" cy="1145.3" r="4.6"/><circle cx="194.8" cy="1184.5" r="4.6"/><circle cx="194.8" cy="1182.3" r="4.6"/><circle cx="225.3" cy="1202.6" r="4.6"/><circle cx="174.4" cy="1225.9" r="4.6"/><circle cx="205" cy="1106.4" r="4.6"/><circle cx="199.9" cy="1158.7" r="4.6"/><circle cx="199.9" cy="1125.8" r="4.6"/><circle cx="189.7" cy="1172.6" r="4.6"/><circle cx="199.9" cy="1141.9" r="4.6"/><circle cx="184.6" cy="1216.3" r="4.6"/><circle cx="194.8" cy="1125.3" r="4.6"/><circle cx="194.8" cy="1160.1" r="4.6"/><circle cx="189.7" cy="1215.4" r="4.6"/><circle cx="179.5" cy="1199" r="4.6"/><circle cx="205" cy="1177.4" r="4.6"/><circle cx="199.9" cy="1135" r="4.6"/><circle cx="210.1" cy="1116.1" r="4.6"/><circle cx="194.8" cy="1118.8" r="4.6"/><circle cx="220.3" cy="1180" r="4.6"/><circle cx="210.1" cy="1166.4" r="4.6"/><circle cx="194.8" cy="1196.9" r="4.6"/><circle cx="210.1" cy="1201.9" r="4.6"/><circle cx="179.5" cy="1199.3" r="4.6"/><circle cx="205" cy="1165" r="4.6"/><circle cx="210.1" cy="1213.7" r="4.6"/><circle cx="189.7" cy="1199.6" r="4.6"/><circle cx="194.8" cy="1205" r="4.6"/><circle cx="179.5" cy="1215.1" r="4.6"/><circle cx="210.1" cy="1113.4" r="4.6"/><circle cx="205" cy="1165.5" r="4.6"/><circle cx="189.7" cy="1142.9" r="4.6"/><circle cx="199.9" cy="1128.3" r="4.6"/><circle cx="174.4" cy="1225.1" r="4.6"/><circle cx="210.1" cy="1133.7" r="4.6"/><circle cx="210.1" cy="1154.6" r="4.6"/><circle cx="194.8" cy="1161.8" r="4.6"/><circle cx="210.1" cy="1186.2" r="4.6"/><circle cx="199.9" cy="1186.3" r="4.6"/><circle cx="205" cy="1219.4" r="4.6"/><circle cx="199.9" cy="1099.4" r="4.6"/><circle cx="174.4" cy="1222.3" r="4.6"/><circle cx="199.9" cy="1112.5" r="4.6"/><circle cx="199.9" cy="1188.8" r="4.6"/><circle cx="194.8" cy="1122" r="4.6"/><circle cx="210.1" cy="1205" r="4.6"/><circle cx="179.5" cy="1223.4" r="4.6"/><circle cx="174.4" cy="1223.4" r="4.6"/><circle cx="184.6" cy="1174.1" r="4.6"/><circle cx="199.9" cy="1205.5" r="4.6"/><circle cx="199.9" cy="1180.1" r="4.6"/><circle cx="194.8" cy="1199.8" r="4.6"/><circle cx="184.6" cy="1215.5" r="4.6"/><circle cx="194.8" cy="1148.2" r="4.6"/><circle cx="199.9" cy="1215.8" r="4.6"/><circle cx="205" cy="1120.1" r="4.6"/><circle cx="205" cy="1129.6" r="4.6"/><circle cx="174.4" cy="1223.2" r="4.6"/><circle cx="179.5" cy="1200.7" r="4.6"/><circle cx="184.6" cy="1183.5" r="4.6"/><circle cx="189.7" cy="1165.1" r="4.6"/><circle cx="189.7" cy="1220.6" r="4.6"/><circle cx="194.8" cy="1190.4" r="4.6"/><circle cx="210.1" cy="1187.6" r="4.6"/><circle cx="199.9" cy="1151.3" r="4.6"/><circle cx="215.2" cy="1211.8" r="4.6"/><circle cx="199.9" cy="1156.5" r="4.6"/><circle cx="205" cy="1109.3" r="4.6"/><circle cx="189.7" cy="1164.9" r="4.6"/><circle cx="199.9" cy="1149.8" r="4.6"/><circle cx="179.5" cy="1199" r="4.6"/><circle cx="220.3" cy="1196.3" r="4.6"/><circle cx="189.7" cy="1140" r="4.6"/><circle cx="179.5" cy="1224" r="4.6"/><circle cx="179.5" cy="1199" r="4.6"/><circle cx="205" cy="1169" r="4.6"/><circle cx="199.9" cy="1219.2" r="4.6"/><circle cx="199.9" cy="1165" r="4.6"/><circle cx="199.9" cy="1171.8" r="4.6"/><circle cx="194.8" cy="1199.2" r="4.6"/><circle cx="179.5" cy="1211.9" r="4.6"/><circle cx="189.7" cy="1164.5" r="4.6"/><circle cx="205" cy="1137.3" r="4.6"/><circle cx="194.8" cy="1198.1" r="4.6"/><circle cx="194.8" cy="1171.7" r="4.6"/><circle cx="199.9" cy="1098.2" r="4.6"/><circle cx="179.5" cy="1210.3" r="4.6"/><circle cx="194.8" cy="1147.4" r="4.6"/><circle cx="210.1" cy="1135.4" r="4.6"/><circle cx="199.9" cy="1124.4" r="4.6"/><circle cx="199.9" cy="1111.5" r="4.6"/><circle cx="205" cy="1142" r="4.6"/><circle cx="189.7" cy="1146.5" r="4.6"/><circle cx="194.8" cy="1158.2" r="4.6"/><circle cx="210.1" cy="1115.5" r="4.6"/><circle cx="225.3" cy="1221.4" r="4.6"/><circle cx="189.7" cy="1197.8" r="4.6"/><circle cx="194.8" cy="1207.7" r="4.6"/><circle cx="199.9" cy="1211.6" r="4.6"/><circle cx="189.7" cy="1144.2" r="4.6"/><circle cx="205" cy="1167.4" r="4.6"/><circle cx="179.5" cy="1194.2" r="4.6"/><circle cx="205" cy="1196.9" r="4.6"/><circle cx="189.7" cy="1169.8" r="4.6"/><circle cx="199.9" cy="1188.3" r="4.6"/><circle cx="215.2" cy="1193" r="4.6"/><circle cx="189.7" cy="1152.5" r="4.6"/><circle cx="184.6" cy="1185.4" r="4.6"/><circle cx="184.6" cy="1190.4" r="4.6"/><circle cx="189.7" cy="1192.1" r="4.6"/><circle cx="215.2" cy="1180.8" r="4.6"/><circle cx="194.8" cy="1158" r="4.6"/><circle cx="189.7" cy="1209.4" r="4.6"/><circle cx="194.8" cy="1194.3" r="4.6"/><circle cx="184.6" cy="1168.4" r="4.6"/><circle cx="174.4" cy="1220.7" r="4.6"/><circle cx="215.2" cy="1160.7" r="4.6"/><circle cx="174.4" cy="1223" r="4.6"/><circle cx="179.5" cy="1206" r="4.6"/><circle cx="205" cy="1192.9" r="4.6"/><circle cx="174.4" cy="1222.6" r="4.6"/><circle cx="179.5" cy="1216.1" r="4.6"/><circle cx="194.8" cy="1128.8" r="4.6"/><circle cx="194.8" cy="1208.8" r="4.6"/><circle cx="205" cy="1126" r="4.6"/><circle cx="199.9" cy="1215.5" r="4.6"/><circle cx="184.6" cy="1202.2" r="4.6"/><circle cx="199.9" cy="1192.9" r="4.6"/><circle cx="205" cy="1123.5" r="4.6"/><circle cx="215.2" cy="1145.6" r="4.6"/><circle cx="174.4" cy="1222.4" r="4.6"/><circle cx="179.5" cy="1196.1" r="4.6"/><circle cx="205" cy="1133.2" r="4.6"/><circle cx="184.6" cy="1223" r="4.6"/><circle cx="205" cy="1150.8" r="4.6"/><circle cx="199.9" cy="1161.3" r="4.6"/><circle cx="205" cy="1181.7" r="4.6"/><circle cx="189.7" cy="1194.3" r="4.6"/><circle cx="189.7" cy="1171" r="4.6"/><circle cx="210.1" cy="1211.7" r="4.6"/><circle cx="179.5" cy="1209.3" r="4.6"/><circle cx="199.9" cy="1197.4" r="4.6"/><circle cx="189.7" cy="1219.2" r="4.6"/><circle cx="179.5" cy="1209.8" r="4.6"/><circle cx="199.9" cy="1137.9" r="4.6"/><circle cx="184.6" cy="1220.3" r="4.6"/><circle cx="215.2" cy="1174.7" r="4.6"/><circle cx="194.8" cy="1150.2" r="4.6"/><circle cx="205" cy="1160.2" r="4.6"/><circle cx="179.5" cy="1198.6" r="4.6"/><circle cx="189.7" cy="1220.7" r="4.6"/><circle cx="194.8" cy="1166.9" r="4.6"/><circle cx="199.9" cy="1199.4" r="4.6"/><circle cx="205" cy="1163.8" r="4.6"/><circle cx="184.6" cy="1175.1" r="4.6"/><circle cx="205" cy="1116.3" r="4.6"/><circle cx="199.9" cy="1193.9" r="4.6"/><circle cx="205" cy="1116.7" r="4.6"/><circle cx="199.9" cy="1105.2" r="4.6"/><circle cx="220.3" cy="1193.9" r="4.6"/><circle cx="215.2" cy="1141.1" r="4.6"/><circle cx="205" cy="1219.3" r="4.6"/><circle cx="194.8" cy="1158.3" r="4.6"/><circle cx="199.9" cy="1124.8" r="4.6"/><circle cx="199.9" cy="1201" r="4.6"/><circle cx="215.2" cy="1174.9" r="4.6"/><circle cx="210.1" cy="1197.1" r="4.6"/><circle cx="225.3" cy="1194.2" r="4.6"/><circle cx="205" cy="1135.5" r="4.6"/><circle cx="210.1" cy="1180.3" r="4.6"/><circle cx="179.5" cy="1212.9" r="4.6"/><circle cx="184.6" cy="1193.9" r="4.6"/><circle cx="205" cy="1178.9" r="4.6"/><circle cx="184.6" cy="1225" r="4.6"/><circle cx="194.8" cy="1161.8" r="4.6"/><circle cx="174.4" cy="1221.8" r="4.6"/><circle cx="184.6" cy="1220.1" r="4.6"/><circle cx="215.2" cy="1176" r="4.6"/><circle cx="210.1" cy="1164" r="4.6"/><circle cx="184.6" cy="1212.1" r="4.6"/><circle cx="194.8" cy="1155.5" r="4.6"/><circle cx="205" cy="1134.1" r="4.6"/><circle cx="199.9" cy="1189.3" r="4.6"/><circle cx="194.8" cy="1183.2" r="4.6"/><circle cx="194.8" cy="1195" r="4.6"/><circle cx="199.9" cy="1162.9" r="4.6"/><circle cx="174.4" cy="1220.6" r="4.6"/><circle cx="199.9" cy="1118.8" r="4.6"/><circle cx="205" cy="1136.5" r="4.6"/><circle cx="225.3" cy="1203.1" r="4.6"/><circle cx="194.8" cy="1222.6" r="4.6"/><circle cx="199.9" cy="1147.1" r="4.6"/><circle cx="199.9" cy="1093.7" r="4.6"/><circle cx="184.6" cy="1212.8" r="4.6"/><circle cx="205" cy="1127.1" r="4.6"/><circle cx="194.8" cy="1217.2" r="4.6"/><circle cx="194.8" cy="1135.9" r="4.6"/><circle cx="199.9" cy="1162.5" r="4.6"/><circle cx="194.8" cy="1156.8" r="4.6"/><circle cx="199.9" cy="1132.8" r="4.6"/><circle cx="210.1" cy="1138.4" r="4.6"/><circle cx="194.8" cy="1196.6" r="4.6"/><circle cx="205" cy="1129.4" r="4.6"/><circle cx="215.2" cy="1203.4" r="4.6"/><circle cx="210.1" cy="1123.4" r="4.6"/><circle cx="179.5" cy="1216.2" r="4.6"/><circle cx="199.9" cy="1203" r="4.6"/><circle cx="210.1" cy="1190.8" r="4.6"/><circle cx="199.9" cy="1183.8" r="4.6"/><circle cx="189.7" cy="1206.6" r="4.6"/><circle cx="199.9" cy="1130.3" r="4.6"/><circle cx="189.7" cy="1166" r="4.6"/><circle cx="189.7" cy="1169.2" r="4.6"/><circle cx="194.8" cy="1202.6" r="4.6"/><circle cx="184.6" cy="1223.1" r="4.6"/><circle cx="199.9" cy="1168.7" r="4.6"/><circle cx="184.6" cy="1173.3" r="4.6"/><circle cx="199.9" cy="1219" r="4.6"/><circle cx="205" cy="1152.2" r="4.6"/><circle cx="194.8" cy="1170.2" r="4.6"/><circle cx="220.3" cy="1195" r="4.6"/><circle cx="199.9" cy="1140.2" r="4.6"/><circle cx="194.8" cy="1186.5" r="4.6"/><circle cx="205" cy="1147.4" r="4.6"/><circle cx="194.8" cy="1168.9" r="4.6"/><circle cx="189.7" cy="1157.3" r="4.6"/><circle cx="174.4" cy="1221.9" r="4.6"/><circle cx="194.8" cy="1199.7" r="4.6"/><circle cx="199.9" cy="1146.9" r="4.6"/><circle cx="179.5" cy="1210" r="4.6"/><circle cx="184.6" cy="1178.2" r="4.6"/><circle cx="189.7" cy="1196.4" r="4.6"/><circle cx="189.7" cy="1220.1" r="4.6"/><circle cx="184.6" cy="1217.4" r="4.6"/><circle cx="199.9" cy="1113" r="4.6"/><circle cx="189.7" cy="1214.7" r="4.6"/><circle cx="199.9" cy="1206.9" r="4.6"/><circle cx="194.8" cy="1142.8" r="4.6"/><circle cx="184.6" cy="1184.3" r="4.6"/><circle cx="199.9" cy="1210.9" r="4.6"/><circle cx="189.7" cy="1173.4" r="4.6"/><circle cx="179.5" cy="1219.7" r="4.6"/><circle cx="199.9" cy="1116.8" r="4.6"/><circle cx="199.9" cy="1136.6" r="4.6"/><circle cx="174.4" cy="1224.4" r="4.6"/><circle cx="189.7" cy="1146.8" r="4.6"/><circle cx="194.8" cy="1140.3" r="4.6"/><circle cx="174.4" cy="1223" r="4.6"/><circle cx="210.1" cy="1136.2" r="4.6"/><circle cx="199.9" cy="1198.4" r="4.6"/><circle cx="215.2" cy="1213.4" r="4.6"/><circle cx="220.3" cy="1167.1" r="4.6"/><circle cx="205" cy="1159.5" r="4.6"/><circle cx="184.6" cy="1206" r="4.6"/><circle cx="199.9" cy="1137.6" r="4.6"/><circle cx="194.8" cy="1138.6" r="4.6"/><circle cx="179.5" cy="1216.9" r="4.6"/><circle cx="179.5" cy="1215.6" r="4.6"/><circle cx="205" cy="1133.9" r="4.6"/><circle cx="184.6" cy="1207.9" r="4.6"/><circle cx="184.6" cy="1186.5" r="4.6"/><circle cx="194.8" cy="1198.6" r="4.6"/><circle cx="194.8" cy="1131.9" r="4.6"/><circle cx="194.8" cy="1150.2" r="4.6"/><circle cx="199.9" cy="1161" r="4.6"/><circle cx="199.9" cy="1175.1" r="4.6"/><circle cx="184.6" cy="1196.7" r="4.6"/><circle cx="189.7" cy="1196.2" r="4.6"/><circle cx="184.6" cy="1171.3" r="4.6"/><circle cx="194.8" cy="1201.9" r="4.6"/><circle cx="174.4" cy="1225" r="4.6"/><circle cx="210.1" cy="1183" r="4.6"/><circle cx="199.9" cy="1192.2" r="4.6"/><circle cx="199.9" cy="1164" r="4.6"/><circle cx="205" cy="1159.8" r="4.6"/><circle cx="194.8" cy="1193.5" r="4.6"/><circle cx="199.9" cy="1115" r="4.6"/><circle cx="199.9" cy="1160.2" r="4.6"/><circle cx="189.7" cy="1148.6" r="4.6"/><circle cx="210.1" cy="1203.6" r="4.6"/><circle cx="199.9" cy="1122.7" r="4.6"/><circle cx="199.9" cy="1098" r="4.6"/><circle cx="210.1" cy="1192.8" r="4.6"/><circle cx="225.3" cy="1205.5" r="4.6"/><circle cx="194.8" cy="1120.1" r="4.6"/><circle cx="184.6" cy="1202.7" r="4.6"/><circle cx="199.9" cy="1186.7" r="4.6"/><circle cx="189.7" cy="1156.9" r="4.6"/><circle cx="199.9" cy="1126.3" r="4.6"/><circle cx="205" cy="1120.3" r="4.6"/><circle cx="210.1" cy="1130.6" r="4.6"/><circle cx="220.3" cy="1186.3" r="4.6"/><circle cx="205" cy="1161.5" r="4.6"/><circle cx="220.3" cy="1175.5" r="4.6"/><circle cx="301.7" cy="886.1" r="4.6"/><circle cx="276.3" cy="918" r="4.6"/><circle cx="261" cy="941.4" r="4.6"/><circle cx="332.3" cy="957" r="4.6"/><circle cx="423.9" cy="958.7" r="4.6"/><circle cx="337.3" cy="986.2" r="4.6"/><circle cx="240.6" cy="990.4" r="4.6"/><circle cx="210.1" cy="997.1" r="4.6"/><circle cx="373" cy="996" r="4.6"/><circle cx="306.8" cy="1002.3" r="4.6"/><circle cx="306.8" cy="1002.7" r="4.6"/><circle cx="322.1" cy="1004" r="4.6"/><circle cx="342.4" cy="1013.8" r="4.6"/><circle cx="230.4" cy="1019" r="4.6"/><circle cx="225.3" cy="1036.3" r="4.6"/><circle cx="220.3" cy="1050.9" r="4.6"/><circle cx="210.1" cy="1056.1" r="4.6"/><circle cx="210.1" cy="1060.7" r="4.6"/><circle cx="337.3" cy="1061.4" r="4.6"/><circle cx="337.3" cy="1072.8" r="4.6"/><circle cx="266.1" cy="1071.8" r="4.6"/><circle cx="220.3" cy="1077" r="4.6"/><circle cx="220.3" cy="1077.6" r="4.6"/><circle cx="199.9" cy="1080.1" r="4.6"/><circle cx="199.9" cy="1086.4" r="4.6"/><circle cx="215.2" cy="1091.6" r="4.6"/><circle cx="245.7" cy="1102" r="4.6"/><circle cx="250.8" cy="1103.1" r="4.6"/><circle cx="215.2" cy="1110.4" r="4.6"/><circle cx="291.5" cy="1113.1" r="4.6"/><circle cx="245.7" cy="1123.3" r="4.6"/><circle cx="230.4" cy="1125" r="4.6"/><circle cx="261" cy="1127.5" r="4.6"/><circle cx="296.6" cy="1128.1" r="4.6"/><circle cx="250.8" cy="1133.3" r="4.6"/><circle cx="225.3" cy="1138.6" r="4.6"/><circle cx="266.1" cy="1145.2" r="4.6"/><circle cx="261" cy="1147.9" r="4.6"/><circle cx="266.1" cy="1160.5" r="4.6"/><circle cx="225.3" cy="1168.8" r="4.6"/><circle cx="225.3" cy="1174" r="4.6"/><circle cx="245.7" cy="1188.6" r="4.6"/><circle cx="220.3" cy="1187.6" r="4.6"/><circle cx="220.3" cy="1191.8" r="4.6"/><circle cx="266.1" cy="1199.1" r="4.6"/><circle cx="225.3" cy="1201.6" r="4.6"/><circle cx="261" cy="1207.4" r="4.6"/><circle cx="215.2" cy="1206.4" r="4.6"/><circle cx="220.3" cy="1213.7" r="4.6"/><circle cx="205" cy="1216.8" r="4.6"/><circle cx="199.9" cy="1217.9" r="4.6"/><circle cx="189.7" cy="1217.9" r="4.6"/><circle cx="174.4" cy="1219.9" r="4.6"/><circle cx="179.5" cy="1224.1" r="4.6"/><circle cx="174.4" cy="1223.1" r="4.6"/><circle cx="194.8" cy="1128.1" r="4.6"/><circle cx="189.7" cy="1137.5" r="4.6"/><circle cx="189.7" cy="1143.8" r="4.6"/></g>
<path class="gl" d="M179.5 1201.7 L181.6 1187.3 L183.6 1176.2 L185.6 1167 L187.7 1159 L189.7 1151.9 L191.7 1145.4 L193.8 1139.5 L195.8 1134 L197.9 1129 L199.9 1124.3 L201.9 1119.8 L204 1115.7 L206 1111.8 L208 1108.1 L210.1 1104.6 L212.1 1101.4 L214.1 1098.2 L216.2 1095.2 L218.2 1092.4 L220.3 1089.7 L222.3 1087.1 L224.3 1084.6 L226.4 1082.3 L228.4 1080 L230.4 1077.9 L232.5 1075.8 L234.5 1073.8 L236.5 1071.9 L238.6 1070 L240.6 1068.2 L242.7 1066.5 L244.7 1064.9 L246.7 1063.3 L248.8 1061.7 L250.8 1060.2 L252.8 1058.8 L254.9 1057.4 L256.9 1056 L258.9 1054.7 L261 1053.5 L263 1052.2 L265.1 1051 L267.1 1049.9 L269.1 1048.8 L271.2 1047.7 L273.2 1046.6 L275.2 1045.6 L277.3 1044.5 L279.3 1043.6 L281.3 1042.6 L283.4 1041.7 L285.4 1040.7 L287.5 1039.8 L289.5 1039 L291.5 1038.1 L293.6 1037.3 L295.6 1036.5 L297.6 1035.7 L299.7 1034.9 L301.7 1034.1 L303.7 1033.3 L305.8 1032.6 L307.8 1031.9 L309.9 1031.1 L311.9 1030.4 L313.9 1029.7 L316 1029 L318 1028.4 L320 1027.7 L322.1 1027.1"/>
<path class="gl" d="M184.6 1214.9 L186.7 1209 L188.8 1203.4 L190.9 1198 L193 1192.8 L195.2 1188 L197.3 1183.4 L199.4 1179.1 L201.5 1175.1 L203.6 1171.3 L205.7 1167.7 L207.8 1164.4 L209.9 1161.3 L212 1158.4 L214.1 1155.7 L216.2 1153.1 L218.3 1150.7 L220.4 1148.5 L222.5 1146.5 L224.6 1144.5 L226.8 1142.8 L228.9 1141.1 L231 1139.5 L233.1 1138.1 L235.2 1136.7 L237.3 1135.5 L239.4 1134.3 L241.5 1133.2 L243.6 1132.2 L245.7 1131.2"/>
<path d="M174.4 1222.4 L176.5 1218.5 L178.5 1213.1 L180.5 1206.6 L182.6 1199.1 L184.6 1191 L186.6 1182.5 L188.6 1174 L190.7 1165.6 L192.7 1157.6 L194.7 1149.9 L196.7 1142.8 L198.8 1136.3 L200.8 1130.3 L202.8 1124.8 L204.9 1119.9 L206.9 1115.5 L208.9 1111.6 L210.9 1108.2 L213 1105.1 L215 1102.4 L217 1100 L219.1 1097.9 L221.1 1096.1 L223.1 1094.5 L225.1 1093.1 L227.2 1091.9 L229.2 1090.9 L231.2 1090 L233.3 1089.2 L235.3 1088.5 L237.3 1087.9 L239.3 1087.3 L241.4 1086.9 L243.4 1086.5 L245.4 1086.2 L247.5 1085.9 L249.5 1085.6 L251.5 1085.4 L253.5 1085.2 L255.6 1085 L257.6 1084.9 L259.6 1084.8 L261.6 1084.7 L263.7 1084.6 L265.7 1084.5 L267.7 1084.4 L269.8 1084.4 L271.8 1084.3 L273.8 1084.3 L275.8 1084.2 L277.9 1084.2 L279.9 1084.2 L281.9 1084.1 L284 1084.1 L286 1084.1 L288 1084.1 L290 1084.1 L292.1 1084.1 L294.1 1084 L296.1 1084 L298.2 1084 L300.2 1084 L302.2 1084 L304.2 1084 L306.3 1084 L308.3 1084 L310.3 1084 L312.4 1084 L314.4 1084 L316.4 1084 L318.4 1084 L320.5 1084 L322.5 1084 L324.5 1084 L326.5 1084 L328.6 1084 L330.6 1084 L332.6 1084 L334.7 1084 L336.7 1084 L338.7 1084 L340.7 1084 L342.8 1084 L344.8 1084 L346.8 1084 L348.9 1084 L350.9 1084 L352.9 1084 L354.9 1084 L357 1084 L359 1084 L361 1084 L363.1 1084 L365.1 1084 L367.1 1084 L369.1 1084 L371.2 1084 L373.2 1084 L375.2 1084 L377.2 1084 L379.3 1084 L381.3 1084 L383.3 1084 L385.4 1084 L387.4 1084 L389.4 1084 L391.4 1084 L393.5 1084 L395.5 1084 L397.5 1084 L399.6 1084 L401.6 1084 L403.6 1084 L405.6 1084 L407.7 1084 L409.7 1084 L411.7 1084 L413.8 1084 L415.8 1084 L417.8 1084 L419.8 1084 L421.9 1084 L423.9 1084 L423.9 1124.6 L421.9 1124.6 L419.8 1124.6 L417.8 1124.6 L415.8 1124.6 L413.8 1124.6 L411.7 1124.6 L409.7 1124.6 L407.7 1124.6 L405.6 1124.6 L403.6 1124.6 L401.6 1124.6 L399.6 1124.6 L397.5 1124.6 L395.5 1124.6 L393.5 1124.6 L391.4 1124.6 L389.4 1124.6 L387.4 1124.6 L385.4 1124.6 L383.3 1124.6 L381.3 1124.6 L379.3 1124.6 L377.2 1124.6 L375.2 1124.6 L373.2 1124.6 L371.2 1124.6 L369.1 1124.6 L367.1 1124.6 L365.1 1124.6 L363.1 1124.6 L361 1124.6 L359 1124.6 L357 1124.6 L354.9 1124.6 L352.9 1124.6 L350.9 1124.6 L348.9 1124.6 L346.8 1124.6 L344.8 1124.6 L342.8 1124.7 L340.7 1124.7 L338.7 1124.7 L336.7 1124.7 L334.7 1124.7 L332.6 1124.7 L330.6 1124.7 L328.6 1124.7 L326.5 1124.7 L324.5 1124.7 L322.5 1124.7 L320.5 1124.7 L318.4 1124.7 L316.4 1124.7 L314.4 1124.8 L312.4 1124.8 L310.3 1124.8 L308.3 1124.8 L306.3 1124.8 L304.2 1124.9 L302.2 1124.9 L300.2 1124.9 L298.2 1124.9 L296.1 1125 L294.1 1125 L292.1 1125.1 L290 1125.1 L288 1125.2 L286 1125.2 L284 1125.3 L281.9 1125.4 L279.9 1125.5 L277.9 1125.6 L275.8 1125.7 L273.8 1125.8 L271.8 1126 L269.8 1126.1 L267.7 1126.3 L265.7 1126.5 L263.7 1126.7 L261.6 1127 L259.6 1127.3 L257.6 1127.6 L255.6 1127.9 L253.5 1128.3 L251.5 1128.8 L249.5 1129.3 L247.5 1129.8 L245.4 1130.4 L243.4 1131.1 L241.4 1131.8 L239.3 1132.7 L237.3 1133.6 L235.3 1134.7 L233.3 1135.8 L231.2 1137.1 L229.2 1138.5 L227.2 1140 L225.1 1141.8 L223.1 1143.7 L221.1 1145.7 L219.1 1148 L217 1150.5 L215 1153.2 L213 1156.1 L210.9 1159.3 L208.9 1162.7 L206.9 1166.3 L204.9 1170.2 L202.8 1174.3 L200.8 1178.5 L198.8 1183 L196.7 1187.5 L194.7 1192.1 L192.7 1196.8 L190.7 1201.3 L188.6 1205.7 L186.6 1209.8 L184.6 1213.6 L182.6 1216.9 L180.5 1219.8 L178.5 1222.1 L176.5 1223.9 L174.4 1225.1Z" fill="#009E73" fill-opacity="0.2"/>
<path class="ml" stroke="#009E73" d="M174.4 1224 L176.5 1221.6 L178.5 1218.3 L180.5 1214.3 L182.6 1209.6 L184.6 1204.3 L186.6 1198.6 L188.6 1192.7 L190.7 1186.7 L192.7 1180.7 L194.7 1174.8 L196.7 1169 L198.8 1163.5 L200.8 1158.3 L202.8 1153.4 L204.9 1148.8 L206.9 1144.6 L208.9 1140.6 L210.9 1137 L213 1133.7 L215 1130.7 L217 1127.9 L219.1 1125.4 L221.1 1123.1 L223.1 1121.1 L225.1 1119.2 L227.2 1117.6 L229.2 1116.1 L231.2 1114.7 L233.3 1113.5 L235.3 1112.4 L237.3 1111.5 L239.3 1110.6 L241.4 1109.8 L243.4 1109.2 L245.4 1108.5 L247.5 1108 L249.5 1107.5 L251.5 1107 L253.5 1106.7 L255.6 1106.3 L257.6 1106 L259.6 1105.7 L261.6 1105.5 L263.7 1105.3 L265.7 1105.1 L267.7 1104.9 L269.8 1104.7 L271.8 1104.6 L273.8 1104.5 L275.8 1104.4 L277.9 1104.3 L279.9 1104.2 L281.9 1104.1 L284 1104 L286 1104 L288 1103.9 L290 1103.9 L292.1 1103.8 L294.1 1103.8 L296.1 1103.7 L298.2 1103.7 L300.2 1103.7 L302.2 1103.7 L304.2 1103.6 L306.3 1103.6 L308.3 1103.6 L310.3 1103.6 L312.4 1103.6 L314.4 1103.6 L316.4 1103.6 L318.4 1103.6 L320.5 1103.5 L322.5 1103.5 L324.5 1103.5 L326.5 1103.5 L328.6 1103.5 L330.6 1103.5 L332.6 1103.5 L334.7 1103.5 L336.7 1103.5 L338.7 1103.5 L340.7 1103.5 L342.8 1103.5 L344.8 1103.5 L346.8 1103.5 L348.9 1103.5 L350.9 1103.5 L352.9 1103.5 L354.9 1103.5 L357 1103.5 L359 1103.5 L361 1103.5 L363.1 1103.5 L365.1 1103.5 L367.1 1103.5 L369.1 1103.5 L371.2 1103.5 L373.2 1103.5 L375.2 1103.5 L377.2 1103.5 L379.3 1103.5 L381.3 1103.5 L383.3 1103.5 L385.4 1103.5 L387.4 1103.5 L389.4 1103.5 L391.4 1103.5 L393.5 1103.5 L395.5 1103.5 L397.5 1103.5 L399.6 1103.5 L401.6 1103.5 L403.6 1103.5 L405.6 1103.5 L407.7 1103.5 L409.7 1103.5 L411.7 1103.5 L413.8 1103.5 L415.8 1103.5 L417.8 1103.5 L419.8 1103.5 L421.9 1103.5 L423.9 1103.5"/>
<path class="axl" d="M143.9 718.7 V1250.8 H703.9"/>
<path class="tkl" d="M132.5 1226.6 H143 M132.5 1105.5 H143 M132.5 984.5 H143 M132.5 863.4 H143 M132.5 742.4 H143 M169.3 1251.7 V1261.7 M296.6 1251.7 V1261.7 M423.9 1251.7 V1261.7 M551.2 1251.7 V1261.7 M678.4 1251.7 V1261.7"/>
<text class="tk" text-anchor="end" x="123.6" y="1233.5">0</text><text class="tk" text-anchor="end" x="123.6" y="1112.5">100</text><text class="tk" text-anchor="end" x="123.6" y="991.4">200</text><text class="tk" text-anchor="end" x="123.6" y="870.3">300</text><text class="tk" text-anchor="end" x="123.6" y="749.3">400</text>
<text class="tk" text-anchor="middle" x="169.3" y="1285.5">0</text><text class="tk" text-anchor="middle" x="296.6" y="1285.5">25</text><text class="tk" text-anchor="middle" x="423.9" y="1285.5">50</text><text class="tk" text-anchor="middle" x="551.2" y="1285.5">75</text><text class="tk" text-anchor="middle" x="678.4" y="1285.5">100</text>
<text class="ti" x="144.6" y="684.3">Eucalyptus</text>
<text class="an" x="172.1" y="750">Countries: 11</text><text class="an" x="172.1" y="776.6">Sites: 64</text><text class="an" x="172.1" y="802.9">Observations: 411</text><text class="an" x="172.1" y="827.9">Species: 21</text>
</g>
<g id="panel-larix">
<g class="pt"><circle cx="881.5" cy="1225" r="4.6"/><circle cx="932.4" cy="1182.4" r="4.6"/><circle cx="901.8" cy="1222.8" r="4.6"/><circle cx="912" cy="1192.8" r="4.6"/><circle cx="901.8" cy="1201.5" r="4.6"/><circle cx="957.8" cy="1205.5" r="4.6"/><circle cx="947.6" cy="1189.6" r="4.6"/><circle cx="932.4" cy="1164.5" r="4.6"/><circle cx="896.7" cy="1226" r="4.6"/><circle cx="998.5" cy="1184.3" r="4.6"/><circle cx="912" cy="1211.2" r="4.6"/><circle cx="927.3" cy="1170.7" r="4.6"/><circle cx="912" cy="1216.1" r="4.6"/><circle cx="952.7" cy="1181.9" r="4.6"/><circle cx="1003.6" cy="1163.8" r="4.6"/><circle cx="927.3" cy="1211.8" r="4.6"/><circle cx="983.3" cy="1154.6" r="4.6"/><circle cx="886.5" cy="1212.4" r="4.6"/><circle cx="988.4" cy="1172.5" r="4.6"/><circle cx="912" cy="1191.2" r="4.6"/><circle cx="968" cy="1199.5" r="4.6"/><circle cx="957.8" cy="1200.5" r="4.6"/><circle cx="886.5" cy="1220.1" r="4.6"/><circle cx="927.3" cy="1201.3" r="4.6"/><circle cx="957.8" cy="1162.8" r="4.6"/><circle cx="1008.7" cy="1159.8" r="4.6"/><circle cx="1018.9" cy="1171.8" r="4.6"/><circle cx="922.2" cy="1215" r="4.6"/><circle cx="952.7" cy="1182" r="4.6"/><circle cx="957.8" cy="1208.2" r="4.6"/><circle cx="906.9" cy="1190.6" r="4.6"/><circle cx="952.7" cy="1172.8" r="4.6"/><circle cx="896.7" cy="1215" r="4.6"/><circle cx="993.5" cy="1172.6" r="4.6"/><circle cx="1018.9" cy="1194.8" r="4.6"/><circle cx="937.5" cy="1172.3" r="4.6"/><circle cx="937.5" cy="1173" r="4.6"/><circle cx="947.6" cy="1210.2" r="4.6"/><circle cx="896.7" cy="1198" r="4.6"/><circle cx="901.8" cy="1220" r="4.6"/><circle cx="927.3" cy="1183.9" r="4.6"/><circle cx="983.3" cy="1181.9" r="4.6"/><circle cx="942.5" cy="1169.7" r="4.6"/><circle cx="917.1" cy="1207.1" r="4.6"/><circle cx="952.7" cy="1176.4" r="4.6"/><circle cx="886.5" cy="1224.4" r="4.6"/><circle cx="901.8" cy="1202" r="4.6"/><circle cx="962.9" cy="1153.2" r="4.6"/><circle cx="973.1" cy="1195.2" r="4.6"/><circle cx="973.1" cy="1153.6" r="4.6"/><circle cx="927.3" cy="1222.4" r="4.6"/><circle cx="932.4" cy="1205.5" r="4.6"/><circle cx="906.9" cy="1224.3" r="4.6"/><circle cx="901.8" cy="1197.3" r="4.6"/><circle cx="891.6" cy="1211.7" r="4.6"/><circle cx="912" cy="1217.1" r="4.6"/><circle cx="978.2" cy="1192" r="4.6"/><circle cx="906.9" cy="1208.5" r="4.6"/><circle cx="962.9" cy="1180.3" r="4.6"/><circle cx="983.3" cy="1185.9" r="4.6"/><circle cx="947.6" cy="1172.8" r="4.6"/><circle cx="937.5" cy="1177.4" r="4.6"/><circle cx="937.5" cy="1212.5" r="4.6"/><circle cx="901.8" cy="1200.1" r="4.6"/><circle cx="968" cy="1155.5" r="4.6"/><circle cx="962.9" cy="1177" r="4.6"/><circle cx="906.9" cy="1193.2" r="4.6"/><circle cx="901.8" cy="1212.2" r="4.6"/><circle cx="901.8" cy="1213.7" r="4.6"/><circle cx="922.2" cy="1202" r="4.6"/><circle cx="962.9" cy="1179.3" r="4.6"/><circle cx="917.1" cy="1187.8" r="4.6"/><circle cx="968" cy="1162.3" r="4.6"/><circle cx="886.5" cy="1214.7" r="4.6"/><circle cx="993.5" cy="1192" r="4.6"/><circle cx="912" cy="1190.4" r="4.6"/><circle cx="927.3" cy="1201" r="4.6"/><circle cx="978.2" cy="1187.3" r="4.6"/><circle cx="912" cy="1216.2" r="4.6"/><circle cx="927.3" cy="1184.7" r="4.6"/><circle cx="932.4" cy="1177.4" r="4.6"/><circle cx="891.6" cy="1220.6" r="4.6"/><circle cx="957.8" cy="1184.6" r="4.6"/><circle cx="942.5" cy="1160.5" r="4.6"/><circle cx="917.1" cy="1216.2" r="4.6"/><circle cx="886.5" cy="1217.3" r="4.6"/><circle cx="922.2" cy="1199.5" r="4.6"/><circle cx="881.5" cy="1226.6" r="4.6"/><circle cx="932.4" cy="1178.2" r="4.6"/><circle cx="922.2" cy="1176.7" r="4.6"/><circle cx="1064.7" cy="1069.1" r="4.6"/><circle cx="1085.1" cy="1089.1" r="4.6"/><circle cx="1085.1" cy="1097.7" r="4.6"/><circle cx="962.9" cy="1095.4" r="4.6"/><circle cx="1018.9" cy="1095.8" r="4.6"/><circle cx="1018.9" cy="1100.1" r="4.6"/><circle cx="947.6" cy="1112.6" r="4.6"/><circle cx="1034.2" cy="1109.9" r="4.6"/><circle cx="1018.9" cy="1114.1" r="4.6"/><circle cx="1018.9" cy="1119.6" r="4.6"/><circle cx="998.5" cy="1120.4" r="4.6"/><circle cx="998.5" cy="1124.3" r="4.6"/><circle cx="1034.2" cy="1121.2" r="4.6"/><circle cx="1034.2" cy="1125.9" r="4.6"/><circle cx="1064.7" cy="1118.4" r="4.6"/><circle cx="1024" cy="1127.4" r="4.6"/><circle cx="1024" cy="1132.1" r="4.6"/><circle cx="962.9" cy="1131.7" r="4.6"/><circle cx="932.4" cy="1137.6" r="4.6"/><circle cx="947.6" cy="1142.3" r="4.6"/><circle cx="978.2" cy="1143.1" r="4.6"/><circle cx="998.5" cy="1146.2" r="4.6"/><circle cx="1024" cy="1145.4" r="4.6"/><circle cx="1049.5" cy="1145.4" r="4.6"/><circle cx="1059.6" cy="1143.1" r="4.6"/><circle cx="1059.6" cy="1147.8" r="4.6"/><circle cx="1059.6" cy="1155.6" r="4.6"/><circle cx="952.7" cy="1149.4" r="4.6"/><circle cx="952.7" cy="1154.1" r="4.6"/><circle cx="968" cy="1152.5" r="4.6"/><circle cx="932.4" cy="1154.1" r="4.6"/><circle cx="1034.2" cy="1154.8" r="4.6"/><circle cx="1074.9" cy="1156.4" r="4.6"/><circle cx="1090.2" cy="1156.4" r="4.6"/><circle cx="1095.3" cy="1156.4" r="4.6"/><circle cx="1090.2" cy="1161.1" r="4.6"/><circle cx="937.5" cy="1159.5" r="4.6"/><circle cx="942.5" cy="1160.3" r="4.6"/><circle cx="932.4" cy="1165" r="4.6"/><circle cx="937.5" cy="1163.4" r="4.6"/><circle cx="998.5" cy="1158.7" r="4.6"/><circle cx="1013.8" cy="1161.1" r="4.6"/><circle cx="1049.5" cy="1167.4" r="4.6"/><circle cx="1054.5" cy="1166.6" r="4.6"/><circle cx="1069.8" cy="1163.4" r="4.6"/><circle cx="1074.9" cy="1165" r="4.6"/><circle cx="1095.3" cy="1172.1" r="4.6"/><circle cx="1013.8" cy="1176" r="4.6"/><circle cx="1054.5" cy="1177.5" r="4.6"/><circle cx="1034.2" cy="1181.4" r="4.6"/><circle cx="1085.1" cy="1183" r="4.6"/><circle cx="1090.2" cy="1183" r="4.6"/><circle cx="1095.3" cy="1181.4" r="4.6"/><circle cx="1069.8" cy="1186.9" r="4.6"/><circle cx="1069.8" cy="1191.6" r="4.6"/><circle cx="886.5" cy="1172.8" r="4.6"/><circle cx="886.5" cy="1176.7" r="4.6"/><circle cx="886.5" cy="1180.7" r="4.6"/><circle cx="881.5" cy="1183.8" r="4.6"/><circle cx="886.5" cy="1187.7" r="4.6"/><circle cx="896.7" cy="1185.4" r="4.6"/><circle cx="901.8" cy="1184.6" r="4.6"/><circle cx="983.3" cy="1181.4" r="4.6"/><circle cx="968" cy="1190" r="4.6"/><circle cx="973.1" cy="1190.8" r="4.6"/><circle cx="988.4" cy="1193.2" r="4.6"/><circle cx="988.4" cy="1194.7" r="4.6"/><circle cx="1008.7" cy="1193.2" r="4.6"/><circle cx="1013.8" cy="1194.7" r="4.6"/><circle cx="1100.4" cy="1194" r="4.6"/><circle cx="1059.6" cy="1197.1" r="4.6"/><circle cx="1064.7" cy="1197.1" r="4.6"/><circle cx="1069.8" cy="1200.2" r="4.6"/><circle cx="1074.9" cy="1203.3" r="4.6"/><circle cx="973.1" cy="1200.2" r="4.6"/><circle cx="1008.7" cy="1201" r="4.6"/><circle cx="1074.9" cy="1211.2" r="4.6"/><circle cx="988.4" cy="1211.2" r="4.6"/><circle cx="988.4" cy="1215.1" r="4.6"/><circle cx="988.4" cy="1218.2" r="4.6"/><circle cx="937.5" cy="1216.7" r="4.6"/><circle cx="876.4" cy="1225.3" r="4.6"/><circle cx="896.7" cy="1226" r="4.6"/><circle cx="891.6" cy="1224.5" r="4.6"/><circle cx="901.8" cy="1222.9" r="4.6"/><circle cx="906.9" cy="1221.3" r="4.6"/><circle cx="917.1" cy="1216.7" r="4.6"/><circle cx="917.1" cy="1212" r="4.6"/><circle cx="932.4" cy="1210.4" r="4.6"/><circle cx="937.5" cy="1210.4" r="4.6"/><circle cx="942.5" cy="1204.1" r="4.6"/><circle cx="947.6" cy="1199.4" r="4.6"/><circle cx="952.7" cy="1198.7" r="4.6"/><circle cx="957.8" cy="1191.6" r="4.6"/><circle cx="932.4" cy="1191.6" r="4.6"/><circle cx="927.3" cy="1194.7" r="4.6"/><circle cx="922.2" cy="1197.9" r="4.6"/><circle cx="896.7" cy="1219.8" r="4.6"/><circle cx="901.8" cy="1216.7" r="4.6"/><circle cx="906.9" cy="1216.7" r="4.6"/><circle cx="912" cy="1213.5" r="4.6"/><circle cx="1151.3" cy="1011.6" r="4.6"/><circle cx="1288.7" cy="1010.9" r="4.6"/><circle cx="1237.8" cy="1027.3" r="4.6"/><circle cx="1186.9" cy="1042.5" r="4.6"/><circle cx="1136" cy="1065.2" r="4.6"/><circle cx="1085.1" cy="1089.1" r="4.6"/><circle cx="1085.1" cy="1097.7" r="4.6"/><circle cx="1110.5" cy="1133.7" r="4.6"/><circle cx="1136" cy="1133.7" r="4.6"/><circle cx="1115.6" cy="1153.6" r="4.6"/><circle cx="1074.9" cy="1156.4" r="4.6"/><circle cx="1090.2" cy="1156.4" r="4.6"/><circle cx="1095.3" cy="1156.4" r="4.6"/><circle cx="1090.2" cy="1161.1" r="4.6"/><circle cx="1074.9" cy="1165" r="4.6"/><circle cx="1095.3" cy="1172.1" r="4.6"/><circle cx="1085.1" cy="1183" r="4.6"/><circle cx="1090.2" cy="1183" r="4.6"/><circle cx="1095.3" cy="1181.4" r="4.6"/><circle cx="1100.4" cy="1193.6" r="4.6"/><circle cx="1069.8" cy="1186.9" r="4.6"/><circle cx="1069.8" cy="1191.6" r="4.6"/><circle cx="1074.9" cy="1203.3" r="4.6"/><circle cx="1074.9" cy="1211.2" r="4.6"/></g>
<path class="gl" d="M850.9 1220.5 L852.9 1217.5 L855 1214.7 L857 1212.1 L859 1209.7 L861 1207.5 L863 1205.6 L865.1 1203.8 L867.1 1202.2 L869.1 1200.6 L871.1 1199.2 L873.1 1197.8 L875.2 1196.5 L877.2 1195.2 L879.2 1193.9 L881.2 1192.7 L883.2 1191.6 L885.3 1190.6 L887.3 1189.7 L889.3 1188.7 L891.3 1187.9 L893.4 1187.1 L895.4 1186.3 L897.4 1185.7 L899.4 1185.2 L901.4 1184.8 L903.5 1184.4 L905.5 1184 L907.5 1183.7 L909.5 1183.4 L911.5 1183.1 L913.6 1182.8 L915.6 1182.5 L917.6 1182.2 L919.6 1182 L921.6 1181.7 L923.7 1181.5 L925.7 1181.2 L927.7 1181 L929.7 1180.7 L931.7 1180.5 L933.8 1180.2 L935.8 1179.9 L937.8 1179.7 L939.8 1179.5 L941.9 1179.2 L943.9 1179 L945.9 1178.8 L947.9 1178.5 L949.9 1178.3 L952 1178 L954 1177.7 L956 1177.4 L958 1177.1 L960 1176.7 L962.1 1176.3 L964.1 1175.9 L966.1 1175.4 L968.1 1175 L970.1 1174.5 L972.2 1174 L974.2 1173.6 L976.2 1173.1 L978.2 1172.6 L980.2 1172.2 L982.3 1171.7 L984.3 1171.3 L986.3 1170.9 L988.3 1170.5 L990.3 1170.1 L992.4 1169.8 L994.4 1169.5 L996.4 1169.2 L998.4 1168.9 L1000.5 1168.6 L1002.5 1168.3 L1004.5 1168.1 L1006.5 1167.8 L1008.5 1167.6 L1010.6 1167.4 L1012.6 1167.1 L1014.6 1166.9 L1016.6 1166.7 L1018.6 1166.4 L1020.7 1166.2 L1022.7 1166 L1024.7 1165.8 L1026.7 1165.6 L1028.7 1165.4 L1030.8 1165.2 L1032.8 1165 L1034.8 1164.7 L1036.8 1164.5 L1038.8 1164.3 L1040.9 1164.1 L1042.9 1163.9 L1044.9 1163.7 L1046.9 1163.5 L1049 1163.2 L1051 1163 L1053 1162.8 L1055 1162.6 L1057 1162.4 L1059.1 1162.2 L1061.1 1162 L1063.1 1161.8 L1065.1 1161.6 L1067.1 1161.4 L1069.2 1161.2 L1071.2 1161 L1073.2 1160.8 L1075.2 1160.6 L1077.2 1160.4 L1079.3 1160.2 L1081.3 1160 L1083.3 1159.8 L1085.3 1159.7 L1087.3 1159.5 L1089.4 1159.3 L1091.4 1159.1 L1093.4 1159 L1095.4 1158.8 L1097.5 1158.6 L1099.5 1158.5 L1101.5 1158.3 L1103.5 1158.1 L1105.5 1157.9 L1107.6 1157.7 L1109.6 1157.5 L1111.6 1157.3 L1113.6 1157.1 L1115.6 1156.8"/>
<path class="gl" d="M886.5 1225.3 L888.6 1222.7 L890.6 1220.1 L892.6 1217.7 L894.6 1215.2 L896.7 1212.9 L898.7 1210.6 L900.7 1208.4 L902.7 1206.2 L904.7 1204.1 L906.8 1202 L908.8 1200 L910.8 1198 L912.8 1196.2 L914.8 1194.5 L916.9 1192.9 L918.9 1191.3 L920.9 1189.8 L922.9 1188.3 L924.9 1187 L927 1185.7 L929 1184.5 L931 1183.4 L933 1182.3 L935 1181.4 L937.1 1180.5 L939.1 1179.7 L941.1 1178.8 L943.1 1178 L945.2 1177.1 L947.2 1176.1 L949.2 1175.1 L951.2 1174.1 L953.2 1173.1 L955.3 1172.1 L957.3 1171.1 L959.3 1170 L961.3 1169 L963.3 1168 L965.4 1166.9 L967.4 1165.9 L969.4 1164.9 L971.4 1163.8 L973.4 1162.8 L975.5 1161.9 L977.5 1160.9 L979.5 1160.1 L981.5 1159.2 L983.5 1158.4 L985.6 1157.6 L987.6 1156.9 L989.6 1156.1 L991.6 1155.3 L993.7 1154.5 L995.7 1153.7 L997.7 1152.8 L999.7 1152 L1001.7 1151.2 L1003.8 1150.4 L1005.8 1149.6 L1007.8 1148.8 L1009.8 1148.1 L1011.8 1147.3 L1013.9 1146.6 L1015.9 1145.9 L1017.9 1145.2 L1019.9 1144.5 L1021.9 1143.8 L1024 1143.1 L1026 1142.4 L1028 1141.7 L1030 1141 L1032 1140.3 L1034.1 1139.6 L1036.1 1138.9 L1038.1 1138.2 L1040.1 1137.5 L1042.2 1136.8 L1044.2 1136 L1046.2 1135.3 L1048.2 1134.6 L1050.2 1133.9 L1052.3 1133.2 L1054.3 1132.5 L1056.3 1131.9 L1058.3 1131.2 L1060.3 1130.6 L1062.4 1130 L1064.4 1129.3 L1066.4 1128.8 L1068.4 1128.2 L1070.4 1127.6 L1072.5 1127.1 L1074.5 1126.5 L1076.5 1126 L1078.5 1125.5 L1080.5 1125 L1082.6 1124.6 L1084.6 1124.1 L1086.6 1123.6 L1088.6 1123 L1090.7 1122.5 L1092.7 1122 L1094.7 1121.4 L1096.7 1120.9 L1098.7 1120.4 L1100.8 1119.9 L1102.8 1119.4 L1104.8 1118.9 L1106.8 1118.4 L1108.8 1118 L1110.9 1117.5 L1112.9 1117 L1114.9 1116.6 L1116.9 1116.1 L1118.9 1115.7 L1121 1115.3 L1123 1114.8 L1125 1114.4 L1127 1114 L1129 1113.6 L1131.1 1113.2 L1133.1 1112.7 L1135.1 1112.4 L1137.1 1112 L1139.2 1111.6 L1141.2 1111.2 L1143.2 1110.8 L1145.2 1110.5 L1147.2 1110.1 L1149.3 1109.8 L1151.3 1109.4"/>
<path d="M835.6 1225.8 L837.7 1225.4 L839.7 1224.9 L841.7 1224.3 L843.7 1223.6 L845.7 1222.9 L847.7 1222 L849.7 1220.9 L851.8 1219.8 L853.8 1218.6 L855.8 1217.3 L857.8 1215.9 L859.8 1214.4 L861.8 1212.9 L863.8 1211.2 L865.8 1209.5 L867.9 1207.8 L869.9 1205.9 L871.9 1204.1 L873.9 1202.2 L875.9 1200.2 L877.9 1198.2 L879.9 1196.2 L882 1194.2 L884 1192.2 L886 1190.2 L888 1188.1 L890 1186.1 L892 1184.1 L894 1182.1 L896.1 1180.1 L898.1 1178.1 L900.1 1176.1 L902.1 1174.2 L904.1 1172.2 L906.1 1170.3 L908.1 1168.5 L910.1 1166.6 L912.2 1164.8 L914.2 1163.1 L916.2 1161.3 L918.2 1159.6 L920.2 1158 L922.2 1156.3 L924.2 1154.7 L926.3 1153.2 L928.3 1151.7 L930.3 1150.2 L932.3 1148.7 L934.3 1147.3 L936.3 1146 L938.3 1144.6 L940.4 1143.3 L942.4 1142.1 L944.4 1140.8 L946.4 1139.7 L948.4 1138.5 L950.4 1137.4 L952.4 1136.3 L954.5 1135.2 L956.5 1134.2 L958.5 1133.2 L960.5 1132.3 L962.5 1131.4 L964.5 1130.5 L966.5 1129.6 L968.5 1128.8 L970.6 1127.9 L972.6 1127.2 L974.6 1126.4 L976.6 1125.7 L978.6 1125 L980.6 1124.3 L982.6 1123.6 L984.7 1123 L986.7 1122.4 L988.7 1121.8 L990.7 1121.2 L992.7 1120.6 L994.7 1120.1 L996.7 1119.6 L998.8 1119.1 L1000.8 1118.6 L1002.8 1118.2 L1004.8 1117.7 L1006.8 1117.3 L1008.8 1116.9 L1010.8 1116.5 L1012.8 1116.1 L1014.9 1115.7 L1016.9 1115.4 L1018.9 1115 L1020.9 1114.7 L1022.9 1114.4 L1024.9 1114.1 L1026.9 1113.8 L1029 1113.5 L1031 1113.2 L1033 1113 L1035 1112.7 L1037 1112.5 L1039 1112.2 L1041 1112 L1043.1 1111.8 L1045.1 1111.6 L1047.1 1111.4 L1049.1 1111.2 L1051.1 1111 L1053.1 1110.8 L1055.1 1110.6 L1057.2 1110.5 L1059.2 1110.3 L1061.2 1110.2 L1063.2 1110 L1065.2 1109.9 L1067.2 1109.7 L1069.2 1109.6 L1071.2 1109.5 L1073.3 1109.3 L1075.3 1109.2 L1077.3 1109.1 L1079.3 1109 L1081.3 1108.9 L1083.3 1108.8 L1085.3 1108.7 L1087.4 1108.6 L1089.4 1108.5 L1091.4 1108.4 L1093.4 1108.4 L1095.4 1108.3 L1097.4 1108.2 L1099.4 1108.1 L1101.5 1108.1 L1103.5 1108 L1105.5 1107.9 L1107.5 1107.9 L1109.5 1107.8 L1111.5 1107.7 L1113.5 1107.7 L1115.5 1107.6 L1117.6 1107.6 L1119.6 1107.5 L1121.6 1107.5 L1123.6 1107.4 L1125.6 1107.4 L1127.6 1107.4 L1129.6 1107.3 L1131.7 1107.3 L1133.7 1107.2 L1135.7 1107.2 L1137.7 1107.2 L1139.7 1107.1 L1141.7 1107.1 L1143.7 1107.1 L1145.8 1107 L1147.8 1107 L1149.8 1107 L1151.8 1107 L1153.8 1106.9 L1155.8 1106.9 L1157.8 1106.9 L1159.9 1106.9 L1161.9 1106.8 L1163.9 1106.8 L1165.9 1106.8 L1167.9 1106.8 L1169.9 1106.8 L1171.9 1106.7 L1173.9 1106.7 L1176 1106.7 L1178 1106.7 L1180 1106.7 L1182 1106.7 L1184 1106.6 L1186 1106.6 L1188 1106.6 L1190.1 1106.6 L1192.1 1106.6 L1194.1 1106.6 L1196.1 1106.6 L1198.1 1106.6 L1200.1 1106.6 L1202.1 1106.5 L1204.2 1106.5 L1206.2 1106.5 L1208.2 1106.5 L1210.2 1106.5 L1212.2 1106.5 L1214.2 1106.5 L1216.2 1106.5 L1218.3 1106.5 L1220.3 1106.5 L1222.3 1106.5 L1224.3 1106.5 L1226.3 1106.5 L1228.3 1106.4 L1230.3 1106.4 L1232.3 1106.4 L1234.4 1106.4 L1236.4 1106.4 L1238.4 1106.4 L1240.4 1106.4 L1242.4 1106.4 L1244.4 1106.4 L1246.4 1106.4 L1248.5 1106.4 L1250.5 1106.4 L1252.5 1106.4 L1254.5 1106.4 L1256.5 1106.4 L1258.5 1106.4 L1260.5 1106.4 L1262.6 1106.4 L1264.6 1106.4 L1266.6 1106.4 L1268.6 1106.4 L1270.6 1106.4 L1272.6 1106.4 L1274.6 1106.4 L1276.6 1106.4 L1278.7 1106.4 L1280.7 1106.4 L1282.7 1106.4 L1284.7 1106.4 L1286.7 1106.3 L1288.7 1106.3 L1288.7 1148.6 L1286.7 1148.6 L1284.7 1148.7 L1282.7 1148.7 L1280.7 1148.7 L1278.7 1148.7 L1276.6 1148.8 L1274.6 1148.8 L1272.6 1148.8 L1270.6 1148.8 L1268.6 1148.9 L1266.6 1148.9 L1264.6 1148.9 L1262.6 1148.9 L1260.5 1149 L1258.5 1149 L1256.5 1149 L1254.5 1149 L1252.5 1149.1 L1250.5 1149.1 L1248.5 1149.1 L1246.4 1149.2 L1244.4 1149.2 L1242.4 1149.2 L1240.4 1149.3 L1238.4 1149.3 L1236.4 1149.3 L1234.4 1149.4 L1232.3 1149.4 L1230.3 1149.5 L1228.3 1149.5 L1226.3 1149.5 L1224.3 1149.6 L1222.3 1149.6 L1220.3 1149.7 L1218.3 1149.7 L1216.2 1149.8 L1214.2 1149.8 L1212.2 1149.9 L1210.2 1149.9 L1208.2 1150 L1206.2 1150 L1204.2 1150.1 L1202.1 1150.1 L1200.1 1150.2 L1198.1 1150.2 L1196.1 1150.3 L1194.1 1150.3 L1192.1 1150.4 L1190.1 1150.5 L1188 1150.5 L1186 1150.6 L1184 1150.7 L1182 1150.7 L1180 1150.8 L1178 1150.9 L1176 1150.9 L1173.9 1151 L1171.9 1151.1 L1169.9 1151.2 L1167.9 1151.2 L1165.9 1151.3 L1163.9 1151.4 L1161.9 1151.5 L1159.9 1151.6 L1157.8 1151.7 L1155.8 1151.8 L1153.8 1151.9 L1151.8 1151.9 L1149.8 1152 L1147.8 1152.1 L1145.8 1152.2 L1143.7 1152.4 L1141.7 1152.5 L1139.7 1152.6 L1137.7 1152.7 L1135.7 1152.8 L1133.7 1152.9 L1131.7 1153 L1129.6 1153.2 L1127.6 1153.3 L1125.6 1153.4 L1123.6 1153.5 L1121.6 1153.7 L1119.6 1153.8 L1117.6 1153.9 L1115.5 1154.1 L1113.5 1154.2 L1111.5 1154.4 L1109.5 1154.5 L1107.5 1154.7 L1105.5 1154.8 L1103.5 1155 L1101.5 1155.2 L1099.4 1155.3 L1097.4 1155.5 L1095.4 1155.7 L1093.4 1155.9 L1091.4 1156.1 L1089.4 1156.3 L1087.4 1156.5 L1085.3 1156.7 L1083.3 1156.9 L1081.3 1157.1 L1079.3 1157.3 L1077.3 1157.5 L1075.3 1157.7 L1073.3 1157.9 L1071.2 1158.2 L1069.2 1158.4 L1067.2 1158.6 L1065.2 1158.9 L1063.2 1159.1 L1061.2 1159.4 L1059.2 1159.7 L1057.2 1159.9 L1055.1 1160.2 L1053.1 1160.5 L1051.1 1160.8 L1049.1 1161.1 L1047.1 1161.4 L1045.1 1161.7 L1043.1 1162 L1041 1162.3 L1039 1162.6 L1037 1163 L1035 1163.3 L1033 1163.6 L1031 1164 L1029 1164.4 L1026.9 1164.7 L1024.9 1165.1 L1022.9 1165.5 L1020.9 1165.9 L1018.9 1166.3 L1016.9 1166.7 L1014.9 1167.1 L1012.8 1167.5 L1010.8 1167.9 L1008.8 1168.4 L1006.8 1168.8 L1004.8 1169.3 L1002.8 1169.7 L1000.8 1170.2 L998.8 1170.7 L996.7 1171.2 L994.7 1171.7 L992.7 1172.2 L990.7 1172.7 L988.7 1173.2 L986.7 1173.8 L984.7 1174.3 L982.6 1174.9 L980.6 1175.5 L978.6 1176 L976.6 1176.6 L974.6 1177.2 L972.6 1177.8 L970.6 1178.5 L968.5 1179.1 L966.5 1179.7 L964.5 1180.4 L962.5 1181 L960.5 1181.7 L958.5 1182.4 L956.5 1183.1 L954.5 1183.8 L952.4 1184.5 L950.4 1185.2 L948.4 1186 L946.4 1186.7 L944.4 1187.5 L942.4 1188.2 L940.4 1189 L938.3 1189.8 L936.3 1190.6 L934.3 1191.4 L932.3 1192.2 L930.3 1193 L928.3 1193.8 L926.3 1194.7 L924.2 1195.5 L922.2 1196.4 L920.2 1197.2 L918.2 1198.1 L916.2 1199 L914.2 1199.8 L912.2 1200.7 L910.1 1201.6 L908.1 1202.5 L906.1 1203.4 L904.1 1204.3 L902.1 1205.2 L900.1 1206.1 L898.1 1207 L896.1 1207.9 L894 1208.8 L892 1209.7 L890 1210.6 L888 1211.5 L886 1212.4 L884 1213.2 L882 1214.1 L879.9 1215 L877.9 1215.8 L875.9 1216.6 L873.9 1217.4 L871.9 1218.2 L869.9 1219 L867.9 1219.8 L865.8 1220.5 L863.8 1221.2 L861.8 1221.8 L859.8 1222.5 L857.8 1223.1 L855.8 1223.7 L853.8 1224.2 L851.8 1224.7 L849.7 1225.1 L847.7 1225.5 L845.7 1225.8 L843.7 1226.1 L841.7 1226.3 L839.7 1226.5 L837.7 1226.6 L835.6 1226.6Z" fill="#F0E442" fill-opacity="0.2"/>
<path class="ml" stroke="#F0E442" d="M835.6 1226.6 L837.7 1226.5 L839.7 1226.2 L841.7 1225.8 L843.7 1225.3 L845.7 1224.7 L847.7 1223.9 L849.7 1223.1 L851.8 1222.3 L853.8 1221.3 L855.8 1220.3 L857.8 1219.3 L859.8 1218.2 L861.8 1217.1 L863.8 1215.9 L865.8 1214.7 L867.9 1213.5 L869.9 1212.2 L871.9 1210.9 L873.9 1209.7 L875.9 1208.4 L877.9 1207.1 L879.9 1205.8 L882 1204.4 L884 1203.1 L886 1201.8 L888 1200.5 L890 1199.2 L892 1197.8 L894 1196.5 L896.1 1195.2 L898.1 1193.9 L900.1 1192.6 L902.1 1191.4 L904.1 1190.1 L906.1 1188.9 L908.1 1187.6 L910.1 1186.4 L912.2 1185.2 L914.2 1184 L916.2 1182.8 L918.2 1181.6 L920.2 1180.5 L922.2 1179.4 L924.2 1178.2 L926.3 1177.1 L928.3 1176.1 L930.3 1175 L932.3 1173.9 L934.3 1172.9 L936.3 1171.9 L938.3 1170.9 L940.4 1169.9 L942.4 1168.9 L944.4 1168 L946.4 1167 L948.4 1166.1 L950.4 1165.2 L952.4 1164.4 L954.5 1163.5 L956.5 1162.6 L958.5 1161.8 L960.5 1161 L962.5 1160.2 L964.5 1159.4 L966.5 1158.6 L968.5 1157.9 L970.6 1157.1 L972.6 1156.4 L974.6 1155.7 L976.6 1155 L978.6 1154.3 L980.6 1153.7 L982.6 1153 L984.7 1152.4 L986.7 1151.8 L988.7 1151.2 L990.7 1150.6 L992.7 1150 L994.7 1149.4 L996.7 1148.8 L998.8 1148.3 L1000.8 1147.8 L1002.8 1147.2 L1004.8 1146.7 L1006.8 1146.2 L1008.8 1145.7 L1010.8 1145.3 L1012.8 1144.8 L1014.9 1144.4 L1016.9 1143.9 L1018.9 1143.5 L1020.9 1143 L1022.9 1142.6 L1024.9 1142.2 L1026.9 1141.8 L1029 1141.4 L1031 1141.1 L1033 1140.7 L1035 1140.3 L1037 1140 L1039 1139.6 L1041 1139.3 L1043.1 1139 L1045.1 1138.6 L1047.1 1138.3 L1049.1 1138 L1051.1 1137.7 L1053.1 1137.4 L1055.1 1137.2 L1057.2 1136.9 L1059.2 1136.6 L1061.2 1136.3 L1063.2 1136.1 L1065.2 1135.8 L1067.2 1135.6 L1069.2 1135.3 L1071.2 1135.1 L1073.3 1134.9 L1075.3 1134.7 L1077.3 1134.4 L1079.3 1134.2 L1081.3 1134 L1083.3 1133.8 L1085.3 1133.6 L1087.4 1133.4 L1089.4 1133.2 L1091.4 1133.1 L1093.4 1132.9 L1095.4 1132.7 L1097.4 1132.5 L1099.4 1132.4 L1101.5 1132.2 L1103.5 1132 L1105.5 1131.9 L1107.5 1131.7 L1109.5 1131.6 L1111.5 1131.4 L1113.5 1131.3 L1115.5 1131.2 L1117.6 1131 L1119.6 1130.9 L1121.6 1130.8 L1123.6 1130.7 L1125.6 1130.5 L1127.6 1130.4 L1129.6 1130.3 L1131.7 1130.2 L1133.7 1130.1 L1135.7 1130 L1137.7 1129.9 L1139.7 1129.8 L1141.7 1129.7 L1143.7 1129.6 L1145.8 1129.5 L1147.8 1129.4 L1149.8 1129.3 L1151.8 1129.2 L1153.8 1129.1 L1155.8 1129.1 L1157.8 1129 L1159.9 1128.9 L1161.9 1128.8 L1163.9 1128.7 L1165.9 1128.7 L1167.9 1128.6 L1169.9 1128.5 L1171.9 1128.5 L1173.9 1128.4 L1176 1128.3 L1178 1128.3 L1180 1128.2 L1182 1128.1 L1184 1128.1 L1186 1128 L1188 1128 L1190.1 1127.9 L1192.1 1127.9 L1194.1 1127.8 L1196.1 1127.8 L1198.1 1127.7 L1200.1 1127.7 L1202.1 1127.6 L1204.2 1127.6 L1206.2 1127.5 L1208.2 1127.5 L1210.2 1127.5 L1212.2 1127.4 L1214.2 1127.4 L1216.2 1127.3 L1218.3 1127.3 L1220.3 1127.3 L1222.3 1127.2 L1224.3 1127.2 L1226.3 1127.2 L1228.3 1127.1 L1230.3 1127.1 L1232.3 1127.1 L1234.4 1127 L1236.4 1127 L1238.4 1127 L1240.4 1126.9 L1242.4 1126.9 L1244.4 1126.9 L1246.4 1126.9 L1248.5 1126.8 L1250.5 1126.8 L1252.5 1126.8 L1254.5 1126.8 L1256.5 1126.7 L1258.5 1126.7 L1260.5 1126.7 L1262.6 1126.7 L1264.6 1126.6 L1266.6 1126.6 L1268.6 1126.6 L1270.6 1126.6 L1272.6 1126.6 L1274.6 1126.5 L1276.6 1126.5 L1278.7 1126.5 L1280.7 1126.5 L1282.7 1126.5 L1284.7 1126.5 L1286.7 1126.4 L1288.7 1126.4"/>
<path class="axl" d="M805.1 718.7 V1250.8 H1365.1"/>
<path class="tkl" d="M793.7 1226.6 H804.2 M793.7 1105.5 H804.2 M793.7 984.5 H804.2 M793.7 863.4 H804.2 M793.7 742.4 H804.2 M830.6 1251.7 V1261.7 M957.8 1251.7 V1261.7 M1085.1 1251.7 V1261.7 M1212.4 1251.7 V1261.7 M1339.6 1251.7 V1261.7"/>
<text class="tk" text-anchor="end" x="784.8" y="1233.5">0</text><text class="tk" text-anchor="end" x="784.8" y="1112.5">100</text><text class="tk" text-anchor="end" x="784.8" y="991.4">200</text><text class="tk" text-anchor="end" x="784.8" y="870.3">300</text><text class="tk" text-anchor="end" x="784.8" y="749.3">400</text>
<text class="tk" text-anchor="middle" x="830.6" y="1285.5">0</text><text class="tk" text-anchor="middle" x="957.8" y="1285.5">25</text><text class="tk" text-anchor="middle" x="1085.1" y="1285.5">50</text><text class="tk" text-anchor="middle" x="1212.4" y="1285.5">75</text><text class="tk" text-anchor="middle" x="1339.6" y="1285.5">100</text>
<text class="ti" x="805.8" y="687.1">Larix</text>
<text class="an" x="833.3" y="750">Countries: 5</text><text class="an" x="833.3" y="776.6">Sites: 41</text><text class="an" x="833.3" y="802.9">Observations: 221</text><text class="an" x="833.3" y="827.9">Species: 10</text>
</g>
<g id="panel-picea">
<g class="pt"><circle cx="1552.8" cy="1225" r="4.6"/><circle cx="1527.4" cy="1215.3" r="4.6"/><circle cx="1573.2" cy="1205.2" r="4.6"/><circle cx="1573.2" cy="1220.7" r="4.6"/><circle cx="1583.4" cy="1211.8" r="4.6"/><circle cx="1588.5" cy="1206.1" r="4.6"/><circle cx="1588.5" cy="1218.3" r="4.6"/><circle cx="1527.4" cy="1226.4" r="4.6"/><circle cx="1583.4" cy="1225.6" r="4.6"/><circle cx="1578.3" cy="1209.6" r="4.6"/><circle cx="1507" cy="1223.4" r="4.6"/><circle cx="1501.9" cy="1223.3" r="4.6"/><circle cx="1588.5" cy="1224.9" r="4.6"/><circle cx="1583.4" cy="1201.6" r="4.6"/><circle cx="1522.3" cy="1222.3" r="4.6"/><circle cx="1522.3" cy="1218" r="4.6"/><circle cx="1583.4" cy="1179.1" r="4.6"/><circle cx="1507" cy="1226.2" r="4.6"/><circle cx="1578.3" cy="1210.4" r="4.6"/><circle cx="1527.4" cy="1216" r="4.6"/><circle cx="1593.6" cy="1223.1" r="4.6"/><circle cx="1522.3" cy="1222.3" r="4.6"/><circle cx="1557.9" cy="1208.9" r="4.6"/><circle cx="1568.1" cy="1220.3" r="4.6"/><circle cx="1501.9" cy="1226.5" r="4.6"/><circle cx="1563" cy="1203.7" r="4.6"/><circle cx="1557.9" cy="1203.8" r="4.6"/><circle cx="1568.1" cy="1190" r="4.6"/><circle cx="1578.3" cy="1222.6" r="4.6"/><circle cx="1522.3" cy="1226.6" r="4.6"/><circle cx="1507" cy="1222.7" r="4.6"/><circle cx="1593.6" cy="1200.1" r="4.6"/><circle cx="1517.2" cy="1223.7" r="4.6"/><circle cx="1522.3" cy="1218.5" r="4.6"/><circle cx="1578.3" cy="1200.9" r="4.6"/><circle cx="1578.3" cy="1219.5" r="4.6"/><circle cx="1593.6" cy="1181.1" r="4.6"/><circle cx="1537.6" cy="1222.9" r="4.6"/><circle cx="1583.4" cy="1205.4" r="4.6"/><circle cx="1557.9" cy="1219.1" r="4.6"/><circle cx="1598.7" cy="1223.8" r="4.6"/><circle cx="1532.5" cy="1219.2" r="4.6"/><circle cx="1542.7" cy="1203.7" r="4.6"/><circle cx="1547.7" cy="1197.1" r="4.6"/><circle cx="1552.8" cy="1195.1" r="4.6"/><circle cx="1583.4" cy="1201.6" r="4.6"/><circle cx="1532.5" cy="1226.3" r="4.6"/><circle cx="1501.9" cy="1226.5" r="4.6"/><circle cx="1578.3" cy="1226.5" r="4.6"/><circle cx="1537.6" cy="1220" r="4.6"/><circle cx="1527.4" cy="1225.4" r="4.6"/><circle cx="1537.6" cy="1216.9" r="4.6"/><circle cx="1517.2" cy="1219.4" r="4.6"/><circle cx="1578.3" cy="1203.6" r="4.6"/><circle cx="1573.2" cy="1216.2" r="4.6"/><circle cx="1598.7" cy="1188.8" r="4.6"/><circle cx="1588.5" cy="1226.6" r="4.6"/><circle cx="1573.2" cy="1184.2" r="4.6"/><circle cx="1578.3" cy="1215.5" r="4.6"/><circle cx="1578.3" cy="1225.5" r="4.6"/><circle cx="1583.4" cy="1197.6" r="4.6"/><circle cx="1512.1" cy="1225.2" r="4.6"/><circle cx="1578.3" cy="1221.7" r="4.6"/><circle cx="1583.4" cy="1185.1" r="4.6"/><circle cx="1593.6" cy="1222.9" r="4.6"/><circle cx="1527.4" cy="1216.9" r="4.6"/><circle cx="1578.3" cy="1194.5" r="4.6"/><circle cx="1593.6" cy="1223.6" r="4.6"/><circle cx="1573.2" cy="1223.1" r="4.6"/><circle cx="1588.5" cy="1204" r="4.6"/><circle cx="1537.6" cy="1221.6" r="4.6"/><circle cx="1578.3" cy="1224.6" r="4.6"/><circle cx="1527.4" cy="1223.9" r="4.6"/><circle cx="1512.1" cy="1225.2" r="4.6"/><circle cx="1598.7" cy="1194.8" r="4.6"/><circle cx="1507" cy="1223" r="4.6"/><circle cx="1583.4" cy="1203.4" r="4.6"/><circle cx="1501.9" cy="1224.1" r="4.6"/><circle cx="1532.5" cy="1216.1" r="4.6"/><circle cx="1547.7" cy="1222.7" r="4.6"/><circle cx="1527.4" cy="1216.6" r="4.6"/><circle cx="1532.5" cy="1214" r="4.6"/><circle cx="1568.1" cy="1225.9" r="4.6"/><circle cx="1578.3" cy="1214.6" r="4.6"/><circle cx="1501.9" cy="1223.6" r="4.6"/><circle cx="1542.7" cy="1226.6" r="4.6"/><circle cx="1588.5" cy="1201.4" r="4.6"/><circle cx="1552.8" cy="1225.6" r="4.6"/><circle cx="1568.1" cy="1211.6" r="4.6"/><circle cx="1583.4" cy="1216.3" r="4.6"/><circle cx="1573.2" cy="1203" r="4.6"/><circle cx="1532.5" cy="1226.2" r="4.6"/><circle cx="1563" cy="1201.9" r="4.6"/><circle cx="1588.5" cy="1190.7" r="4.6"/><circle cx="1557.9" cy="1205.9" r="4.6"/><circle cx="1517.2" cy="1225.7" r="4.6"/><circle cx="1512.1" cy="1222.3" r="4.6"/><circle cx="1603.7" cy="1211.6" r="4.6"/><circle cx="1583.4" cy="1221" r="4.6"/><circle cx="1588.5" cy="1226.4" r="4.6"/><circle cx="1552.8" cy="1222.5" r="4.6"/><circle cx="1593.6" cy="1225.6" r="4.6"/><circle cx="1527.4" cy="1226.5" r="4.6"/><circle cx="1593.6" cy="1222.7" r="4.6"/><circle cx="1593.6" cy="1222.7" r="4.6"/><circle cx="1588.5" cy="1225.2" r="4.6"/><circle cx="1593.6" cy="1179.8" r="4.6"/><circle cx="1593.6" cy="1204.5" r="4.6"/><circle cx="1593.6" cy="1185.8" r="4.6"/><circle cx="1598.7" cy="1223.8" r="4.6"/><circle cx="1593.6" cy="1197.9" r="4.6"/><circle cx="1547.7" cy="1225.9" r="4.6"/><circle cx="1593.6" cy="1217.1" r="4.6"/><circle cx="1568.1" cy="1189.4" r="4.6"/><circle cx="1563" cy="1224.4" r="4.6"/><circle cx="1583.4" cy="1214.2" r="4.6"/><circle cx="1542.7" cy="1213.7" r="4.6"/><circle cx="1593.6" cy="1224.3" r="4.6"/><circle cx="1588.5" cy="1199.3" r="4.6"/><circle cx="1568.1" cy="1225.3" r="4.6"/><circle cx="1578.3" cy="1223.6" r="4.6"/><circle cx="1537.6" cy="1210.4" r="4.6"/><circle cx="1542.7" cy="1226.4" r="4.6"/><circle cx="1593.6" cy="1177.5" r="4.6"/><circle cx="1542.7" cy="1222.6" r="4.6"/><circle cx="1573.2" cy="1200.7" r="4.6"/><circle cx="1496.8" cy="1225.2" r="4.6"/><circle cx="1537.6" cy="1207" r="4.6"/><circle cx="1557.9" cy="1188.2" r="4.6"/><circle cx="1563" cy="1208.5" r="4.6"/><circle cx="1547.7" cy="1185" r="4.6"/><circle cx="1547.7" cy="1182.9" r="4.6"/><circle cx="1547.7" cy="1187" r="4.6"/><circle cx="1552.8" cy="1191.1" r="4.6"/><circle cx="1555.4" cy="1174.6" r="4.6"/><circle cx="1555.4" cy="1181.7" r="4.6"/><circle cx="1557.9" cy="1185.6" r="4.6"/><circle cx="1557.9" cy="1177" r="4.6"/><circle cx="1557.9" cy="1166" r="4.6"/><circle cx="1565.6" cy="1174.8" r="4.6"/><circle cx="1563" cy="1175.3" r="4.6"/><circle cx="1565.6" cy="1175.5" r="4.6"/><circle cx="1568.1" cy="1149.5" r="4.6"/><circle cx="1568.1" cy="1166.1" r="4.6"/><circle cx="1568.1" cy="1149.8" r="4.6"/><circle cx="1573.2" cy="1144" r="4.6"/><circle cx="1573.2" cy="1156.2" r="4.6"/><circle cx="1573.2" cy="1151.3" r="4.6"/><circle cx="1578.3" cy="1151.5" r="4.6"/><circle cx="1578.3" cy="1134.4" r="4.6"/><circle cx="1580.8" cy="1148.9" r="4.6"/><circle cx="1583.4" cy="1138.8" r="4.6"/><circle cx="1583.4" cy="1142" r="4.6"/><circle cx="1583.4" cy="1141.2" r="4.6"/><circle cx="1588.5" cy="1127.2" r="4.6"/><circle cx="1588.5" cy="1138.7" r="4.6"/><circle cx="1588.5" cy="1122.3" r="4.6"/><circle cx="1596.1" cy="1117.4" r="4.6"/><circle cx="1593.6" cy="1122.1" r="4.6"/><circle cx="1593.6" cy="1131.3" r="4.6"/><circle cx="1598.7" cy="1104.2" r="4.6"/><circle cx="1598.7" cy="1106.5" r="4.6"/><circle cx="1598.7" cy="1113" r="4.6"/><circle cx="1606.3" cy="1109.3" r="4.6"/><circle cx="1603.7" cy="1107.4" r="4.6"/><circle cx="1603.7" cy="1103.7" r="4.6"/><circle cx="1608.8" cy="1107.1" r="4.6"/><circle cx="1608.8" cy="1089.4" r="4.6"/><circle cx="1611.4" cy="1102.2" r="4.6"/><circle cx="1613.9" cy="1082.6" r="4.6"/><circle cx="1613.9" cy="1085.1" r="4.6"/><circle cx="1613.9" cy="1089.2" r="4.6"/><circle cx="1619" cy="1075.7" r="4.6"/><circle cx="1619" cy="1085" r="4.6"/><circle cx="1619" cy="1089.9" r="4.6"/><circle cx="1715.7" cy="881.5" r="4.6"/><circle cx="1715.7" cy="895.5" r="4.6"/><circle cx="1715.7" cy="896.5" r="4.6"/><circle cx="1741.2" cy="943" r="4.6"/><circle cx="1669.9" cy="1021.7" r="4.6"/><circle cx="1669.9" cy="1028" r="4.6"/><circle cx="1695.4" cy="1020.7" r="4.6"/><circle cx="1720.8" cy="1031.1" r="4.6"/><circle cx="1669.9" cy="1045.3" r="4.6"/><circle cx="1669.9" cy="1046.1" r="4.6"/><circle cx="1639.4" cy="1045.7" r="4.6"/><circle cx="1639.4" cy="1055.1" r="4.6"/><circle cx="1588.5" cy="1053.4" r="4.6"/><circle cx="1598.7" cy="1056.1" r="4.6"/><circle cx="1659.7" cy="1073.5" r="4.6"/><circle cx="1639.4" cy="1073.9" r="4.6"/><circle cx="1634.3" cy="1079.1" r="4.6"/><circle cx="1639.4" cy="1074.9" r="4.6"/><circle cx="1619" cy="1078" r="4.6"/><circle cx="1746.3" cy="1071.8" r="4.6"/><circle cx="1700.5" cy="1081.2" r="4.6"/><circle cx="1848.1" cy="1068.7" r="4.6"/><circle cx="1731" cy="1088.5" r="4.6"/><circle cx="1771.7" cy="1092.7" r="4.6"/><circle cx="1797.2" cy="1090.2" r="4.6"/><circle cx="1690.3" cy="1100" r="4.6"/><circle cx="1858.3" cy="1092.7" r="4.6"/><circle cx="1710.7" cy="1113.5" r="4.6"/><circle cx="1771.7" cy="1112.5" r="4.6"/><circle cx="1746.3" cy="1120.8" r="4.6"/><circle cx="1720.8" cy="1126" r="4.6"/><circle cx="1725.9" cy="1136.5" r="4.6"/><circle cx="1725.9" cy="1139.6" r="4.6"/><circle cx="1685.2" cy="1138.6" r="4.6"/><circle cx="1731" cy="1146.9" r="4.6"/><circle cx="1680.1" cy="1149.6" r="4.6"/><circle cx="1715.7" cy="1153.2" r="4.6"/><circle cx="1720.8" cy="1156.3" r="4.6"/><circle cx="1731" cy="1154.2" r="4.6"/><circle cx="1756.5" cy="1151.1" r="4.6"/><circle cx="1761.6" cy="1149" r="4.6"/><circle cx="1792.1" cy="1151.5" r="4.6"/><circle cx="1792.1" cy="1157.3" r="4.6"/><circle cx="1792.1" cy="1162.6" r="4.6"/><circle cx="1787" cy="1164.6" r="4.6"/><circle cx="1736.1" cy="1170.3" r="4.6"/><circle cx="1695.4" cy="1165.1" r="4.6"/><circle cx="1680.1" cy="1161.5" r="4.6"/><circle cx="1675" cy="1163.6" r="4.6"/><circle cx="1669.9" cy="1169.9" r="4.6"/><circle cx="1669.9" cy="1180.3" r="4.6"/><circle cx="1649.6" cy="1183.8" r="4.6"/><circle cx="1644.5" cy="1195.9" r="4.6"/><circle cx="1619" cy="1208.9" r="4.6"/><circle cx="1608.8" cy="1197" r="4.6"/><circle cx="1608.8" cy="1202.2" r="4.6"/><circle cx="1619" cy="1109.3" r="4.6"/><circle cx="1613.9" cy="1118.7" r="4.6"/><circle cx="1608.8" cy="1125" r="4.6"/><circle cx="1603.7" cy="1131.3" r="4.6"/><circle cx="1634.3" cy="1117.7" r="4.6"/><circle cx="1634.3" cy="1132.3" r="4.6"/><circle cx="1644.5" cy="1126" r="4.6"/><circle cx="1644.5" cy="1131.3" r="4.6"/><circle cx="1608.8" cy="1149.4" r="4.6"/><circle cx="1619" cy="1156.3" r="4.6"/><circle cx="1644.5" cy="1158.4" r="4.6"/><circle cx="1649.6" cy="1156.3" r="4.6"/><circle cx="1654.7" cy="1156.3" r="4.6"/><circle cx="1654.7" cy="1165.7" r="4.6"/><circle cx="1634.3" cy="1167.8" r="4.6"/><circle cx="1634.3" cy="1175.1" r="4.6"/><circle cx="1629.2" cy="1173" r="4.6"/><circle cx="1634.3" cy="1183.4" r="4.6"/><circle cx="1593.6" cy="1163.6" r="4.6"/><circle cx="1603.7" cy="1166.7" r="4.6"/><circle cx="1563" cy="1151.1" r="4.6"/><circle cx="1568.1" cy="1143.8" r="4.6"/><circle cx="1573.2" cy="1143.8" r="4.6"/><circle cx="1573.2" cy="1150" r="4.6"/><circle cx="1552.8" cy="1171.9" r="4.6"/><circle cx="1547.7" cy="1185.5" r="4.6"/><circle cx="1563" cy="1185.5" r="4.6"/><circle cx="1568.1" cy="1179.2" r="4.6"/><circle cx="1573.2" cy="1173" r="4.6"/><circle cx="1578.3" cy="1166.7" r="4.6"/><circle cx="1583.4" cy="1160.5" r="4.6"/><circle cx="1588.5" cy="1154.2" r="4.6"/><circle cx="1593.6" cy="1147.9" r="4.6"/><circle cx="1583.4" cy="1128.1" r="4.6"/><circle cx="1588.5" cy="1122.9" r="4.6"/><circle cx="1593.6" cy="1115.6" r="4.6"/><circle cx="1593.6" cy="1103.1" r="4.6"/><circle cx="1598.7" cy="1103.1" r="4.6"/><circle cx="1598.7" cy="1110.4" r="4.6"/><circle cx="1603.7" cy="1090.6" r="4.6"/><circle cx="1608.8" cy="1090.6" r="4.6"/><circle cx="1613.9" cy="1085.4" r="4.6"/><circle cx="1619" cy="1085.4" r="4.6"/><circle cx="1603.7" cy="1096.8" r="4.6"/><circle cx="1608.8" cy="1096.8" r="4.6"/><circle cx="1629.2" cy="1179.2" r="4.6"/><circle cx="1634.3" cy="1170.9" r="4.6"/><circle cx="1629.2" cy="1166.7" r="4.6"/><circle cx="1848.1" cy="1068.2" r="4.6"/><circle cx="1858.3" cy="1093.3" r="4.6"/><circle cx="1868.5" cy="1096.8" r="4.6"/><circle cx="1899" cy="1049.5" r="4.6"/><circle cx="1924.5" cy="1013.8" r="4.6"/><circle cx="1924.5" cy="1107.3" r="4.6"/><circle cx="1949.9" cy="1035.3" r="4.6"/><circle cx="1792.1" cy="1151.5" r="4.6"/><circle cx="1792.1" cy="1157.3" r="4.6"/><circle cx="1787" cy="1164.6" r="4.6"/><circle cx="1792.1" cy="1163.6" r="4.6"/><circle cx="1761.6" cy="1149" r="4.6"/><circle cx="1756.5" cy="1151.1" r="4.6"/><circle cx="1736.1" cy="1170.3" r="4.6"/><circle cx="1731" cy="1146.9" r="4.6"/><circle cx="1731" cy="1154.2" r="4.6"/><circle cx="1720.8" cy="1156.3" r="4.6"/><circle cx="1715.7" cy="1153.2" r="4.6"/><circle cx="1725.9" cy="1136.9" r="4.6"/><circle cx="1725.9" cy="1140.6" r="4.6"/><circle cx="1720.8" cy="1126" r="4.6"/><circle cx="1710.7" cy="1113.5" r="4.6"/><circle cx="1700.5" cy="1081.2" r="4.6"/><circle cx="1731" cy="1087.4" r="4.6"/><circle cx="1695.4" cy="1165.1" r="4.6"/><circle cx="1746.3" cy="1070.7" r="4.6"/><circle cx="1746.3" cy="1120.8" r="4.6"/><circle cx="1771.7" cy="1092.7" r="4.6"/><circle cx="1771.7" cy="1112.5" r="4.6"/><circle cx="1797.2" cy="1090.2" r="4.6"/></g>
<path class="gl" d="M1522.3 1226.6 L1524.3 1215.9 L1526.3 1209.6 L1528.3 1204.4 L1530.3 1199.9 L1532.4 1195.9 L1534.4 1192.3 L1536.4 1188.9 L1538.4 1185.8 L1540.4 1182.8 L1542.4 1180 L1544.4 1177.4 L1546.4 1174.9 L1548.5 1172.5 L1550.5 1170.2 L1552.5 1168 L1554.5 1165.9 L1556.5 1163.8 L1558.5 1161.9 L1560.5 1160 L1562.5 1158.2 L1564.6 1156.5 L1566.6 1154.8 L1568.6 1153.1 L1570.6 1151.5 L1572.6 1150 L1574.6 1148.5 L1576.6 1147.1 L1578.7 1145.7 L1580.7 1144.3 L1582.7 1142.9 L1584.7 1141.6 L1586.7 1140.4 L1588.7 1139.1 L1590.7 1137.9 L1592.7 1136.8 L1594.8 1135.6 L1596.8 1134.5 L1598.8 1133.4 L1600.8 1132.3 L1602.8 1131.3 L1604.8 1130.2 L1606.8 1129.2 L1608.8 1128.3 L1610.9 1127.3 L1612.9 1126.3 L1614.9 1125.4 L1616.9 1124.5 L1618.9 1123.6 L1620.9 1122.7 L1622.9 1121.8 L1624.9 1121 L1627 1120.2 L1629 1119.3 L1631 1118.5 L1633 1117.7 L1635 1116.9 L1637 1116.2 L1639 1115.4 L1641 1114.6 L1643.1 1113.9 L1645.1 1113.2 L1647.1 1112.4 L1649.1 1111.7 L1651.1 1111 L1653.1 1110.3 L1655.1 1109.6 L1657.1 1109 L1659.2 1108.3 L1661.2 1107.6 L1663.2 1107 L1665.2 1106.3 L1667.2 1105.7 L1669.2 1105 L1671.2 1104.4 L1673.2 1103.8 L1675.3 1103.2 L1677.3 1102.5 L1679.3 1101.9 L1681.3 1101.3 L1683.3 1100.7 L1685.3 1100.1 L1687.3 1099.6 L1689.3 1099 L1691.4 1098.4 L1693.4 1097.8 L1695.4 1097.2 L1697.4 1096.7 L1699.4 1096.1 L1701.4 1095.6 L1703.4 1095 L1705.4 1094.4 L1707.5 1093.9 L1709.5 1093.3 L1711.5 1092.8 L1713.5 1092.3 L1715.5 1091.7 L1717.5 1091.2 L1719.5 1090.7 L1721.6 1090.1 L1723.6 1089.6 L1725.6 1089.1 L1727.6 1088.5 L1729.6 1088 L1731.6 1087.5 L1733.6 1087 L1735.6 1086.5 L1737.7 1086 L1739.7 1085.5 L1741.7 1084.9 L1743.7 1084.4 L1745.7 1083.9 L1747.7 1083.4 L1749.7 1082.9 L1751.7 1082.4 L1753.8 1081.9 L1755.8 1081.4 L1757.8 1080.9 L1759.8 1080.4 L1761.8 1080 L1763.8 1079.5 L1765.8 1079 L1767.8 1078.5 L1769.9 1078 L1771.9 1077.5 L1773.9 1077 L1775.9 1076.5 L1777.9 1076.1 L1779.9 1075.6 L1781.9 1075.1 L1783.9 1074.6 L1786 1074.1 L1788 1073.6 L1790 1073.2 L1792 1072.7 L1794 1072.2 L1796 1071.7 L1798 1071.3 L1800 1070.8 L1802.1 1070.3 L1804.1 1069.8 L1806.1 1069.4 L1808.1 1068.9 L1810.1 1068.4 L1812.1 1068 L1814.1 1067.5 L1816.1 1067 L1818.2 1066.5 L1820.2 1066.1 L1822.2 1065.6 L1824.2 1065.1 L1826.2 1064.7 L1828.2 1064.2 L1830.2 1063.7 L1832.2 1063.3 L1834.3 1062.8 L1836.3 1062.3 L1838.3 1061.9 L1840.3 1061.4 L1842.3 1060.9 L1844.3 1060.5 L1846.3 1060 L1848.3 1059.6 L1850.4 1059.1 L1852.4 1058.6 L1854.4 1058.2 L1856.4 1057.7 L1858.4 1057.2 L1860.4 1056.8 L1862.4 1056.3 L1864.5 1055.9 L1866.5 1055.4 L1868.5 1054.9"/>
<path class="gl" d="M1537.6 1222.7 L1539.6 1220 L1541.6 1217.5 L1543.6 1215.2 L1545.6 1213 L1547.6 1210.9 L1549.6 1208.9 L1551.6 1206.9 L1553.7 1205 L1555.7 1203.2 L1557.7 1201.4 L1559.7 1199.6 L1561.7 1197.9 L1563.7 1196.2 L1565.7 1194.6 L1567.7 1193 L1569.8 1191.4 L1571.8 1189.8 L1573.8 1188.3 L1575.8 1186.8 L1577.8 1185.3 L1579.8 1183.9 L1581.8 1182.5 L1583.8 1181.1 L1585.8 1179.7 L1587.9 1178.3 L1589.9 1177 L1591.9 1175.7 L1593.9 1174.4 L1595.9 1173.1 L1597.9 1171.8 L1599.9 1170.6 L1601.9 1169.3 L1603.9 1168.1 L1606 1166.9 L1608 1165.7 L1610 1164.6 L1612 1163.4 L1614 1162.3 L1616 1161.2 L1618 1160.1 L1620 1159 L1622.1 1157.9 L1624.1 1156.8 L1626.1 1155.8 L1628.1 1154.7 L1630.1 1153.7 L1632.1 1152.7 L1634.1 1151.7 L1636.1 1150.7 L1638.1 1149.7 L1640.2 1148.7 L1642.2 1147.8 L1644.2 1146.8 L1646.2 1145.9 L1648.2 1145 L1650.2 1144 L1652.2 1143.1 L1654.2 1142.2 L1656.2 1141.4 L1658.3 1140.5 L1660.3 1139.6 L1662.3 1138.8 L1664.3 1137.9 L1666.3 1137.1 L1668.3 1136.2 L1670.3 1135.4 L1672.3 1134.6 L1674.4 1133.8 L1676.4 1133 L1678.4 1132.2 L1680.4 1131.4 L1682.4 1130.7 L1684.4 1129.9 L1686.4 1129.2 L1688.4 1128.4 L1690.4 1127.7 L1692.5 1126.9 L1694.5 1126.2 L1696.5 1125.5 L1698.5 1124.8 L1700.5 1124.1 L1702.5 1123.4 L1704.5 1122.7 L1706.5 1122 L1708.5 1121.4 L1710.6 1120.7 L1712.6 1120 L1714.6 1119.4 L1716.6 1118.7 L1718.6 1118.1 L1720.6 1117.4 L1722.6 1116.8 L1724.6 1116.2 L1726.7 1115.6 L1728.7 1115 L1730.7 1114.4 L1732.7 1113.8 L1734.7 1113.2 L1736.7 1112.6 L1738.7 1112 L1740.7 1111.4 L1742.7 1110.9 L1744.8 1110.3 L1746.8 1109.7 L1748.8 1109.2 L1750.8 1108.6 L1752.8 1108.1 L1754.8 1107.5 L1756.8 1107 L1758.8 1106.5 L1760.8 1106 L1762.9 1105.4 L1764.9 1104.9 L1766.9 1104.4 L1768.9 1103.9 L1770.9 1103.4 L1772.9 1102.9 L1774.9 1102.4 L1776.9 1101.9 L1779 1101.4 L1781 1101 L1783 1100.5 L1785 1100 L1787 1099.6 L1789 1099.1 L1791 1098.6 L1793 1098.2 L1795 1097.7 L1797.1 1097.3 L1799.1 1096.9 L1801.1 1096.4 L1803.1 1096 L1805.1 1095.6 L1807.1 1095.1 L1809.1 1094.7 L1811.1 1094.3 L1813.1 1093.9 L1815.2 1093.5 L1817.2 1093.1 L1819.2 1092.7 L1821.2 1092.3 L1823.2 1091.9 L1825.2 1091.5 L1827.2 1091.1 L1829.2 1090.7 L1831.3 1090.3 L1833.3 1089.9 L1835.3 1089.6 L1837.3 1089.2 L1839.3 1088.8 L1841.3 1088.4 L1843.3 1088.1 L1845.3 1087.7 L1847.3 1087.4 L1849.4 1087 L1851.4 1086.7 L1853.4 1086.3 L1855.4 1086 L1857.4 1085.6 L1859.4 1085.3 L1861.4 1084.9 L1863.4 1084.6 L1865.4 1084.3 L1867.5 1083.9 L1869.5 1083.6 L1871.5 1083.3 L1873.5 1083 L1875.5 1082.7 L1877.5 1082.3 L1879.5 1082 L1881.5 1081.7 L1883.6 1081.4 L1885.6 1081.1 L1887.6 1080.8 L1889.6 1080.5 L1891.6 1080.2 L1893.6 1079.9 L1895.6 1079.6 L1897.6 1079.3 L1899.6 1079 L1901.7 1078.7 L1903.7 1078.5 L1905.7 1078.2 L1907.7 1077.9 L1909.7 1077.6 L1911.7 1077.3 L1913.7 1077.1 L1915.7 1076.8 L1917.7 1076.5 L1919.8 1076.3 L1921.8 1076 L1923.8 1075.7 L1925.8 1075.5 L1927.8 1075.2 L1929.8 1075 L1931.8 1074.7 L1933.8 1074.4 L1935.9 1074.2 L1937.9 1073.9 L1939.9 1073.7 L1941.9 1073.5 L1943.9 1073.2 L1945.9 1073 L1947.9 1072.7 L1949.9 1072.5"/>
<path d="M1496.8 1226.6 L1498.9 1226.4 L1500.9 1226.2 L1502.9 1226 L1504.9 1225.7 L1506.9 1225.4 L1508.9 1225.1 L1510.9 1224.8 L1513 1224.4 L1515 1223.9 L1517 1223.4 L1519 1222.9 L1521 1222.3 L1523 1221.6 L1525 1220.9 L1527 1220.1 L1529.1 1219.2 L1531.1 1218.2 L1533.1 1217.2 L1535.1 1216.1 L1537.1 1215 L1539.1 1213.7 L1541.1 1212.4 L1543.2 1211 L1545.2 1209.5 L1547.2 1208 L1549.2 1206.4 L1551.2 1204.7 L1553.2 1203 L1555.2 1201.2 L1557.3 1199.3 L1559.3 1197.3 L1561.3 1195.3 L1563.3 1193.3 L1565.3 1191.2 L1567.3 1189 L1569.3 1186.8 L1571.3 1184.5 L1573.4 1182.2 L1575.4 1179.9 L1577.4 1177.5 L1579.4 1175 L1581.4 1172.6 L1583.4 1170.1 L1585.4 1167.5 L1587.5 1165 L1589.5 1162.4 L1591.5 1159.8 L1593.5 1157.1 L1595.5 1154.5 L1597.5 1151.8 L1599.5 1149.1 L1601.6 1146.4 L1603.6 1143.6 L1605.6 1140.9 L1607.6 1138.1 L1609.6 1135.4 L1611.6 1132.6 L1613.6 1129.9 L1615.7 1127.1 L1617.7 1124.3 L1619.7 1121.6 L1621.7 1118.8 L1623.7 1116.1 L1625.7 1113.3 L1627.7 1110.6 L1629.7 1107.8 L1631.8 1105.1 L1633.8 1102.4 L1635.8 1099.7 L1637.8 1097 L1639.8 1094.3 L1641.8 1091.6 L1643.8 1088.9 L1645.9 1086.3 L1647.9 1083.7 L1649.9 1081.1 L1651.9 1078.5 L1653.9 1075.9 L1655.9 1073.4 L1657.9 1070.8 L1660 1068.3 L1662 1065.8 L1664 1063.3 L1666 1060.9 L1668 1058.5 L1670 1056.1 L1672 1053.7 L1674 1051.3 L1676.1 1049 L1678.1 1046.7 L1680.1 1044.4 L1682.1 1042.1 L1684.1 1039.8 L1686.1 1037.6 L1688.1 1035.4 L1690.2 1033.3 L1692.2 1031.1 L1694.2 1029 L1696.2 1026.9 L1698.2 1024.8 L1700.2 1022.8 L1702.2 1020.7 L1704.3 1018.7 L1706.3 1016.7 L1708.3 1014.8 L1710.3 1012.9 L1712.3 1010.9 L1714.3 1009.1 L1716.3 1007.2 L1718.4 1005.4 L1720.4 1003.6 L1722.4 1001.8 L1724.4 1000 L1726.4 998.3 L1728.4 996.5 L1730.4 994.8 L1732.4 993.2 L1734.5 991.5 L1736.5 989.9 L1738.5 988.3 L1740.5 986.7 L1742.5 985.1 L1744.5 983.6 L1746.5 982.1 L1748.6 980.6 L1750.6 979.1 L1752.6 977.6 L1754.6 976.2 L1756.6 974.7 L1758.6 973.3 L1760.6 972 L1762.7 970.6 L1764.7 969.3 L1766.7 967.9 L1768.7 966.6 L1770.7 965.3 L1772.7 964.1 L1774.7 962.8 L1776.7 961.6 L1778.8 960.4 L1780.8 959.2 L1782.8 958 L1784.8 956.8 L1786.8 955.7 L1788.8 954.5 L1790.8 953.4 L1792.9 952.3 L1794.9 951.2 L1796.9 950.2 L1798.9 949.1 L1800.9 948.1 L1802.9 947 L1804.9 946 L1807 945 L1809 944 L1811 943.1 L1813 942.1 L1815 941.2 L1817 940.2 L1819 939.3 L1821.1 938.4 L1823.1 937.5 L1825.1 936.6 L1827.1 935.8 L1829.1 934.9 L1831.1 934.1 L1833.1 933.2 L1835.1 932.4 L1837.2 931.6 L1839.2 930.8 L1841.2 930 L1843.2 929.2 L1845.2 928.5 L1847.2 927.7 L1849.2 927 L1851.3 926.2 L1853.3 925.5 L1855.3 924.8 L1857.3 924.1 L1859.3 923.4 L1861.3 922.7 L1863.3 922 L1865.4 921.3 L1867.4 920.6 L1869.4 920 L1871.4 919.3 L1873.4 918.7 L1875.4 918.1 L1877.4 917.4 L1879.5 916.8 L1881.5 916.2 L1883.5 915.6 L1885.5 915 L1887.5 914.4 L1889.5 913.8 L1891.5 913.3 L1893.5 912.7 L1895.6 912.1 L1897.6 911.6 L1899.6 911 L1901.6 910.5 L1903.6 909.9 L1905.6 909.4 L1907.6 908.9 L1909.7 908.4 L1911.7 907.9 L1913.7 907.4 L1915.7 906.8 L1917.7 906.4 L1919.7 905.9 L1921.7 905.4 L1923.8 904.9 L1925.8 904.4 L1927.8 903.9 L1929.8 903.5 L1931.8 903 L1933.8 902.6 L1935.8 902.1 L1937.8 901.7 L1939.9 901.2 L1941.9 900.8 L1943.9 900.3 L1945.9 899.9 L1947.9 899.5 L1949.9 899.1 L1949.9 1063.8 L1947.9 1064.3 L1945.9 1064.7 L1943.9 1065.1 L1941.9 1065.6 L1939.9 1066 L1937.8 1066.5 L1935.8 1066.9 L1933.8 1067.4 L1931.8 1067.8 L1929.8 1068.3 L1927.8 1068.8 L1925.8 1069.2 L1923.8 1069.7 L1921.7 1070.2 L1919.7 1070.7 L1917.7 1071.2 L1915.7 1071.7 L1913.7 1072.2 L1911.7 1072.7 L1909.7 1073.2 L1907.6 1073.7 L1905.6 1074.2 L1903.6 1074.7 L1901.6 1075.3 L1899.6 1075.8 L1897.6 1076.3 L1895.6 1076.9 L1893.5 1077.4 L1891.5 1078 L1889.5 1078.5 L1887.5 1079.1 L1885.5 1079.7 L1883.5 1080.3 L1881.5 1080.8 L1879.5 1081.4 L1877.4 1082 L1875.4 1082.6 L1873.4 1083.2 L1871.4 1083.8 L1869.4 1084.4 L1867.4 1085 L1865.4 1085.7 L1863.3 1086.3 L1861.3 1086.9 L1859.3 1087.6 L1857.3 1088.2 L1855.3 1088.9 L1853.3 1089.5 L1851.3 1090.2 L1849.2 1090.8 L1847.2 1091.5 L1845.2 1092.2 L1843.2 1092.9 L1841.2 1093.6 L1839.2 1094.2 L1837.2 1094.9 L1835.1 1095.6 L1833.1 1096.4 L1831.1 1097.1 L1829.1 1097.8 L1827.1 1098.5 L1825.1 1099.2 L1823.1 1100 L1821.1 1100.7 L1819 1101.5 L1817 1102.2 L1815 1103 L1813 1103.8 L1811 1104.5 L1809 1105.3 L1807 1106.1 L1804.9 1106.9 L1802.9 1107.7 L1800.9 1108.5 L1798.9 1109.3 L1796.9 1110.1 L1794.9 1110.9 L1792.9 1111.7 L1790.8 1112.5 L1788.8 1113.4 L1786.8 1114.2 L1784.8 1115 L1782.8 1115.9 L1780.8 1116.7 L1778.8 1117.6 L1776.7 1118.5 L1774.7 1119.3 L1772.7 1120.2 L1770.7 1121.1 L1768.7 1122 L1766.7 1122.8 L1764.7 1123.7 L1762.7 1124.6 L1760.6 1125.5 L1758.6 1126.4 L1756.6 1127.4 L1754.6 1128.3 L1752.6 1129.2 L1750.6 1130.1 L1748.6 1131 L1746.5 1132 L1744.5 1132.9 L1742.5 1133.9 L1740.5 1134.8 L1738.5 1135.8 L1736.5 1136.7 L1734.5 1137.7 L1732.4 1138.6 L1730.4 1139.6 L1728.4 1140.6 L1726.4 1141.5 L1724.4 1142.5 L1722.4 1143.5 L1720.4 1144.5 L1718.4 1145.5 L1716.3 1146.4 L1714.3 1147.4 L1712.3 1148.4 L1710.3 1149.4 L1708.3 1150.4 L1706.3 1151.4 L1704.3 1152.4 L1702.2 1153.4 L1700.2 1154.4 L1698.2 1155.4 L1696.2 1156.5 L1694.2 1157.5 L1692.2 1158.5 L1690.2 1159.5 L1688.1 1160.5 L1686.1 1161.5 L1684.1 1162.5 L1682.1 1163.5 L1680.1 1164.6 L1678.1 1165.6 L1676.1 1166.6 L1674 1167.6 L1672 1168.6 L1670 1169.6 L1668 1170.6 L1666 1171.6 L1664 1172.7 L1662 1173.7 L1660 1174.7 L1657.9 1175.7 L1655.9 1176.7 L1653.9 1177.7 L1651.9 1178.7 L1649.9 1179.6 L1647.9 1180.6 L1645.9 1181.6 L1643.8 1182.6 L1641.8 1183.6 L1639.8 1184.5 L1637.8 1185.5 L1635.8 1186.5 L1633.8 1187.4 L1631.8 1188.4 L1629.7 1189.3 L1627.7 1190.2 L1625.7 1191.2 L1623.7 1192.1 L1621.7 1193 L1619.7 1193.9 L1617.7 1194.8 L1615.7 1195.7 L1613.6 1196.6 L1611.6 1197.5 L1609.6 1198.3 L1607.6 1199.2 L1605.6 1200 L1603.6 1200.9 L1601.6 1201.7 L1599.5 1202.5 L1597.5 1203.3 L1595.5 1204.1 L1593.5 1204.9 L1591.5 1205.7 L1589.5 1206.5 L1587.5 1207.2 L1585.4 1207.9 L1583.4 1208.7 L1581.4 1209.4 L1579.4 1210.1 L1577.4 1210.8 L1575.4 1211.5 L1573.4 1212.1 L1571.3 1212.8 L1569.3 1213.4 L1567.3 1214 L1565.3 1214.6 L1563.3 1215.2 L1561.3 1215.8 L1559.3 1216.3 L1557.3 1216.9 L1555.2 1217.4 L1553.2 1217.9 L1551.2 1218.4 L1549.2 1218.9 L1547.2 1219.4 L1545.2 1219.8 L1543.2 1220.3 L1541.1 1220.7 L1539.1 1221.1 L1537.1 1221.5 L1535.1 1221.8 L1533.1 1222.2 L1531.1 1222.5 L1529.1 1222.9 L1527 1223.2 L1525 1223.5 L1523 1223.7 L1521 1224 L1519 1224.2 L1517 1224.5 L1515 1224.7 L1513 1224.9 L1510.9 1225.1 L1508.9 1225.3 L1506.9 1225.4 L1504.9 1225.6 L1502.9 1225.7 L1500.9 1225.8 L1498.9 1225.9 L1496.8 1226Z" fill="#0072B2" fill-opacity="0.2"/>
<path class="ml" stroke="#0072B2" d="M1496.8 1226.3 L1498.9 1226.1 L1500.9 1226 L1502.9 1225.8 L1504.9 1225.5 L1506.9 1225.3 L1508.9 1225 L1510.9 1224.6 L1513 1224.3 L1515 1223.9 L1517 1223.4 L1519 1223 L1521 1222.5 L1523 1221.9 L1525 1221.3 L1527 1220.7 L1529.1 1220.1 L1531.1 1219.4 L1533.1 1218.6 L1535.1 1217.9 L1537.1 1217.1 L1539.1 1216.3 L1541.1 1215.4 L1543.2 1214.5 L1545.2 1213.6 L1547.2 1212.6 L1549.2 1211.6 L1551.2 1210.6 L1553.2 1209.5 L1555.2 1208.4 L1557.3 1207.3 L1559.3 1206.2 L1561.3 1205 L1563.3 1203.8 L1565.3 1202.6 L1567.3 1201.3 L1569.3 1200.1 L1571.3 1198.8 L1573.4 1197.4 L1575.4 1196.1 L1577.4 1194.7 L1579.4 1193.4 L1581.4 1192 L1583.4 1190.5 L1585.4 1189.1 L1587.5 1187.7 L1589.5 1186.2 L1591.5 1184.7 L1593.5 1183.2 L1595.5 1181.7 L1597.5 1180.2 L1599.5 1178.6 L1601.6 1177.1 L1603.6 1175.5 L1605.6 1173.9 L1607.6 1172.3 L1609.6 1170.7 L1611.6 1169.1 L1613.6 1167.5 L1615.7 1165.9 L1617.7 1164.3 L1619.7 1162.6 L1621.7 1161 L1623.7 1159.4 L1625.7 1157.7 L1627.7 1156.1 L1629.7 1154.4 L1631.8 1152.8 L1633.8 1151.1 L1635.8 1149.4 L1637.8 1147.8 L1639.8 1146.1 L1641.8 1144.4 L1643.8 1142.8 L1645.9 1141.1 L1647.9 1139.5 L1649.9 1137.8 L1651.9 1136.1 L1653.9 1134.5 L1655.9 1132.8 L1657.9 1131.2 L1660 1129.5 L1662 1127.9 L1664 1126.2 L1666 1124.6 L1668 1123 L1670 1121.3 L1672 1119.7 L1674 1118.1 L1676.1 1116.5 L1678.1 1114.9 L1680.1 1113.3 L1682.1 1111.7 L1684.1 1110.1 L1686.1 1108.5 L1688.1 1106.9 L1690.2 1105.4 L1692.2 1103.8 L1694.2 1102.3 L1696.2 1100.7 L1698.2 1099.2 L1700.2 1097.7 L1702.2 1096.1 L1704.3 1094.6 L1706.3 1093.1 L1708.3 1091.6 L1710.3 1090.2 L1712.3 1088.7 L1714.3 1087.2 L1716.3 1085.8 L1718.4 1084.3 L1720.4 1082.9 L1722.4 1081.5 L1724.4 1080 L1726.4 1078.6 L1728.4 1077.2 L1730.4 1075.8 L1732.4 1074.5 L1734.5 1073.1 L1736.5 1071.7 L1738.5 1070.4 L1740.5 1069.1 L1742.5 1067.7 L1744.5 1066.4 L1746.5 1065.1 L1748.6 1063.8 L1750.6 1062.5 L1752.6 1061.2 L1754.6 1060 L1756.6 1058.7 L1758.6 1057.5 L1760.6 1056.2 L1762.7 1055 L1764.7 1053.8 L1766.7 1052.6 L1768.7 1051.4 L1770.7 1050.2 L1772.7 1049.1 L1774.7 1047.9 L1776.7 1046.7 L1778.8 1045.6 L1780.8 1044.5 L1782.8 1043.4 L1784.8 1042.2 L1786.8 1041.1 L1788.8 1040.1 L1790.8 1039 L1792.9 1037.9 L1794.9 1036.9 L1796.9 1035.8 L1798.9 1034.8 L1800.9 1033.7 L1802.9 1032.7 L1804.9 1031.7 L1807 1030.7 L1809 1029.7 L1811 1028.7 L1813 1027.8 L1815 1026.8 L1817 1025.9 L1819 1024.9 L1821.1 1024 L1823.1 1023.1 L1825.1 1022.2 L1827.1 1021.2 L1829.1 1020.4 L1831.1 1019.5 L1833.1 1018.6 L1835.1 1017.7 L1837.2 1016.9 L1839.2 1016 L1841.2 1015.2 L1843.2 1014.4 L1845.2 1013.5 L1847.2 1012.7 L1849.2 1011.9 L1851.3 1011.1 L1853.3 1010.3 L1855.3 1009.6 L1857.3 1008.8 L1859.3 1008 L1861.3 1007.3 L1863.3 1006.5 L1865.4 1005.8 L1867.4 1005.1 L1869.4 1004.3 L1871.4 1003.6 L1873.4 1002.9 L1875.4 1002.2 L1877.4 1001.5 L1879.5 1000.8 L1881.5 1000.2 L1883.5 999.5 L1885.5 998.8 L1887.5 998.2 L1889.5 997.5 L1891.5 996.9 L1893.5 996.3 L1895.6 995.6 L1897.6 995 L1899.6 994.4 L1901.6 993.8 L1903.6 993.2 L1905.6 992.6 L1907.6 992.1 L1909.7 991.5 L1911.7 990.9 L1913.7 990.3 L1915.7 989.8 L1917.7 989.2 L1919.7 988.7 L1921.7 988.2 L1923.8 987.6 L1925.8 987.1 L1927.8 986.6 L1929.8 986.1 L1931.8 985.6 L1933.8 985.1 L1935.8 984.6 L1937.8 984.1 L1939.9 983.6 L1941.9 983.1 L1943.9 982.7 L1945.9 982.2 L1947.9 981.7 L1949.9 981.3"/>
<path class="axl" d="M1466.3 718.7 V1250.8 H2026.3"/>
<path class="tkl" d="M1454.9 1226.6 H1465.4 M1454.9 1105.5 H1465.4 M1454.9 984.5 H1465.4 M1454.9 863.4 H1465.4 M1454.9 742.4 H1465.4 M1491.8 1251.7 V1261.7 M1619 1251.7 V1261.7 M1746.3 1251.7 V1261.7 M1873.6 1251.7 V1261.7 M2000.8 1251.7 V1261.7"/>
<text class="tk" text-anchor="end" x="1446" y="1233.5">0</text><text class="tk" text-anchor="end" x="1446" y="1112.5">100</text><text class="tk" text-anchor="end" x="1446" y="991.4">200</text><text class="tk" text-anchor="end" x="1446" y="870.3">300</text><text class="tk" text-anchor="end" x="1446" y="749.3">400</text>
<text class="tk" text-anchor="middle" x="1491.8" y="1285.5">0</text><text class="tk" text-anchor="middle" x="1619" y="1285.5">25</text><text class="tk" text-anchor="middle" x="1746.3" y="1285.5">50</text><text class="tk" text-anchor="middle" x="1873.6" y="1285.5">75</text><text class="tk" text-anchor="middle" x="2000.8" y="1285.5">100</text>
<text class="ti" x="1467" y="687.1">Picea</text>
<text class="an" x="1494.5" y="750">Countries: 15</text><text class="an" x="1494.5" y="776.6">Sites: 52</text><text class="an" x="1494.5" y="802.9">Observations: 291</text><text class="an" x="1494.5" y="827.9">Species: 11</text>
</g>
<g id="panel-pinus">
<g class="pt"><circle cx="222.8" cy="1833.3" r="4.6"/><circle cx="304.3" cy="1796" r="4.6"/><circle cx="212.9" cy="1878.7" r="4.6"/><circle cx="211.1" cy="1889.4" r="4.6"/><circle cx="226.7" cy="1808.9" r="4.6"/><circle cx="224.6" cy="1879.8" r="4.6"/><circle cx="183" cy="1876.3" r="4.6"/><circle cx="204.7" cy="1824.3" r="4.6"/><circle cx="297.5" cy="1765" r="4.6"/><circle cx="213.9" cy="1882.4" r="4.6"/><circle cx="265" cy="1833.3" r="4.6"/><circle cx="179" cy="1886.4" r="4.6"/><circle cx="193.8" cy="1880.8" r="4.6"/><circle cx="235.9" cy="1843.1" r="4.6"/><circle cx="279.3" cy="1861.6" r="4.6"/><circle cx="220.6" cy="1876.6" r="4.6"/><circle cx="238.6" cy="1862.4" r="4.6"/><circle cx="271.8" cy="1815.4" r="4.6"/><circle cx="263.7" cy="1779.3" r="4.6"/><circle cx="211.1" cy="1858" r="4.6"/><circle cx="239.6" cy="1840.2" r="4.6"/><circle cx="217.6" cy="1812.2" r="4.6"/><circle cx="238.7" cy="1845" r="4.6"/><circle cx="251.4" cy="1873.1" r="4.6"/><circle cx="222.1" cy="1853.2" r="4.6"/><circle cx="219.3" cy="1846.1" r="4.6"/><circle cx="240.6" cy="1789.4" r="4.6"/><circle cx="301.5" cy="1851.7" r="4.6"/><circle cx="256.8" cy="1836.6" r="4.6"/><circle cx="219.9" cy="1889.7" r="4.6"/><circle cx="195.3" cy="1880.9" r="4.6"/><circle cx="261.9" cy="1771.9" r="4.6"/><circle cx="245.6" cy="1858.9" r="4.6"/><circle cx="220.4" cy="1885" r="4.6"/><circle cx="257.1" cy="1861.7" r="4.6"/><circle cx="247.5" cy="1863" r="4.6"/><circle cx="183.7" cy="1885.7" r="4.6"/><circle cx="263.4" cy="1867.8" r="4.6"/><circle cx="199.7" cy="1866" r="4.6"/><circle cx="269.4" cy="1866.8" r="4.6"/><circle cx="271.6" cy="1789" r="4.6"/><circle cx="291.3" cy="1850" r="4.6"/><circle cx="242.3" cy="1881.8" r="4.6"/><circle cx="191.8" cy="1888.7" r="4.6"/><circle cx="237.5" cy="1880.5" r="4.6"/><circle cx="207.6" cy="1859.6" r="4.6"/><circle cx="206" cy="1860.4" r="4.6"/><circle cx="200.6" cy="1842.3" r="4.6"/><circle cx="260.9" cy="1762.5" r="4.6"/><circle cx="176.3" cy="1890" r="4.6"/><circle cx="200.7" cy="1877.5" r="4.6"/><circle cx="266.4" cy="1796" r="4.6"/><circle cx="222.9" cy="1797.6" r="4.6"/><circle cx="213.6" cy="1798.8" r="4.6"/><circle cx="282" cy="1818.6" r="4.6"/><circle cx="257.6" cy="1843.6" r="4.6"/><circle cx="191.1" cy="1882.2" r="4.6"/><circle cx="267" cy="1813.8" r="4.6"/><circle cx="220.6" cy="1838.9" r="4.6"/><circle cx="275.2" cy="1869.6" r="4.6"/><circle cx="226.5" cy="1876.5" r="4.6"/><circle cx="242.6" cy="1886.4" r="4.6"/><circle cx="247" cy="1793.3" r="4.6"/><circle cx="230.7" cy="1864.5" r="4.6"/><circle cx="299" cy="1793.6" r="4.6"/><circle cx="249.8" cy="1831.8" r="4.6"/><circle cx="247" cy="1831.8" r="4.6"/><circle cx="280.1" cy="1769.5" r="4.6"/><circle cx="254.8" cy="1886.2" r="4.6"/><circle cx="252.7" cy="1890.1" r="4.6"/><circle cx="245.3" cy="1870.7" r="4.6"/><circle cx="273.3" cy="1883.9" r="4.6"/><circle cx="259.4" cy="1831.7" r="4.6"/><circle cx="253.7" cy="1871.5" r="4.6"/><circle cx="282.7" cy="1854.6" r="4.6"/><circle cx="240" cy="1832.7" r="4.6"/><circle cx="275.7" cy="1790.1" r="4.6"/><circle cx="247.8" cy="1866.8" r="4.6"/><circle cx="235.9" cy="1829.4" r="4.6"/><circle cx="201.3" cy="1873.8" r="4.6"/><circle cx="249.1" cy="1869.5" r="4.6"/><circle cx="288.4" cy="1785.3" r="4.6"/><circle cx="204.7" cy="1855" r="4.6"/><circle cx="236.2" cy="1858.8" r="4.6"/><circle cx="248.5" cy="1885.8" r="4.6"/><circle cx="206.8" cy="1831.8" r="4.6"/><circle cx="261.1" cy="1853.7" r="4.6"/><circle cx="258.2" cy="1876.8" r="4.6"/><circle cx="290.3" cy="1887.7" r="4.6"/><circle cx="222.3" cy="1808.4" r="4.6"/><circle cx="296.8" cy="1846.9" r="4.6"/><circle cx="210.8" cy="1889.2" r="4.6"/><circle cx="247.9" cy="1784.9" r="4.6"/><circle cx="246.1" cy="1887.2" r="4.6"/><circle cx="297.4" cy="1840.8" r="4.6"/><circle cx="245.3" cy="1846.2" r="4.6"/><circle cx="216.7" cy="1857.5" r="4.6"/><circle cx="264.6" cy="1888.6" r="4.6"/><circle cx="192.3" cy="1887.6" r="4.6"/><circle cx="266.9" cy="1873" r="4.6"/><circle cx="280.1" cy="1877.6" r="4.6"/><circle cx="202.3" cy="1885.2" r="4.6"/><circle cx="284.8" cy="1758.3" r="4.6"/><circle cx="233.3" cy="1835.6" r="4.6"/><circle cx="258.1" cy="1779.9" r="4.6"/><circle cx="282.9" cy="1860.5" r="4.6"/><circle cx="207.9" cy="1858.9" r="4.6"/><circle cx="194.1" cy="1888" r="4.6"/><circle cx="264.4" cy="1826.4" r="4.6"/><circle cx="218.3" cy="1863.5" r="4.6"/><circle cx="206.4" cy="1818.7" r="4.6"/><circle cx="261" cy="1884.2" r="4.6"/><circle cx="269.7" cy="1783.4" r="4.6"/><circle cx="228.7" cy="1831" r="4.6"/><circle cx="252.4" cy="1885.6" r="4.6"/><circle cx="216.2" cy="1865.1" r="4.6"/><circle cx="251.6" cy="1763.7" r="4.6"/><circle cx="216.6" cy="1882.9" r="4.6"/><circle cx="267.7" cy="1874" r="4.6"/><circle cx="228.7" cy="1877.9" r="4.6"/><circle cx="235.6" cy="1804" r="4.6"/><circle cx="217.8" cy="1834.2" r="4.6"/><circle cx="265.9" cy="1807.2" r="4.6"/><circle cx="196.9" cy="1872.6" r="4.6"/><circle cx="297.7" cy="1800.4" r="4.6"/><circle cx="303.6" cy="1867.1" r="4.6"/><circle cx="290.2" cy="1784.9" r="4.6"/><circle cx="254.5" cy="1888.6" r="4.6"/><circle cx="282.1" cy="1878.6" r="4.6"/><circle cx="212.3" cy="1808.1" r="4.6"/><circle cx="304.3" cy="1828.8" r="4.6"/><circle cx="203" cy="1852.2" r="4.6"/><circle cx="252" cy="1763.8" r="4.6"/><circle cx="273" cy="1768.9" r="4.6"/><circle cx="254.1" cy="1796" r="4.6"/><circle cx="216.3" cy="1829.3" r="4.6"/><circle cx="229.6" cy="1848.2" r="4.6"/><circle cx="275.4" cy="1841.4" r="4.6"/><circle cx="212" cy="1859.2" r="4.6"/><circle cx="214.5" cy="1889" r="4.6"/><circle cx="225.5" cy="1798" r="4.6"/><circle cx="250.3" cy="1863.1" r="4.6"/><circle cx="245.6" cy="1840.2" r="4.6"/><circle cx="295.9" cy="1824" r="4.6"/><circle cx="264.1" cy="1878.9" r="4.6"/><circle cx="231.1" cy="1840.8" r="4.6"/><circle cx="202.1" cy="1851.4" r="4.6"/><circle cx="215.2" cy="1862.5" r="4.6"/><circle cx="271.9" cy="1778.4" r="4.6"/><circle cx="250.9" cy="1875.5" r="4.6"/><circle cx="192.9" cy="1889.4" r="4.6"/><circle cx="279.6" cy="1865.5" r="4.6"/><circle cx="269.2" cy="1843.2" r="4.6"/><circle cx="253.5" cy="1764" r="4.6"/><circle cx="302.9" cy="1832.7" r="4.6"/><circle cx="250" cy="1849.9" r="4.6"/><circle cx="272.3" cy="1842.3" r="4.6"/><circle cx="250.5" cy="1790.1" r="4.6"/><circle cx="220.5" cy="1862.4" r="4.6"/><circle cx="263.8" cy="1821.5" r="4.6"/><circle cx="304.8" cy="1850.6" r="4.6"/><circle cx="268.6" cy="1879.1" r="4.6"/><circle cx="287" cy="1827.6" r="4.6"/><circle cx="232.6" cy="1885.2" r="4.6"/><circle cx="185.9" cy="1883.4" r="4.6"/><circle cx="260.4" cy="1878.8" r="4.6"/><circle cx="213.7" cy="1868.5" r="4.6"/><circle cx="201.7" cy="1834.5" r="4.6"/><circle cx="231.8" cy="1873.8" r="4.6"/><circle cx="245.9" cy="1785.4" r="4.6"/><circle cx="236.9" cy="1824" r="4.6"/><circle cx="301.8" cy="1821.2" r="4.6"/><circle cx="239" cy="1873.3" r="4.6"/><circle cx="265.3" cy="1841.2" r="4.6"/><circle cx="238.4" cy="1876.4" r="4.6"/><circle cx="220.2" cy="1850.1" r="4.6"/><circle cx="272.1" cy="1857.9" r="4.6"/><circle cx="221.2" cy="1792.4" r="4.6"/><circle cx="240.9" cy="1853.5" r="4.6"/><circle cx="207" cy="1845.7" r="4.6"/><circle cx="272" cy="1877.7" r="4.6"/><circle cx="209.5" cy="1824.8" r="4.6"/><circle cx="236.7" cy="1852.6" r="4.6"/><circle cx="283.6" cy="1867.4" r="4.6"/><circle cx="216.7" cy="1888.8" r="4.6"/><circle cx="289" cy="1876.6" r="4.6"/><circle cx="222.3" cy="1888.2" r="4.6"/><circle cx="220.5" cy="1890.1" r="4.6"/><circle cx="223" cy="1884.8" r="4.6"/><circle cx="237.8" cy="1837.1" r="4.6"/><circle cx="250.3" cy="1778.3" r="4.6"/><circle cx="283" cy="1875.6" r="4.6"/><circle cx="237.2" cy="1837.1" r="4.6"/><circle cx="200" cy="1855" r="4.6"/><circle cx="242.8" cy="1872.2" r="4.6"/><circle cx="223.9" cy="1840.5" r="4.6"/><circle cx="197.6" cy="1873.1" r="4.6"/><circle cx="305.4" cy="1879.4" r="4.6"/><circle cx="234.4" cy="1858.7" r="4.6"/><circle cx="181" cy="1888.5" r="4.6"/><circle cx="221" cy="1818.8" r="4.6"/><circle cx="297" cy="1876.3" r="4.6"/><circle cx="196.2" cy="1875" r="4.6"/><circle cx="242" cy="1775.6" r="4.6"/><circle cx="193.7" cy="1864" r="4.6"/><circle cx="186" cy="1875" r="4.6"/><circle cx="206.6" cy="1827.2" r="4.6"/><circle cx="250.9" cy="1833.8" r="4.6"/><circle cx="280.5" cy="1783.5" r="4.6"/><circle cx="268.3" cy="1876" r="4.6"/><circle cx="273.1" cy="1781.4" r="4.6"/><circle cx="206.1" cy="1845.8" r="4.6"/><circle cx="262.7" cy="1805.4" r="4.6"/><circle cx="248.5" cy="1806.2" r="4.6"/><circle cx="263" cy="1815.7" r="4.6"/><circle cx="248" cy="1865.3" r="4.6"/><circle cx="216.4" cy="1844.4" r="4.6"/><circle cx="308.2" cy="1858.4" r="4.6"/><circle cx="273.3" cy="1881.9" r="4.6"/><circle cx="196.7" cy="1841.8" r="4.6"/><circle cx="238.6" cy="1799.7" r="4.6"/><circle cx="183.3" cy="1885.2" r="4.6"/><circle cx="241.2" cy="1780.7" r="4.6"/><circle cx="258.5" cy="1814.1" r="4.6"/><circle cx="244.9" cy="1850.5" r="4.6"/><circle cx="220.5" cy="1861.6" r="4.6"/><circle cx="243.7" cy="1880.1" r="4.6"/><circle cx="272.8" cy="1855.1" r="4.6"/><circle cx="226.4" cy="1853.4" r="4.6"/><circle cx="227.8" cy="1838.5" r="4.6"/><circle cx="196.2" cy="1855.4" r="4.6"/><circle cx="295.6" cy="1769.5" r="4.6"/><circle cx="226.2" cy="1851.4" r="4.6"/><circle cx="214.6" cy="1874" r="4.6"/><circle cx="225.1" cy="1851" r="4.6"/><circle cx="261.9" cy="1794.1" r="4.6"/><circle cx="272.4" cy="1886.3" r="4.6"/><circle cx="236.6" cy="1838" r="4.6"/><circle cx="241" cy="1873.3" r="4.6"/><circle cx="220.8" cy="1860.5" r="4.6"/><circle cx="245.2" cy="1876.2" r="4.6"/><circle cx="186.9" cy="1882.5" r="4.6"/><circle cx="261.4" cy="1873.6" r="4.6"/><circle cx="256.6" cy="1809.1" r="4.6"/><circle cx="201.8" cy="1833.7" r="4.6"/><circle cx="197.6" cy="1853.2" r="4.6"/><circle cx="200.7" cy="1851.6" r="4.6"/><circle cx="253.2" cy="1845.2" r="4.6"/><circle cx="306.8" cy="1872.9" r="4.6"/><circle cx="227.4" cy="1875" r="4.6"/><circle cx="306" cy="1883.2" r="4.6"/><circle cx="297.8" cy="1776.9" r="4.6"/><circle cx="242.2" cy="1808.4" r="4.6"/><circle cx="258.3" cy="1783.7" r="4.6"/><circle cx="205.5" cy="1883.7" r="4.6"/><circle cx="232.3" cy="1811.9" r="4.6"/><circle cx="213.8" cy="1883.8" r="4.6"/><circle cx="190" cy="1864.5" r="4.6"/><circle cx="244.2" cy="1767.7" r="4.6"/><circle cx="291.2" cy="1791.3" r="4.6"/><circle cx="212.2" cy="1805.8" r="4.6"/><circle cx="210" cy="1833.4" r="4.6"/><circle cx="252.8" cy="1809.3" r="4.6"/><circle cx="203.6" cy="1837.1" r="4.6"/><circle cx="203" cy="1888.4" r="4.6"/><circle cx="236.2" cy="1832.7" r="4.6"/><circle cx="227.4" cy="1830.5" r="4.6"/><circle cx="243.3" cy="1849.1" r="4.6"/><circle cx="210.8" cy="1813.1" r="4.6"/><circle cx="250.5" cy="1841.6" r="4.6"/><circle cx="217.9" cy="1807" r="4.6"/><circle cx="210.6" cy="1858.2" r="4.6"/><circle cx="251.7" cy="1783.9" r="4.6"/><circle cx="244.2" cy="1815.8" r="4.6"/><circle cx="252.5" cy="1831" r="4.6"/><circle cx="280.5" cy="1778.2" r="4.6"/><circle cx="271.2" cy="1771.9" r="4.6"/><circle cx="220.8" cy="1815.6" r="4.6"/><circle cx="205.7" cy="1830.4" r="4.6"/><circle cx="227.4" cy="1889.3" r="4.6"/><circle cx="233.2" cy="1886.6" r="4.6"/><circle cx="216.1" cy="1856.6" r="4.6"/><circle cx="225.2" cy="1822.2" r="4.6"/><circle cx="218.6" cy="1838.1" r="4.6"/><circle cx="292.7" cy="1888.5" r="4.6"/><circle cx="308.3" cy="1825.3" r="4.6"/><circle cx="294.2" cy="1876" r="4.6"/><circle cx="260" cy="1786" r="4.6"/><circle cx="263.8" cy="1859.8" r="4.6"/><circle cx="239.9" cy="1832.8" r="4.6"/><circle cx="201.4" cy="1841.5" r="4.6"/><circle cx="243.8" cy="1838.5" r="4.6"/><circle cx="237.3" cy="1825.6" r="4.6"/><circle cx="269.7" cy="1777.4" r="4.6"/><circle cx="250.7" cy="1886.8" r="4.6"/><circle cx="218.4" cy="1889.4" r="4.6"/><circle cx="266.2" cy="1853" r="4.6"/><circle cx="198.6" cy="1862.6" r="4.6"/><circle cx="287.2" cy="1851.5" r="4.6"/><circle cx="216.3" cy="1828.4" r="4.6"/><circle cx="261.9" cy="1890" r="4.6"/><circle cx="287.3" cy="1753.8" r="4.6"/><circle cx="186.3" cy="1870.6" r="4.6"/><circle cx="240.2" cy="1863.1" r="4.6"/><circle cx="267.8" cy="1770.8" r="4.6"/><circle cx="293.5" cy="1859.3" r="4.6"/><circle cx="186.8" cy="1885.9" r="4.6"/><circle cx="269.9" cy="1865.1" r="4.6"/><circle cx="265.9" cy="1775.6" r="4.6"/><circle cx="273.4" cy="1861.6" r="4.6"/><circle cx="201" cy="1876" r="4.6"/><circle cx="194.8" cy="1868.6" r="4.6"/><circle cx="246" cy="1832.2" r="4.6"/><circle cx="287.7" cy="1799.2" r="4.6"/><circle cx="250.2" cy="1800.5" r="4.6"/><circle cx="255.8" cy="1775.8" r="4.6"/><circle cx="256.9" cy="1855" r="4.6"/><circle cx="195.5" cy="1871" r="4.6"/><circle cx="254.9" cy="1866.3" r="4.6"/><circle cx="242.6" cy="1835.4" r="4.6"/><circle cx="290" cy="1828.1" r="4.6"/><circle cx="270.5" cy="1864.4" r="4.6"/><circle cx="235.1" cy="1890.1" r="4.6"/><circle cx="305.4" cy="1887.4" r="4.6"/><circle cx="252.6" cy="1763.4" r="4.6"/><circle cx="197.5" cy="1832" r="4.6"/><circle cx="226.6" cy="1847.2" r="4.6"/><circle cx="239.1" cy="1866.8" r="4.6"/><circle cx="276.4" cy="1855.9" r="4.6"/><circle cx="238.6" cy="1816.6" r="4.6"/><circle cx="243.5" cy="1797.2" r="4.6"/><circle cx="246.9" cy="1845.4" r="4.6"/><circle cx="262.1" cy="1860" r="4.6"/><circle cx="242.1" cy="1858.3" r="4.6"/><circle cx="204.7" cy="1890" r="4.6"/><circle cx="238.4" cy="1883.7" r="4.6"/><circle cx="263.6" cy="1778.5" r="4.6"/><circle cx="287.5" cy="1888.8" r="4.6"/><circle cx="257.1" cy="1868.4" r="4.6"/><circle cx="204.4" cy="1837.2" r="4.6"/><circle cx="253.9" cy="1875.1" r="4.6"/><circle cx="285.3" cy="1836.3" r="4.6"/><circle cx="199.4" cy="1886.9" r="4.6"/><circle cx="194.7" cy="1886.9" r="4.6"/><circle cx="263.2" cy="1850.2" r="4.6"/><circle cx="236.3" cy="1839.8" r="4.6"/><circle cx="244.3" cy="1794.9" r="4.6"/><circle cx="221.9" cy="1850.2" r="4.6"/><circle cx="297.9" cy="1857.5" r="4.6"/><circle cx="227.2" cy="1876" r="4.6"/><circle cx="274.4" cy="1835.6" r="4.6"/><circle cx="235.2" cy="1882.4" r="4.6"/><circle cx="288.5" cy="1886.9" r="4.6"/><circle cx="224.2" cy="1806.2" r="4.6"/><circle cx="237.5" cy="1876.8" r="4.6"/><circle cx="222.7" cy="1798.7" r="4.6"/><circle cx="292.5" cy="1877.5" r="4.6"/><circle cx="297.1" cy="1785.8" r="4.6"/><circle cx="220.1" cy="1843.6" r="4.6"/><circle cx="274.5" cy="1786" r="4.6"/><circle cx="267.1" cy="1800.2" r="4.6"/><circle cx="260.9" cy="1875.7" r="4.6"/><circle cx="240.8" cy="1855.5" r="4.6"/><circle cx="214.5" cy="1798" r="4.6"/><circle cx="302.3" cy="1867.1" r="4.6"/><circle cx="244.9" cy="1865.5" r="4.6"/><circle cx="275.9" cy="1823.7" r="4.6"/><circle cx="215.5" cy="1814.5" r="4.6"/><circle cx="280.2" cy="1848.3" r="4.6"/><circle cx="225.4" cy="1889.7" r="4.6"/><circle cx="212.8" cy="1830.8" r="4.6"/><circle cx="246.4" cy="1808.6" r="4.6"/><circle cx="178.6" cy="1886.6" r="4.6"/><circle cx="202.4" cy="1823.4" r="4.6"/><circle cx="256.2" cy="1792.2" r="4.6"/><circle cx="259.3" cy="1834.3" r="4.6"/><circle cx="297.2" cy="1873.2" r="4.6"/><circle cx="301" cy="1770.4" r="4.6"/><circle cx="254.4" cy="1856.6" r="4.6"/><circle cx="272" cy="1798.7" r="4.6"/><circle cx="280.2" cy="1838.5" r="4.6"/><circle cx="272.6" cy="1872.6" r="4.6"/><circle cx="280" cy="1856.7" r="4.6"/><circle cx="297.3" cy="1840.3" r="4.6"/><circle cx="265.4" cy="1801.7" r="4.6"/><circle cx="263.3" cy="1878.1" r="4.6"/><circle cx="280.5" cy="1889.7" r="4.6"/><circle cx="262.9" cy="1835.6" r="4.6"/><circle cx="224" cy="1875.3" r="4.6"/><circle cx="228.9" cy="1880.3" r="4.6"/><circle cx="240.8" cy="1781.1" r="4.6"/><circle cx="227.7" cy="1841.8" r="4.6"/><circle cx="250.6" cy="1888.5" r="4.6"/><circle cx="268.7" cy="1880.7" r="4.6"/><circle cx="276.6" cy="1877.1" r="4.6"/><circle cx="215.5" cy="1876.7" r="4.6"/><circle cx="225" cy="1884" r="4.6"/><circle cx="176.8" cy="1887.6" r="4.6"/><circle cx="199.2" cy="1823.3" r="4.6"/><circle cx="266.8" cy="1873.1" r="4.6"/><circle cx="252.9" cy="1865.8" r="4.6"/><circle cx="230.9" cy="1792.5" r="4.6"/><circle cx="304.1" cy="1848.5" r="4.6"/><circle cx="259.1" cy="1775.5" r="4.6"/><circle cx="287.4" cy="1756.8" r="4.6"/><circle cx="284.3" cy="1841.2" r="4.6"/><circle cx="270.9" cy="1865.2" r="4.6"/><circle cx="197.6" cy="1871.5" r="4.6"/><circle cx="186.8" cy="1888.3" r="4.6"/><circle cx="253" cy="1776.2" r="4.6"/><circle cx="303.8" cy="1818.4" r="4.6"/><circle cx="283.1" cy="1884.6" r="4.6"/><circle cx="272.2" cy="1883" r="4.6"/><circle cx="218.4" cy="1869.3" r="4.6"/><circle cx="207.5" cy="1866.1" r="4.6"/><circle cx="261.3" cy="1848.7" r="4.6"/><circle cx="217.7" cy="1876.8" r="4.6"/><circle cx="256.5" cy="1876.7" r="4.6"/><circle cx="243.6" cy="1814.3" r="4.6"/><circle cx="212.8" cy="1868.1" r="4.6"/><circle cx="246.4" cy="1844" r="4.6"/><circle cx="300" cy="1849.1" r="4.6"/><circle cx="271.3" cy="1793.2" r="4.6"/><circle cx="223.8" cy="1812.1" r="4.6"/><circle cx="225" cy="1840.2" r="4.6"/><circle cx="242.5" cy="1883.6" r="4.6"/><circle cx="258.4" cy="1805.9" r="4.6"/><circle cx="204.2" cy="1861.2" r="4.6"/><circle cx="204.1" cy="1870.1" r="4.6"/><circle cx="216.7" cy="1885.8" r="4.6"/><circle cx="292" cy="1816.3" r="4.6"/><circle cx="241.8" cy="1860.8" r="4.6"/><circle cx="301.1" cy="1863.9" r="4.6"/><circle cx="241.5" cy="1779" r="4.6"/><circle cx="306.5" cy="1839.5" r="4.6"/><circle cx="202.1" cy="1883.7" r="4.6"/><circle cx="247.3" cy="1841.3" r="4.6"/><circle cx="249.2" cy="1797.2" r="4.6"/><circle cx="299.5" cy="1870.9" r="4.6"/><circle cx="252.1" cy="1780.8" r="4.6"/><circle cx="229.4" cy="1886.2" r="4.6"/><circle cx="236.9" cy="1805.3" r="4.6"/><circle cx="226.4" cy="1843.8" r="4.6"/><circle cx="240.5" cy="1833.9" r="4.6"/><circle cx="204.9" cy="1867.5" r="4.6"/><circle cx="252.4" cy="1872.8" r="4.6"/><circle cx="268.9" cy="1877.5" r="4.6"/><circle cx="226" cy="1802.5" r="4.6"/><circle cx="288.4" cy="1875.5" r="4.6"/><circle cx="248.1" cy="1880.4" r="4.6"/><circle cx="208.4" cy="1834" r="4.6"/><circle cx="254" cy="1783.5" r="4.6"/><circle cx="239" cy="1864.1" r="4.6"/><circle cx="245.6" cy="1806.6" r="4.6"/><circle cx="264.9" cy="1889.5" r="4.6"/><circle cx="261.9" cy="1861.8" r="4.6"/><circle cx="211.7" cy="1821.8" r="4.6"/><circle cx="263.7" cy="1877" r="4.6"/><circle cx="225.2" cy="1797.2" r="4.6"/><circle cx="236.4" cy="1823.4" r="4.6"/><circle cx="196.5" cy="1841.8" r="4.6"/><circle cx="284.3" cy="1869.9" r="4.6"/><circle cx="262.6" cy="1762" r="4.6"/><circle cx="285.7" cy="1837.3" r="4.6"/><circle cx="244.9" cy="1846.9" r="4.6"/><circle cx="193" cy="1856.9" r="4.6"/><circle cx="241.9" cy="1880.6" r="4.6"/><circle cx="188.1" cy="1862.6" r="4.6"/><circle cx="192.5" cy="1863.2" r="4.6"/><circle cx="227.6" cy="1792.2" r="4.6"/><circle cx="276.7" cy="1873.9" r="4.6"/><circle cx="219.2" cy="1840.4" r="4.6"/><circle cx="232.4" cy="1888.8" r="4.6"/><circle cx="262.5" cy="1768.5" r="4.6"/><circle cx="221.4" cy="1809.6" r="4.6"/><circle cx="194.4" cy="1887.6" r="4.6"/><circle cx="276.6" cy="1781.1" r="4.6"/><circle cx="214.2" cy="1884.5" r="4.6"/><circle cx="220.1" cy="1861.7" r="4.6"/><circle cx="256.1" cy="1860" r="4.6"/><circle cx="216.1" cy="1852.2" r="4.6"/><circle cx="284.3" cy="1860.3" r="4.6"/><circle cx="257.9" cy="1816.5" r="4.6"/><circle cx="258.4" cy="1851.1" r="4.6"/><circle cx="227" cy="1872" r="4.6"/><circle cx="303" cy="1818.7" r="4.6"/><circle cx="287.2" cy="1879.1" r="4.6"/><circle cx="199" cy="1856.5" r="4.6"/><circle cx="258.5" cy="1879" r="4.6"/><circle cx="210.6" cy="1865.9" r="4.6"/><circle cx="217.2" cy="1828.8" r="4.6"/><circle cx="209" cy="1820.7" r="4.6"/><circle cx="253" cy="1856.9" r="4.6"/><circle cx="215.7" cy="1817.2" r="4.6"/><circle cx="227.3" cy="1864.8" r="4.6"/><circle cx="247.4" cy="1842.8" r="4.6"/><circle cx="183.8" cy="1878.4" r="4.6"/><circle cx="204.7" cy="1879" r="4.6"/><circle cx="197.3" cy="1883.5" r="4.6"/><circle cx="272.1" cy="1859.8" r="4.6"/><circle cx="235.2" cy="1881.9" r="4.6"/><circle cx="231.4" cy="1796.6" r="4.6"/><circle cx="208.4" cy="1876" r="4.6"/><circle cx="272.1" cy="1879.8" r="4.6"/><circle cx="219.5" cy="1878" r="4.6"/><circle cx="306" cy="1802.1" r="4.6"/><circle cx="294.6" cy="1862.3" r="4.6"/><circle cx="259.5" cy="1841.7" r="4.6"/><circle cx="218.8" cy="1831.4" r="4.6"/><circle cx="202.8" cy="1882.6" r="4.6"/><circle cx="283" cy="1889.7" r="4.6"/><circle cx="228.5" cy="1883.2" r="4.6"/><circle cx="258.9" cy="1888.1" r="4.6"/><circle cx="174.9" cy="1889.3" r="4.6"/><circle cx="255.1" cy="1764.5" r="4.6"/><circle cx="253.8" cy="1877.2" r="4.6"/><circle cx="192.8" cy="1889.7" r="4.6"/><circle cx="298.7" cy="1803.9" r="4.6"/><circle cx="233.1" cy="1850.2" r="4.6"/><circle cx="209.7" cy="1807.2" r="4.6"/><circle cx="279.1" cy="1808.5" r="4.6"/><circle cx="194.6" cy="1851.6" r="4.6"/><circle cx="249.1" cy="1808" r="4.6"/><circle cx="244.2" cy="1816.9" r="4.6"/><circle cx="191.1" cy="1887.4" r="4.6"/><circle cx="194.4" cy="1875.9" r="4.6"/><circle cx="294.4" cy="1804.2" r="4.6"/><circle cx="241.1" cy="1887.7" r="4.6"/><circle cx="232.9" cy="1853.9" r="4.6"/><circle cx="191.4" cy="1876.9" r="4.6"/><circle cx="222.5" cy="1792.6" r="4.6"/><circle cx="273.1" cy="1858.5" r="4.6"/><circle cx="273.6" cy="1870.9" r="4.6"/><circle cx="269.6" cy="1780.7" r="4.6"/><circle cx="254.6" cy="1881" r="4.6"/><circle cx="210.1" cy="1809.8" r="4.6"/><circle cx="227.2" cy="1882" r="4.6"/><circle cx="295.3" cy="1796.6" r="4.6"/><circle cx="227.7" cy="1886.4" r="4.6"/><circle cx="199.3" cy="1859.5" r="4.6"/><circle cx="220.4" cy="1888" r="4.6"/><circle cx="193.6" cy="1856.6" r="4.6"/><circle cx="225.5" cy="1805" r="4.6"/><circle cx="268.6" cy="1876.9" r="4.6"/><circle cx="247.1" cy="1856" r="4.6"/><circle cx="216.9" cy="1873.5" r="4.6"/><circle cx="188.7" cy="1871.1" r="4.6"/><circle cx="275.3" cy="1866.6" r="4.6"/><circle cx="284.4" cy="1860.8" r="4.6"/><circle cx="268.1" cy="1811.5" r="4.6"/><circle cx="270.1" cy="1769.5" r="4.6"/><circle cx="206.9" cy="1845.7" r="4.6"/><circle cx="201.5" cy="1850.5" r="4.6"/><circle cx="218.1" cy="1876.5" r="4.6"/><circle cx="211" cy="1847.8" r="4.6"/><circle cx="240.9" cy="1838.4" r="4.6"/><circle cx="259.7" cy="1882.8" r="4.6"/><circle cx="231.4" cy="1809.5" r="4.6"/><circle cx="269.8" cy="1822.3" r="4.6"/><circle cx="202.6" cy="1875.7" r="4.6"/><circle cx="204" cy="1852.8" r="4.6"/><circle cx="246.2" cy="1835.2" r="4.6"/><circle cx="247.5" cy="1864.3" r="4.6"/><circle cx="264.3" cy="1871.1" r="4.6"/><circle cx="214.7" cy="1807.1" r="4.6"/><circle cx="258.3" cy="1889.5" r="4.6"/><circle cx="214.7" cy="1885" r="4.6"/><circle cx="302.9" cy="1874.8" r="4.6"/><circle cx="281" cy="1888.1" r="4.6"/><circle cx="261.3" cy="1835.5" r="4.6"/><circle cx="215.1" cy="1875.3" r="4.6"/><circle cx="217.2" cy="1888" r="4.6"/><circle cx="172.9" cy="1889.3" r="4.6"/><circle cx="272.7" cy="1888.8" r="4.6"/><circle cx="250" cy="1844.3" r="4.6"/><circle cx="213.5" cy="1821.2" r="4.6"/><circle cx="200.7" cy="1840" r="4.6"/><circle cx="297.3" cy="1880" r="4.6"/><circle cx="200.2" cy="1869" r="4.6"/><circle cx="215" cy="1869.9" r="4.6"/><circle cx="182" cy="1882.4" r="4.6"/><circle cx="217.5" cy="1879.1" r="4.6"/><circle cx="204.3" cy="1879.6" r="4.6"/><circle cx="273" cy="1822.8" r="4.6"/><circle cx="284.6" cy="1777.8" r="4.6"/><circle cx="208" cy="1852.2" r="4.6"/><circle cx="237.5" cy="1791.3" r="4.6"/><circle cx="214.9" cy="1887.6" r="4.6"/><circle cx="251.2" cy="1890.1" r="4.6"/><circle cx="233.7" cy="1821.1" r="4.6"/><circle cx="242.5" cy="1884.6" r="4.6"/><circle cx="271.8" cy="1868.8" r="4.6"/><circle cx="260.7" cy="1780.6" r="4.6"/><circle cx="187" cy="1871.7" r="4.6"/><circle cx="232.5" cy="1880.1" r="4.6"/><circle cx="202" cy="1876.6" r="4.6"/><circle cx="207.8" cy="1888.4" r="4.6"/><circle cx="250.7" cy="1868.3" r="4.6"/><circle cx="293.7" cy="1793.2" r="4.6"/><circle cx="211.1" cy="1813.6" r="4.6"/><circle cx="266.5" cy="1838.5" r="4.6"/><circle cx="299.1" cy="1799.1" r="4.6"/><circle cx="291.6" cy="1857.2" r="4.6"/><circle cx="289.5" cy="1771" r="4.6"/><circle cx="184.9" cy="1887.8" r="4.6"/><circle cx="241.8" cy="1882.5" r="4.6"/><circle cx="271.3" cy="1859.4" r="4.6"/><circle cx="236.8" cy="1859.2" r="4.6"/><circle cx="192.4" cy="1851.9" r="4.6"/><circle cx="220.4" cy="1887.6" r="4.6"/><circle cx="214.2" cy="1869" r="4.6"/><circle cx="211.9" cy="1885.9" r="4.6"/><circle cx="249" cy="1878.1" r="4.6"/><circle cx="245.4" cy="1787.9" r="4.6"/><circle cx="267.9" cy="1860.1" r="4.6"/><circle cx="199.3" cy="1824.3" r="4.6"/><circle cx="273.7" cy="1817.1" r="4.6"/><circle cx="270.1" cy="1764.6" r="4.6"/><circle cx="266.8" cy="1799.7" r="4.6"/><circle cx="212.9" cy="1855.8" r="4.6"/><circle cx="233.6" cy="1789.3" r="4.6"/><circle cx="219.9" cy="1852.7" r="4.6"/><circle cx="258.9" cy="1819.1" r="4.6"/><circle cx="262.8" cy="1812.2" r="4.6"/><circle cx="231.9" cy="1863.6" r="4.6"/><circle cx="270.5" cy="1860.9" r="4.6"/><circle cx="215.4" cy="1817.6" r="4.6"/><circle cx="289.4" cy="1838.4" r="4.6"/><circle cx="222" cy="1806.2" r="4.6"/><circle cx="216.3" cy="1873" r="4.6"/><circle cx="221.9" cy="1889.8" r="4.6"/><circle cx="264" cy="1783.8" r="4.6"/><circle cx="228.2" cy="1814.1" r="4.6"/><circle cx="232.5" cy="1799.2" r="4.6"/><circle cx="211" cy="1883.7" r="4.6"/><circle cx="258.5" cy="1867" r="4.6"/><circle cx="196.7" cy="1857.8" r="4.6"/><circle cx="278.5" cy="1783.8" r="4.6"/><circle cx="191.3" cy="1881.4" r="4.6"/><circle cx="281.1" cy="1752.3" r="4.6"/><circle cx="281.4" cy="1804.2" r="4.6"/><circle cx="290.2" cy="1842.9" r="4.6"/><circle cx="220.8" cy="1836.2" r="4.6"/><circle cx="263.2" cy="1756.8" r="4.6"/><circle cx="200.5" cy="1833.4" r="4.6"/><circle cx="240.6" cy="1777.3" r="4.6"/><circle cx="235.4" cy="1775.8" r="4.6"/><circle cx="208.6" cy="1815.7" r="4.6"/><circle cx="212" cy="1879.6" r="4.6"/><circle cx="244.9" cy="1889.1" r="4.6"/><circle cx="268.8" cy="1758.3" r="4.6"/><circle cx="250.7" cy="1813.6" r="4.6"/><circle cx="244" cy="1776.8" r="4.6"/><circle cx="239.3" cy="1802.8" r="4.6"/><circle cx="186.1" cy="1888.9" r="4.6"/><circle cx="249.4" cy="1796.6" r="4.6"/><circle cx="189.1" cy="1865.8" r="4.6"/><circle cx="267.7" cy="1866.9" r="4.6"/><circle cx="300.5" cy="1848.7" r="4.6"/><circle cx="243.5" cy="1819.1" r="4.6"/><circle cx="206.6" cy="1886.2" r="4.6"/><circle cx="220.3" cy="1875.5" r="4.6"/><circle cx="251.7" cy="1811.2" r="4.6"/><circle cx="222.3" cy="1866.4" r="4.6"/><circle cx="192.2" cy="1878.6" r="4.6"/><circle cx="247.9" cy="1838.2" r="4.6"/><circle cx="218.9" cy="1864.3" r="4.6"/><circle cx="245.7" cy="1797" r="4.6"/><circle cx="246.6" cy="1785.6" r="4.6"/><circle cx="234.3" cy="1800.7" r="4.6"/><circle cx="229.2" cy="1816.6" r="4.6"/><circle cx="295.5" cy="1875" r="4.6"/><circle cx="301.5" cy="1789" r="4.6"/><circle cx="259.9" cy="1781.5" r="4.6"/><circle cx="244.5" cy="1805.9" r="4.6"/><circle cx="213.3" cy="1889.8" r="4.6"/><circle cx="220.3" cy="1808" r="4.6"/><circle cx="219.4" cy="1817.5" r="4.6"/><circle cx="221.5" cy="1885" r="4.6"/><circle cx="304.9" cy="1814.2" r="4.6"/><circle cx="218.7" cy="1889.8" r="4.6"/><circle cx="225" cy="1883.1" r="4.6"/><circle cx="297.6" cy="1864" r="4.6"/><circle cx="209.1" cy="1816.7" r="4.6"/><circle cx="283.3" cy="1761.3" r="4.6"/><circle cx="228.6" cy="1854.8" r="4.6"/><circle cx="220.4" cy="1868.7" r="4.6"/><circle cx="200.5" cy="1874.9" r="4.6"/><circle cx="296.2" cy="1853.3" r="4.6"/><circle cx="182.8" cy="1871" r="4.6"/><circle cx="222" cy="1876.9" r="4.6"/><circle cx="233.8" cy="1811.5" r="4.6"/><circle cx="264.7" cy="1806.7" r="4.6"/><circle cx="265.6" cy="1858.2" r="4.6"/><circle cx="231.4" cy="1826.1" r="4.6"/><circle cx="287.4" cy="1767.7" r="4.6"/><circle cx="193.2" cy="1859.8" r="4.6"/><circle cx="258.5" cy="1828.7" r="4.6"/><circle cx="224.5" cy="1821.5" r="4.6"/><circle cx="187" cy="1873.1" r="4.6"/><circle cx="239.4" cy="1778.5" r="4.6"/><circle cx="301.2" cy="1855.6" r="4.6"/><circle cx="212.6" cy="1809" r="4.6"/><circle cx="229.6" cy="1807" r="4.6"/><circle cx="298.8" cy="1879" r="4.6"/><circle cx="273.2" cy="1800.4" r="4.6"/><circle cx="246.9" cy="1821.7" r="4.6"/><circle cx="269.8" cy="1855.5" r="4.6"/><circle cx="221" cy="1879.2" r="4.6"/><circle cx="238.7" cy="1814.7" r="4.6"/><circle cx="235.2" cy="1890.1" r="4.6"/><circle cx="225.6" cy="1832.6" r="4.6"/><circle cx="195.1" cy="1874.1" r="4.6"/><circle cx="216.8" cy="1867.6" r="4.6"/><circle cx="265.3" cy="1844.8" r="4.6"/><circle cx="264" cy="1836.3" r="4.6"/><circle cx="258.1" cy="1879.1" r="4.6"/><circle cx="221.6" cy="1814.1" r="4.6"/><circle cx="261.8" cy="1773.7" r="4.6"/><circle cx="229.8" cy="1812.9" r="4.6"/><circle cx="186.6" cy="1875.3" r="4.6"/><circle cx="271.4" cy="1856.5" r="4.6"/><circle cx="231.9" cy="1830.9" r="4.6"/><circle cx="190.2" cy="1866.4" r="4.6"/><circle cx="197.1" cy="1849.1" r="4.6"/><circle cx="218.9" cy="1856.8" r="4.6"/><circle cx="183.3" cy="1867.4" r="4.6"/><circle cx="285.9" cy="1788" r="4.6"/><circle cx="189.1" cy="1886.3" r="4.6"/><circle cx="200.6" cy="1833.6" r="4.6"/><circle cx="241.3" cy="1840.6" r="4.6"/><circle cx="220.5" cy="1794.8" r="4.6"/><circle cx="272.5" cy="1820.8" r="4.6"/><circle cx="282" cy="1857" r="4.6"/><circle cx="265.1" cy="1760.4" r="4.6"/><circle cx="244.8" cy="1841.9" r="4.6"/><circle cx="266.1" cy="1887.6" r="4.6"/><circle cx="224" cy="1835.3" r="4.6"/><circle cx="200.7" cy="1874.3" r="4.6"/><circle cx="185.9" cy="1880.5" r="4.6"/><circle cx="187.7" cy="1879.2" r="4.6"/><circle cx="207.9" cy="1859.3" r="4.6"/><circle cx="206.8" cy="1844" r="4.6"/><circle cx="221" cy="1816.5" r="4.6"/><circle cx="239.5" cy="1812.6" r="4.6"/><circle cx="305.3" cy="1875.1" r="4.6"/><circle cx="225.1" cy="1852.2" r="4.6"/><circle cx="207.1" cy="1889.8" r="4.6"/><circle cx="210.6" cy="1822.4" r="4.6"/><circle cx="291" cy="1830.8" r="4.6"/><circle cx="195.4" cy="1849.2" r="4.6"/><circle cx="179.7" cy="1879.5" r="4.6"/><circle cx="192.8" cy="1876.4" r="4.6"/><circle cx="208.6" cy="1853.9" r="4.6"/><circle cx="266.5" cy="1820.4" r="4.6"/><circle cx="211.7" cy="1848.1" r="4.6"/><circle cx="299.9" cy="1850.9" r="4.6"/><circle cx="230.7" cy="1780.5" r="4.6"/><circle cx="267.9" cy="1847.6" r="4.6"/><circle cx="204.3" cy="1888.5" r="4.6"/><circle cx="186.6" cy="1885" r="4.6"/><circle cx="258.3" cy="1853.3" r="4.6"/><circle cx="180.2" cy="1887.8" r="4.6"/><circle cx="302.6" cy="1801.8" r="4.6"/><circle cx="308.4" cy="1858.2" r="4.6"/><circle cx="281.6" cy="1760.6" r="4.6"/><circle cx="241" cy="1816.9" r="4.6"/><circle cx="243.1" cy="1845.5" r="4.6"/><circle cx="281.3" cy="1803.9" r="4.6"/><circle cx="180.3" cy="1884.7" r="4.6"/><circle cx="240.5" cy="1861" r="4.6"/><circle cx="242.7" cy="1861.5" r="4.6"/><circle cx="280" cy="1815.4" r="4.6"/><circle cx="207.4" cy="1856.4" r="4.6"/><circle cx="226.4" cy="1848.4" r="4.6"/><circle cx="193.3" cy="1857.1" r="4.6"/><circle cx="232.2" cy="1787.2" r="4.6"/><circle cx="269.1" cy="1762.3" r="4.6"/><circle cx="248.8" cy="1885.9" r="4.6"/><circle cx="236" cy="1806.1" r="4.6"/><circle cx="215.1" cy="1851.7" r="4.6"/><circle cx="238.3" cy="1847.8" r="4.6"/><circle cx="247.5" cy="1844.4" r="4.6"/><circle cx="196.5" cy="1840.9" r="4.6"/><circle cx="276.9" cy="1779.5" r="4.6"/><circle cx="205.9" cy="1820.5" r="4.6"/><circle cx="201.7" cy="1873.2" r="4.6"/><circle cx="184.9" cy="1872.2" r="4.6"/><circle cx="226.8" cy="1842.2" r="4.6"/><circle cx="204.4" cy="1821.6" r="4.6"/><circle cx="306.9" cy="1791.7" r="4.6"/><circle cx="261.7" cy="1852.9" r="4.6"/><circle cx="182.5" cy="1876.6" r="4.6"/><circle cx="206.6" cy="1879.7" r="4.6"/><circle cx="197.6" cy="1855.3" r="4.6"/><circle cx="204.5" cy="1819.8" r="4.6"/><circle cx="264.7" cy="1875.9" r="4.6"/><circle cx="231.4" cy="1867.7" r="4.6"/><circle cx="266.7" cy="1774.3" r="4.6"/><circle cx="211.9" cy="1862.6" r="4.6"/><circle cx="234.4" cy="1866.5" r="4.6"/><circle cx="222.1" cy="1879.2" r="4.6"/><circle cx="237.9" cy="1831.5" r="4.6"/><circle cx="290.1" cy="1875.3" r="4.6"/><circle cx="287.7" cy="1850" r="4.6"/><circle cx="245.7" cy="1872" r="4.6"/><circle cx="190" cy="1856.8" r="4.6"/><circle cx="304.3" cy="1879.7" r="4.6"/><circle cx="233.9" cy="1858.9" r="4.6"/><circle cx="199.6" cy="1858.2" r="4.6"/><circle cx="214.7" cy="1888.4" r="4.6"/><circle cx="187.7" cy="1853.2" r="4.6"/><circle cx="288.8" cy="1758.1" r="4.6"/><circle cx="236.4" cy="1874.3" r="4.6"/><circle cx="198" cy="1884.7" r="4.6"/><circle cx="271" cy="1880.3" r="4.6"/><circle cx="233.7" cy="1788" r="4.6"/><circle cx="290.2" cy="1785.2" r="4.6"/><circle cx="224.2" cy="1791.4" r="4.6"/><circle cx="195.2" cy="1848.6" r="4.6"/><circle cx="230.8" cy="1784.3" r="4.6"/><circle cx="263.2" cy="1830.9" r="4.6"/><circle cx="223.2" cy="1867.2" r="4.6"/><circle cx="213.9" cy="1874.6" r="4.6"/><circle cx="199" cy="1849.5" r="4.6"/><circle cx="190.8" cy="1864.2" r="4.6"/><circle cx="237.8" cy="1822" r="4.6"/><circle cx="223" cy="1837.6" r="4.6"/><circle cx="184.7" cy="1879.2" r="4.6"/><circle cx="290.9" cy="1831.4" r="4.6"/><circle cx="248.6" cy="1870.4" r="4.6"/><circle cx="305.9" cy="1790.2" r="4.6"/><circle cx="297.7" cy="1779.6" r="4.6"/><circle cx="188.8" cy="1873.9" r="4.6"/><circle cx="196.6" cy="1866.7" r="4.6"/><circle cx="296" cy="1885" r="4.6"/><circle cx="287.8" cy="1820.1" r="4.6"/><circle cx="263" cy="1763.1" r="4.6"/><circle cx="309.2" cy="1887.5" r="4.6"/><circle cx="210" cy="1851.3" r="4.6"/><circle cx="261.3" cy="1858.9" r="4.6"/><circle cx="274.6" cy="1854.2" r="4.6"/><circle cx="200.6" cy="1823.1" r="4.6"/><circle cx="242.2" cy="1879.4" r="4.6"/><circle cx="238.9" cy="1823.5" r="4.6"/><circle cx="242.6" cy="1810.5" r="4.6"/><circle cx="307" cy="1876.1" r="4.6"/><circle cx="298" cy="1773.2" r="4.6"/><circle cx="212.4" cy="1839.5" r="4.6"/><circle cx="309.3" cy="1880.5" r="4.6"/><circle cx="227.1" cy="1877.6" r="4.6"/><circle cx="288.2" cy="1826.7" r="4.6"/><circle cx="237.1" cy="1860.7" r="4.6"/><circle cx="290.7" cy="1770.3" r="4.6"/><circle cx="269.6" cy="1813.7" r="4.6"/><circle cx="213.7" cy="1857.6" r="4.6"/><circle cx="223.4" cy="1890.1" r="4.6"/><circle cx="280.1" cy="1829.4" r="4.6"/><circle cx="198.2" cy="1871.8" r="4.6"/><circle cx="199.8" cy="1879.5" r="4.6"/><circle cx="291.9" cy="1883.3" r="4.6"/><circle cx="243.4" cy="1770.3" r="4.6"/><circle cx="249.1" cy="1793.1" r="4.6"/><circle cx="233.7" cy="1781.7" r="4.6"/><circle cx="269.5" cy="1877.9" r="4.6"/><circle cx="264.4" cy="1789.3" r="4.6"/><circle cx="225.8" cy="1801.3" r="4.6"/><circle cx="234.1" cy="1801.7" r="4.6"/><circle cx="207.6" cy="1845.3" r="4.6"/><circle cx="240.8" cy="1831.3" r="4.6"/><circle cx="216.5" cy="1881.1" r="4.6"/><circle cx="228.4" cy="1857.9" r="4.6"/><circle cx="227.9" cy="1885.9" r="4.6"/><circle cx="270.9" cy="1852.9" r="4.6"/><circle cx="237.4" cy="1779.6" r="4.6"/><circle cx="232.3" cy="1889.8" r="4.6"/><circle cx="284.8" cy="1879.1" r="4.6"/><circle cx="211.9" cy="1879.6" r="4.6"/><circle cx="250.1" cy="1823" r="4.6"/><circle cx="208.7" cy="1872.7" r="4.6"/><circle cx="304.7" cy="1880.5" r="4.6"/><circle cx="250.6" cy="1778.6" r="4.6"/><circle cx="184.6" cy="1869" r="4.6"/><circle cx="240.7" cy="1884.4" r="4.6"/><circle cx="199.7" cy="1838.5" r="4.6"/><circle cx="247.4" cy="1776.1" r="4.6"/><circle cx="285" cy="1821.6" r="4.6"/><circle cx="249.8" cy="1874.2" r="4.6"/><circle cx="272.3" cy="1778" r="4.6"/><circle cx="225.7" cy="1889.4" r="4.6"/><circle cx="245" cy="1827.6" r="4.6"/><circle cx="247.3" cy="1855.2" r="4.6"/><circle cx="212.7" cy="1798.1" r="4.6"/><circle cx="268.1" cy="1816.7" r="4.6"/><circle cx="225.4" cy="1886" r="4.6"/><circle cx="218.9" cy="1844.9" r="4.6"/><circle cx="294.5" cy="1885.6" r="4.6"/><circle cx="280" cy="1838.7" r="4.6"/><circle cx="193.7" cy="1852.1" r="4.6"/><circle cx="287.3" cy="1837.9" r="4.6"/><circle cx="250.7" cy="1842.5" r="4.6"/><circle cx="212.3" cy="1830.1" r="4.6"/><circle cx="227.2" cy="1882.6" r="4.6"/><circle cx="187.9" cy="1865.7" r="4.6"/><circle cx="206.4" cy="1846.1" r="4.6"/><circle cx="301.5" cy="1874.8" r="4.6"/><circle cx="303.2" cy="1841.7" r="4.6"/><circle cx="202.9" cy="1874.2" r="4.6"/><circle cx="229" cy="1778.6" r="4.6"/><circle cx="266.8" cy="1887.5" r="4.6"/><circle cx="225.6" cy="1834.9" r="4.6"/><circle cx="230" cy="1850.5" r="4.6"/><circle cx="277.3" cy="1766.6" r="4.6"/><circle cx="181" cy="1886.6" r="4.6"/><circle cx="207.9" cy="1873.4" r="4.6"/><circle cx="277.8" cy="1820.7" r="4.6"/><circle cx="240.4" cy="1854.1" r="4.6"/><circle cx="220.9" cy="1798.5" r="4.6"/><circle cx="210.9" cy="1857.7" r="4.6"/><circle cx="238.3" cy="1871.6" r="4.6"/><circle cx="232.2" cy="1807.8" r="4.6"/><circle cx="292.8" cy="1796.7" r="4.6"/><circle cx="197.6" cy="1883.7" r="4.6"/><circle cx="199.2" cy="1851.3" r="4.6"/><circle cx="261.1" cy="1831.3" r="4.6"/><circle cx="282.7" cy="1864.2" r="4.6"/><circle cx="193.8" cy="1859.6" r="4.6"/><circle cx="230.6" cy="1873.9" r="4.6"/><circle cx="201" cy="1822.3" r="4.6"/><circle cx="207.1" cy="1822.2" r="4.6"/><circle cx="174.5" cy="1886.6" r="4.6"/><circle cx="240" cy="1784.4" r="4.6"/><circle cx="280.4" cy="1847.4" r="4.6"/><circle cx="251.9" cy="1827.7" r="4.6"/><circle cx="202.5" cy="1888.3" r="4.6"/><circle cx="257" cy="1884.7" r="4.6"/><circle cx="250.7" cy="1778.2" r="4.6"/><circle cx="289.3" cy="1815.3" r="4.6"/><circle cx="273" cy="1844.1" r="4.6"/><circle cx="209.2" cy="1862.7" r="4.6"/><circle cx="292.5" cy="1769.8" r="4.6"/><circle cx="229.8" cy="1818" r="4.6"/><circle cx="288.6" cy="1843.7" r="4.6"/><circle cx="288.9" cy="1865.8" r="4.6"/><circle cx="237.7" cy="1822.8" r="4.6"/><circle cx="242.9" cy="1873.6" r="4.6"/><circle cx="202.3" cy="1824.7" r="4.6"/><circle cx="291" cy="1859.8" r="4.6"/><circle cx="264.6" cy="1765.3" r="4.6"/><circle cx="243.2" cy="1878" r="4.6"/><circle cx="202.1" cy="1826.2" r="4.6"/><circle cx="249.9" cy="1789" r="4.6"/><circle cx="214" cy="1889.3" r="4.6"/><circle cx="227.1" cy="1840.9" r="4.6"/><circle cx="206.9" cy="1848.9" r="4.6"/><circle cx="208.6" cy="1841.3" r="4.6"/><circle cx="233.7" cy="1825.7" r="4.6"/><circle cx="215" cy="1836" r="4.6"/><circle cx="212.1" cy="1832.2" r="4.6"/><circle cx="201.7" cy="1861.2" r="4.6"/><circle cx="223.4" cy="1866.4" r="4.6"/><circle cx="251.7" cy="1888.3" r="4.6"/><circle cx="259.3" cy="1876.8" r="4.6"/><circle cx="230.1" cy="1851" r="4.6"/><circle cx="179.1" cy="1885" r="4.6"/><circle cx="200.2" cy="1878.3" r="4.6"/><circle cx="305.2" cy="1788.4" r="4.6"/><circle cx="191.9" cy="1873.1" r="4.6"/><circle cx="246.9" cy="1887" r="4.6"/><circle cx="279.8" cy="1832.8" r="4.6"/><circle cx="215.1" cy="1834.2" r="4.6"/><circle cx="190.7" cy="1887.9" r="4.6"/><circle cx="241.1" cy="1809.4" r="4.6"/><circle cx="262.4" cy="1833.5" r="4.6"/><circle cx="258.8" cy="1866" r="4.6"/><circle cx="266.1" cy="1859.2" r="4.6"/><circle cx="256.6" cy="1820.5" r="4.6"/><circle cx="250.5" cy="1872.5" r="4.6"/><circle cx="301" cy="1807.6" r="4.6"/><circle cx="295.5" cy="1807.4" r="4.6"/><circle cx="200.8" cy="1826.1" r="4.6"/><circle cx="255.7" cy="1876.1" r="4.6"/><circle cx="201.9" cy="1846.9" r="4.6"/><circle cx="222.4" cy="1887.8" r="4.6"/><circle cx="203.6" cy="1880.6" r="4.6"/><circle cx="229.3" cy="1819.7" r="4.6"/><circle cx="209.3" cy="1836.5" r="4.6"/><circle cx="203.7" cy="1889.3" r="4.6"/><circle cx="286.6" cy="1793" r="4.6"/><circle cx="242.4" cy="1860.3" r="4.6"/><circle cx="260.4" cy="1822.5" r="4.6"/><circle cx="271.1" cy="1880.4" r="4.6"/><circle cx="234.6" cy="1868.9" r="4.6"/><circle cx="205.1" cy="1844.9" r="4.6"/><circle cx="224.9" cy="1841.9" r="4.6"/><circle cx="240.8" cy="1849.7" r="4.6"/><circle cx="223.8" cy="1832.3" r="4.6"/><circle cx="285.9" cy="1885.2" r="4.6"/><circle cx="206.8" cy="1834.5" r="4.6"/><circle cx="261.1" cy="1809.5" r="4.6"/><circle cx="267.6" cy="1831.6" r="4.6"/><circle cx="245.8" cy="1841.7" r="4.6"/><circle cx="209.1" cy="1859.1" r="4.6"/><circle cx="192.6" cy="1889.7" r="4.6"/><circle cx="233.1" cy="1862.3" r="4.6"/><circle cx="302.9" cy="1886.2" r="4.6"/><circle cx="245.7" cy="1778.9" r="4.6"/><circle cx="236.9" cy="1848" r="4.6"/><circle cx="195.6" cy="1859.5" r="4.6"/><circle cx="259.5" cy="1834.3" r="4.6"/><circle cx="206.1" cy="1887" r="4.6"/><circle cx="298.2" cy="1769.5" r="4.6"/><circle cx="230.7" cy="1806.1" r="4.6"/><circle cx="212.7" cy="1865.9" r="4.6"/><circle cx="248.7" cy="1876.5" r="4.6"/><circle cx="176.3" cy="1887.6" r="4.6"/><circle cx="255.6" cy="1782.3" r="4.6"/><circle cx="263.9" cy="1785.2" r="4.6"/><circle cx="254.6" cy="1885.2" r="4.6"/><circle cx="274.3" cy="1810.8" r="4.6"/><circle cx="259.9" cy="1767.5" r="4.6"/><circle cx="192.5" cy="1861.9" r="4.6"/><circle cx="270.9" cy="1869.3" r="4.6"/><circle cx="268.6" cy="1842.7" r="4.6"/><circle cx="210.5" cy="1879.7" r="4.6"/><circle cx="295.5" cy="1803.5" r="4.6"/><circle cx="306.3" cy="1863" r="4.6"/><circle cx="235.1" cy="1807.1" r="4.6"/><circle cx="252.3" cy="1762.8" r="4.6"/><circle cx="282.8" cy="1867.5" r="4.6"/><circle cx="284.6" cy="1854.1" r="4.6"/><circle cx="268.3" cy="1839.6" r="4.6"/><circle cx="291.7" cy="1882.9" r="4.6"/><circle cx="233.3" cy="1778.6" r="4.6"/><circle cx="206" cy="1860.2" r="4.6"/><circle cx="202.1" cy="1883.4" r="4.6"/><circle cx="247.6" cy="1875.5" r="4.6"/><circle cx="236.7" cy="1787.9" r="4.6"/><circle cx="265.1" cy="1868.6" r="4.6"/><circle cx="197.8" cy="1855.4" r="4.6"/><circle cx="248.8" cy="1773.1" r="4.6"/><circle cx="183.9" cy="1878.7" r="4.6"/><circle cx="213.7" cy="1888.8" r="4.6"/><circle cx="279.7" cy="1803" r="4.6"/><circle cx="205" cy="1844.9" r="4.6"/><circle cx="189.7" cy="1878.1" r="4.6"/><circle cx="282.8" cy="1877.6" r="4.6"/><circle cx="221.6" cy="1856.8" r="4.6"/><circle cx="278.3" cy="1818" r="4.6"/><circle cx="239.2" cy="1797" r="4.6"/><circle cx="277.4" cy="1846.1" r="4.6"/><circle cx="245.3" cy="1890" r="4.6"/><circle cx="214.3" cy="1884.4" r="4.6"/><circle cx="203.9" cy="1835.3" r="4.6"/><circle cx="260.9" cy="1873.1" r="4.6"/><circle cx="206.7" cy="1865.2" r="4.6"/><circle cx="256.6" cy="1803.2" r="4.6"/><circle cx="284.9" cy="1880.3" r="4.6"/><circle cx="207.1" cy="1836.5" r="4.6"/><circle cx="303.9" cy="1804.7" r="4.6"/><circle cx="295.9" cy="1850.2" r="4.6"/><circle cx="289.8" cy="1795.2" r="4.6"/><circle cx="261.3" cy="1889.9" r="4.6"/><circle cx="195.7" cy="1840.6" r="4.6"/><circle cx="288.3" cy="1839.8" r="4.6"/><circle cx="218.8" cy="1885.9" r="4.6"/><circle cx="233.8" cy="1814.7" r="4.6"/><circle cx="246.5" cy="1820.8" r="4.6"/><circle cx="278.4" cy="1861.6" r="4.6"/><circle cx="231" cy="1867.6" r="4.6"/><circle cx="227.8" cy="1833.7" r="4.6"/><circle cx="219.2" cy="1790.8" r="4.6"/><circle cx="304.7" cy="1878.1" r="4.6"/><circle cx="288.4" cy="1864.6" r="4.6"/><circle cx="302.3" cy="1775.6" r="4.6"/><circle cx="206.2" cy="1818.9" r="4.6"/><circle cx="289.8" cy="1810.2" r="4.6"/><circle cx="199.4" cy="1877.8" r="4.6"/><circle cx="267.4" cy="1832.5" r="4.6"/><circle cx="289.7" cy="1798.8" r="4.6"/><circle cx="255.6" cy="1885.9" r="4.6"/><circle cx="213.2" cy="1819.2" r="4.6"/><circle cx="193.9" cy="1857.1" r="4.6"/><circle cx="231.6" cy="1817.2" r="4.6"/><circle cx="254.1" cy="1803.2" r="4.6"/><circle cx="222.5" cy="1811.1" r="4.6"/><circle cx="211.8" cy="1878.1" r="4.6"/><circle cx="255" cy="1786.1" r="4.6"/><circle cx="274.4" cy="1862" r="4.6"/><circle cx="216.2" cy="1797.3" r="4.6"/><circle cx="272.3" cy="1790.9" r="4.6"/><circle cx="207.9" cy="1884" r="4.6"/><circle cx="219.1" cy="1888.8" r="4.6"/><circle cx="224.8" cy="1801.7" r="4.6"/><circle cx="208.4" cy="1857.5" r="4.6"/><circle cx="197.9" cy="1859.6" r="4.6"/><circle cx="277.4" cy="1763.9" r="4.6"/><circle cx="179.9" cy="1887.3" r="4.6"/><circle cx="295.4" cy="1814.2" r="4.6"/><circle cx="302.5" cy="1809.8" r="4.6"/><circle cx="196.1" cy="1889" r="4.6"/><circle cx="248.8" cy="1855.4" r="4.6"/><circle cx="261.2" cy="1873.1" r="4.6"/><circle cx="296.2" cy="1862.1" r="4.6"/><circle cx="280" cy="1821.7" r="4.6"/><circle cx="236.1" cy="1829.8" r="4.6"/><circle cx="211.3" cy="1860.4" r="4.6"/><circle cx="227.2" cy="1834.3" r="4.6"/><circle cx="267.4" cy="1779.7" r="4.6"/><circle cx="247.7" cy="1807.8" r="4.6"/><circle cx="207.6" cy="1814.7" r="4.6"/><circle cx="289.1" cy="1777.4" r="4.6"/><circle cx="195.8" cy="1843.7" r="4.6"/><circle cx="248.7" cy="1879.5" r="4.6"/><circle cx="246.6" cy="1883.6" r="4.6"/><circle cx="248.4" cy="1858.5" r="4.6"/><circle cx="200.8" cy="1824.6" r="4.6"/><circle cx="287.1" cy="1851.6" r="4.6"/><circle cx="270" cy="1786.2" r="4.6"/><circle cx="224.4" cy="1869.3" r="4.6"/><circle cx="252.8" cy="1817.1" r="4.6"/><circle cx="199.2" cy="1862" r="4.6"/><circle cx="213.7" cy="1838.2" r="4.6"/><circle cx="229.1" cy="1813.1" r="4.6"/><circle cx="186.5" cy="1889.8" r="4.6"/><circle cx="288.5" cy="1804.7" r="4.6"/><circle cx="233.3" cy="1806.8" r="4.6"/><circle cx="225.1" cy="1888.3" r="4.6"/><circle cx="252.9" cy="1821.8" r="4.6"/><circle cx="269.7" cy="1874" r="4.6"/><circle cx="268.5" cy="1861" r="4.6"/><circle cx="189.4" cy="1861.5" r="4.6"/><circle cx="223.1" cy="1886.2" r="4.6"/><circle cx="245.4" cy="1780.4" r="4.6"/><circle cx="233.7" cy="1881" r="4.6"/><circle cx="279.8" cy="1881.8" r="4.6"/><circle cx="232" cy="1832.8" r="4.6"/><circle cx="259" cy="1833.6" r="4.6"/><circle cx="249" cy="1889.8" r="4.6"/><circle cx="211.1" cy="1884.7" r="4.6"/><circle cx="251.1" cy="1864.9" r="4.6"/><circle cx="275.8" cy="1797.3" r="4.6"/><circle cx="200.3" cy="1879.3" r="4.6"/><circle cx="230" cy="1829" r="4.6"/><circle cx="188.5" cy="1871.5" r="4.6"/><circle cx="298.1" cy="1785.9" r="4.6"/><circle cx="243.2" cy="1824.7" r="4.6"/><circle cx="225.4" cy="1846.8" r="4.6"/><circle cx="226" cy="1799.4" r="4.6"/><circle cx="233.8" cy="1850" r="4.6"/><circle cx="308.3" cy="1828.1" r="4.6"/><circle cx="316.6" cy="1831.7" r="4.6"/><circle cx="327.5" cy="1815.6" r="4.6"/><circle cx="336.9" cy="1816.6" r="4.6"/><circle cx="317.6" cy="1821.4" r="4.6"/><circle cx="311.7" cy="1802.2" r="4.6"/><circle cx="326.6" cy="1879.5" r="4.6"/><circle cx="306.1" cy="1847.7" r="4.6"/><circle cx="318.1" cy="1867.2" r="4.6"/><circle cx="322.1" cy="1852.6" r="4.6"/><circle cx="313.1" cy="1786.4" r="4.6"/><circle cx="323.5" cy="1873.5" r="4.6"/><circle cx="311.6" cy="1884" r="4.6"/><circle cx="315.9" cy="1795.9" r="4.6"/><circle cx="305.4" cy="1845.1" r="4.6"/><circle cx="323.2" cy="1837.1" r="4.6"/><circle cx="338.2" cy="1865.6" r="4.6"/><circle cx="320.8" cy="1782.4" r="4.6"/><circle cx="315.6" cy="1780.3" r="4.6"/><circle cx="311.5" cy="1858.5" r="4.6"/><circle cx="338.3" cy="1869.8" r="4.6"/><circle cx="310.8" cy="1794.5" r="4.6"/><circle cx="305.3" cy="1782.8" r="4.6"/><circle cx="322.3" cy="1868.3" r="4.6"/><circle cx="312.4" cy="1823.6" r="4.6"/><circle cx="328.2" cy="1876.6" r="4.6"/><circle cx="312.8" cy="1827.1" r="4.6"/><circle cx="327.2" cy="1833.2" r="4.6"/><circle cx="307.1" cy="1795.4" r="4.6"/><circle cx="327.8" cy="1782.8" r="4.6"/><circle cx="310.9" cy="1839.8" r="4.6"/><circle cx="312.4" cy="1796.5" r="4.6"/><circle cx="306.5" cy="1836.2" r="4.6"/><circle cx="331.8" cy="1800.6" r="4.6"/><circle cx="307" cy="1871.7" r="4.6"/><circle cx="317.7" cy="1885.3" r="4.6"/><circle cx="320.6" cy="1855.2" r="4.6"/><circle cx="315.7" cy="1826.9" r="4.6"/><circle cx="305.4" cy="1885.7" r="4.6"/><circle cx="322.5" cy="1810.9" r="4.6"/><circle cx="310.4" cy="1853.7" r="4.6"/><circle cx="331.3" cy="1834.5" r="4.6"/><circle cx="306.5" cy="1862.6" r="4.6"/><circle cx="328" cy="1881.2" r="4.6"/><circle cx="312.3" cy="1874.6" r="4.6"/><circle cx="307.3" cy="1782.7" r="4.6"/><circle cx="328.3" cy="1831.2" r="4.6"/><circle cx="331.2" cy="1832.1" r="4.6"/><circle cx="321.3" cy="1777" r="4.6"/><circle cx="328.2" cy="1877.6" r="4.6"/><circle cx="322.3" cy="1828.7" r="4.6"/><circle cx="322.4" cy="1816.9" r="4.6"/><circle cx="310.8" cy="1795.1" r="4.6"/><circle cx="326" cy="1845" r="4.6"/><circle cx="310.8" cy="1838.6" r="4.6"/><circle cx="322.7" cy="1782.2" r="4.6"/><circle cx="322" cy="1824.9" r="4.6"/><circle cx="327.2" cy="1814" r="4.6"/><circle cx="325.9" cy="1820.1" r="4.6"/><circle cx="306.2" cy="1850.9" r="4.6"/><circle cx="322.6" cy="1839" r="4.6"/><circle cx="327.3" cy="1784.5" r="4.6"/><circle cx="311.4" cy="1781.9" r="4.6"/><circle cx="326.9" cy="1864.5" r="4.6"/><circle cx="323.4" cy="1786.5" r="4.6"/><circle cx="338.1" cy="1837.7" r="4.6"/><circle cx="327.9" cy="1835.4" r="4.6"/><circle cx="316.4" cy="1842.3" r="4.6"/><circle cx="306.9" cy="1788.8" r="4.6"/><circle cx="321.4" cy="1812.2" r="4.6"/><circle cx="306" cy="1824.4" r="4.6"/><circle cx="311.6" cy="1837.5" r="4.6"/><circle cx="338.7" cy="1839.4" r="4.6"/><circle cx="327.4" cy="1818.4" r="4.6"/><circle cx="305.7" cy="1796.8" r="4.6"/><circle cx="333.4" cy="1784.5" r="4.6"/><circle cx="332.2" cy="1805.9" r="4.6"/><circle cx="327.6" cy="1812.9" r="4.6"/><circle cx="317.8" cy="1822.6" r="4.6"/><circle cx="308.1" cy="1822.4" r="4.6"/><circle cx="308" cy="1781.6" r="4.6"/><circle cx="316.7" cy="1827.6" r="4.6"/><circle cx="313.3" cy="1856.4" r="4.6"/><circle cx="306.1" cy="1842.5" r="4.6"/><circle cx="322.5" cy="1783.5" r="4.6"/><circle cx="311.6" cy="1782.3" r="4.6"/><circle cx="331.7" cy="1793.7" r="4.6"/><circle cx="307.9" cy="1786.3" r="4.6"/><circle cx="312.9" cy="1794" r="4.6"/><circle cx="312.1" cy="1879.6" r="4.6"/><circle cx="310.4" cy="1870" r="4.6"/><circle cx="310.5" cy="1887" r="4.6"/><circle cx="312.2" cy="1836.7" r="4.6"/><circle cx="317.1" cy="1868.1" r="4.6"/><circle cx="322.1" cy="1846.6" r="4.6"/><circle cx="320.8" cy="1780.3" r="4.6"/><circle cx="332" cy="1803.6" r="4.6"/><circle cx="322.9" cy="1789.5" r="4.6"/><circle cx="326.4" cy="1880" r="4.6"/><circle cx="305.9" cy="1784" r="4.6"/><circle cx="318" cy="1811.8" r="4.6"/><circle cx="311.4" cy="1791.4" r="4.6"/><circle cx="333.6" cy="1874" r="4.6"/><circle cx="306.5" cy="1795.8" r="4.6"/><circle cx="323.4" cy="1800.1" r="4.6"/><circle cx="331" cy="1803.5" r="4.6"/><circle cx="336.5" cy="1846.9" r="4.6"/><circle cx="313.4" cy="1809.3" r="4.6"/><circle cx="322.2" cy="1788.4" r="4.6"/><circle cx="322.8" cy="1883.2" r="4.6"/><circle cx="342.4" cy="1800.4" r="4.6"/><circle cx="342.4" cy="1851.4" r="4.6"/><circle cx="342.4" cy="1860.6" r="4.6"/><circle cx="342.4" cy="1797.9" r="4.6"/><circle cx="347.5" cy="1873.5" r="4.6"/><circle cx="347.5" cy="1828.9" r="4.6"/><circle cx="347.5" cy="1818.8" r="4.6"/><circle cx="347.5" cy="1812.2" r="4.6"/><circle cx="347.5" cy="1869.7" r="4.6"/><circle cx="347.5" cy="1809.8" r="4.6"/><circle cx="347.5" cy="1825.9" r="4.6"/><circle cx="347.5" cy="1782.6" r="4.6"/><circle cx="347.5" cy="1884.2" r="4.6"/><circle cx="347.5" cy="1769.5" r="4.6"/><circle cx="347.5" cy="1866.4" r="4.6"/><circle cx="347.5" cy="1787.3" r="4.6"/><circle cx="347.5" cy="1825" r="4.6"/><circle cx="347.5" cy="1784.5" r="4.6"/><circle cx="347.5" cy="1865.1" r="4.6"/><circle cx="347.5" cy="1848" r="4.6"/><circle cx="347.5" cy="1876.9" r="4.6"/><circle cx="347.5" cy="1791.5" r="4.6"/><circle cx="347.5" cy="1821.7" r="4.6"/><circle cx="347.5" cy="1862.4" r="4.6"/><circle cx="347.5" cy="1864" r="4.6"/><circle cx="347.5" cy="1877.7" r="4.6"/><circle cx="347.5" cy="1863" r="4.6"/><circle cx="347.5" cy="1818.5" r="4.6"/><circle cx="347.5" cy="1833.6" r="4.6"/><circle cx="347.5" cy="1800.7" r="4.6"/><circle cx="352.6" cy="1875.1" r="4.6"/><circle cx="352.6" cy="1797.5" r="4.6"/><circle cx="352.6" cy="1783" r="4.6"/><circle cx="352.6" cy="1807.6" r="4.6"/><circle cx="357.7" cy="1805.5" r="4.6"/><circle cx="357.7" cy="1794.4" r="4.6"/><circle cx="357.7" cy="1873" r="4.6"/><circle cx="357.7" cy="1834.8" r="4.6"/><circle cx="362.8" cy="1872.3" r="4.6"/><circle cx="362.8" cy="1800.9" r="4.6"/><circle cx="362.8" cy="1825.7" r="4.6"/><circle cx="362.8" cy="1869.6" r="4.6"/><circle cx="367.9" cy="1836.3" r="4.6"/><circle cx="367.9" cy="1803.3" r="4.6"/><circle cx="367.9" cy="1825.6" r="4.6"/><circle cx="373" cy="1866" r="4.6"/><circle cx="373" cy="1769.3" r="4.6"/><circle cx="373" cy="1873.7" r="4.6"/><circle cx="373" cy="1780.4" r="4.6"/><circle cx="373" cy="1764.9" r="4.6"/><circle cx="373" cy="1791.3" r="4.6"/><circle cx="373" cy="1768.2" r="4.6"/><circle cx="373" cy="1817.4" r="4.6"/><circle cx="373" cy="1854.4" r="4.6"/><circle cx="373" cy="1824.4" r="4.6"/><circle cx="373" cy="1792.9" r="4.6"/><circle cx="373" cy="1789.2" r="4.6"/><circle cx="373" cy="1834.8" r="4.6"/><circle cx="373" cy="1768" r="4.6"/><circle cx="373" cy="1876.3" r="4.6"/><circle cx="373" cy="1821.6" r="4.6"/><circle cx="373" cy="1875.7" r="4.6"/><circle cx="373" cy="1837.9" r="4.6"/><circle cx="373" cy="1763.1" r="4.6"/><circle cx="373" cy="1866.4" r="4.6"/><circle cx="373" cy="1763.5" r="4.6"/><circle cx="373" cy="1773" r="4.6"/><circle cx="373" cy="1798.8" r="4.6"/><circle cx="373" cy="1873.8" r="4.6"/><circle cx="373" cy="1824.5" r="4.6"/><circle cx="373" cy="1798.3" r="4.6"/><circle cx="373" cy="1869.1" r="4.6"/><circle cx="373" cy="1845" r="4.6"/><circle cx="373" cy="1869.5" r="4.6"/><circle cx="373" cy="1780.4" r="4.6"/><circle cx="373" cy="1771.8" r="4.6"/><circle cx="373" cy="1770.8" r="4.6"/><circle cx="373" cy="1791.4" r="4.6"/><circle cx="373" cy="1812.1" r="4.6"/><circle cx="373" cy="1873" r="4.6"/><circle cx="373" cy="1823.3" r="4.6"/><circle cx="373" cy="1790.2" r="4.6"/><circle cx="373" cy="1790.7" r="4.6"/><circle cx="373" cy="1877.2" r="4.6"/><circle cx="373" cy="1879.4" r="4.6"/><circle cx="378.1" cy="1774.8" r="4.6"/><circle cx="378.1" cy="1760.6" r="4.6"/><circle cx="378.1" cy="1774.4" r="4.6"/><circle cx="383.2" cy="1769.7" r="4.6"/><circle cx="383.2" cy="1768.2" r="4.6"/><circle cx="383.2" cy="1761.3" r="4.6"/><circle cx="383.2" cy="1774" r="4.6"/><circle cx="388.3" cy="1772.5" r="4.6"/><circle cx="388.3" cy="1765.1" r="4.6"/><circle cx="388.3" cy="1775.1" r="4.6"/><circle cx="393.3" cy="1840.3" r="4.6"/><circle cx="393.3" cy="1851.7" r="4.6"/><circle cx="393.3" cy="1774.9" r="4.6"/><circle cx="398.4" cy="1850" r="4.6"/><circle cx="398.4" cy="1823.4" r="4.6"/><circle cx="398.4" cy="1835.5" r="4.6"/><circle cx="398.4" cy="1775.7" r="4.6"/><circle cx="398.4" cy="1802.5" r="4.6"/><circle cx="398.4" cy="1813.5" r="4.6"/><circle cx="398.4" cy="1824.6" r="4.6"/><circle cx="398.4" cy="1846.6" r="4.6"/><circle cx="398.4" cy="1789.9" r="4.6"/><circle cx="398.4" cy="1862.9" r="4.6"/><circle cx="398.4" cy="1811.4" r="4.6"/><circle cx="398.4" cy="1843.9" r="4.6"/><circle cx="398.4" cy="1845.7" r="4.6"/><circle cx="398.4" cy="1828.1" r="4.6"/><circle cx="398.4" cy="1854.4" r="4.6"/><circle cx="398.4" cy="1814.4" r="4.6"/><circle cx="403.5" cy="1863.9" r="4.6"/><circle cx="403.5" cy="1868.9" r="4.6"/><circle cx="403.5" cy="1857" r="4.6"/><circle cx="408.6" cy="1859.8" r="4.6"/><circle cx="408.6" cy="1785.4" r="4.6"/><circle cx="408.6" cy="1820.1" r="4.6"/><circle cx="413.7" cy="1804.2" r="4.6"/><circle cx="413.7" cy="1794.8" r="4.6"/><circle cx="413.7" cy="1852.7" r="4.6"/><circle cx="418.8" cy="1778.5" r="4.6"/><circle cx="418.8" cy="1832" r="4.6"/><circle cx="418.8" cy="1824.9" r="4.6"/><circle cx="423.9" cy="1818.6" r="4.6"/><circle cx="423.9" cy="1798.6" r="4.6"/><circle cx="423.9" cy="1791.5" r="4.6"/><circle cx="423.9" cy="1847.1" r="4.6"/><circle cx="423.9" cy="1785.7" r="4.6"/><circle cx="423.9" cy="1824.4" r="4.6"/><circle cx="423.9" cy="1841.6" r="4.6"/><circle cx="423.9" cy="1782.2" r="4.6"/><circle cx="423.9" cy="1781.4" r="4.6"/><circle cx="423.9" cy="1782.8" r="4.6"/><circle cx="423.9" cy="1834.6" r="4.6"/><circle cx="423.9" cy="1777.4" r="4.6"/><circle cx="423.9" cy="1790.8" r="4.6"/><circle cx="423.9" cy="1771.9" r="4.6"/><circle cx="423.9" cy="1792.8" r="4.6"/><circle cx="423.9" cy="1769.1" r="4.6"/><circle cx="423.9" cy="1819.6" r="4.6"/><circle cx="423.9" cy="1793.3" r="4.6"/><circle cx="423.9" cy="1790.2" r="4.6"/><circle cx="423.9" cy="1815.1" r="4.6"/><circle cx="423.9" cy="1817.1" r="4.6"/><circle cx="423.9" cy="1827.1" r="4.6"/><circle cx="423.9" cy="1781.8" r="4.6"/><circle cx="423.9" cy="1829.2" r="4.6"/><circle cx="423.9" cy="1793.6" r="4.6"/><circle cx="423.9" cy="1811.5" r="4.6"/><circle cx="429" cy="1805.3" r="4.6"/><circle cx="429" cy="1838" r="4.6"/><circle cx="434.1" cy="1856.8" r="4.6"/><circle cx="434.1" cy="1806.3" r="4.6"/><circle cx="434.1" cy="1851.2" r="4.6"/><circle cx="439.2" cy="1830.7" r="4.6"/><circle cx="439.2" cy="1796.5" r="4.6"/><circle cx="444.3" cy="1855.9" r="4.6"/><circle cx="444.3" cy="1786" r="4.6"/><circle cx="444.3" cy="1812.1" r="4.6"/><circle cx="449.3" cy="1814.1" r="4.6"/><circle cx="449.3" cy="1805.4" r="4.6"/><circle cx="449.3" cy="1851.9" r="4.6"/><circle cx="449.3" cy="1854.5" r="4.6"/><circle cx="449.3" cy="1802.1" r="4.6"/><circle cx="449.3" cy="1812.2" r="4.6"/><circle cx="449.3" cy="1808.2" r="4.6"/><circle cx="449.3" cy="1794.4" r="4.6"/><circle cx="449.3" cy="1835.9" r="4.6"/><circle cx="449.3" cy="1844.1" r="4.6"/><circle cx="449.3" cy="1783.5" r="4.6"/><circle cx="449.3" cy="1851.7" r="4.6"/><circle cx="454.4" cy="1818.8" r="4.6"/><circle cx="454.4" cy="1810.9" r="4.6"/><circle cx="459.5" cy="1784.5" r="4.6"/><circle cx="459.5" cy="1849.7" r="4.6"/><circle cx="459.5" cy="1803.5" r="4.6"/><circle cx="464.6" cy="1840.5" r="4.6"/><circle cx="464.6" cy="1823.2" r="4.6"/><circle cx="464.6" cy="1815.6" r="4.6"/><circle cx="464.6" cy="1805.1" r="4.6"/><circle cx="464.6" cy="1841.9" r="4.6"/><circle cx="464.6" cy="1809.7" r="4.6"/><circle cx="464.6" cy="1837.3" r="4.6"/><circle cx="464.6" cy="1825.5" r="4.6"/><circle cx="464.6" cy="1799" r="4.6"/><circle cx="464.6" cy="1805" r="4.6"/><circle cx="464.6" cy="1840.6" r="4.6"/><circle cx="464.6" cy="1843.9" r="4.6"/><circle cx="464.6" cy="1842.7" r="4.6"/><circle cx="464.6" cy="1808.2" r="4.6"/><circle cx="469.7" cy="1850.8" r="4.6"/><circle cx="469.7" cy="1792" r="4.6"/><circle cx="469.7" cy="1790.3" r="4.6"/><circle cx="474.8" cy="1786.5" r="4.6"/><circle cx="474.8" cy="1776.7" r="4.6"/><circle cx="474.8" cy="1801.7" r="4.6"/><circle cx="474.8" cy="1785.9" r="4.6"/><circle cx="474.8" cy="1809.1" r="4.6"/><circle cx="474.8" cy="1798.8" r="4.6"/><circle cx="474.8" cy="1848" r="4.6"/><circle cx="474.8" cy="1808.5" r="4.6"/><circle cx="474.8" cy="1772.3" r="4.6"/><circle cx="474.8" cy="1821.8" r="4.6"/><circle cx="474.8" cy="1794.9" r="4.6"/><circle cx="474.8" cy="1839.1" r="4.6"/><circle cx="474.8" cy="1814.1" r="4.6"/><circle cx="474.8" cy="1809.2" r="4.6"/><circle cx="474.8" cy="1790.4" r="4.6"/><circle cx="474.8" cy="1827.2" r="4.6"/><circle cx="474.8" cy="1815.2" r="4.6"/><circle cx="474.8" cy="1838.2" r="4.6"/><circle cx="474.8" cy="1806.3" r="4.6"/><circle cx="474.8" cy="1776.4" r="4.6"/><circle cx="474.8" cy="1822" r="4.6"/><circle cx="474.8" cy="1799.5" r="4.6"/><circle cx="479.9" cy="1810.7" r="4.6"/><circle cx="479.9" cy="1834.7" r="4.6"/><circle cx="485" cy="1799.5" r="4.6"/><circle cx="485" cy="1828.9" r="4.6"/><circle cx="490.1" cy="1808.2" r="4.6"/><circle cx="490.1" cy="1787.5" r="4.6"/><circle cx="495.2" cy="1820.8" r="4.6"/><circle cx="495.2" cy="1803.3" r="4.6"/><circle cx="500.3" cy="1815.2" r="4.6"/><circle cx="500.3" cy="1802.3" r="4.6"/><circle cx="525.7" cy="1811.9" r="4.6"/><circle cx="525.7" cy="1802.9" r="4.6"/><circle cx="525.7" cy="1794.7" r="4.6"/><circle cx="576.6" cy="1821.4" r="4.6"/><circle cx="576.6" cy="1811.1" r="4.6"/><circle cx="576.6" cy="1820.4" r="4.6"/><circle cx="576.6" cy="1825.4" r="4.6"/><circle cx="576.6" cy="1788.2" r="4.6"/><circle cx="576.6" cy="1776.5" r="4.6"/><circle cx="576.6" cy="1798.6" r="4.6"/><circle cx="576.6" cy="1804.4" r="4.6"/><circle cx="576.6" cy="1814.9" r="4.6"/><circle cx="576.6" cy="1819.5" r="4.6"/><circle cx="576.6" cy="1768.4" r="4.6"/><circle cx="576.6" cy="1802" r="4.6"/><circle cx="576.6" cy="1787.3" r="4.6"/><circle cx="576.6" cy="1816.6" r="4.6"/><circle cx="576.6" cy="1824.3" r="4.6"/><circle cx="576.6" cy="1836.2" r="4.6"/><circle cx="576.6" cy="1815.3" r="4.6"/><circle cx="576.6" cy="1806.4" r="4.6"/><circle cx="576.6" cy="1799" r="4.6"/><circle cx="576.6" cy="1792" r="4.6"/><circle cx="576.6" cy="1786.6" r="4.6"/><circle cx="576.6" cy="1773.2" r="4.6"/><circle cx="576.6" cy="1778.6" r="4.6"/><circle cx="576.6" cy="1786.9" r="4.6"/><circle cx="576.6" cy="1778.4" r="4.6"/><circle cx="576.6" cy="1797.5" r="4.6"/><circle cx="576.6" cy="1802.5" r="4.6"/><circle cx="576.6" cy="1770.4" r="4.6"/><circle cx="576.6" cy="1771.9" r="4.6"/><circle cx="576.6" cy="1808.8" r="4.6"/><circle cx="474.8" cy="1637.5" r="4.6"/><circle cx="449.3" cy="1657.3" r="4.6"/><circle cx="474.8" cy="1665" r="4.6"/><circle cx="474.8" cy="1676.9" r="4.6"/><circle cx="474.8" cy="1687.6" r="4.6"/><circle cx="449.3" cy="1681.7" r="4.6"/><circle cx="449.3" cy="1695.3" r="4.6"/><circle cx="449.3" cy="1707.2" r="4.6"/><circle cx="423.9" cy="1675.5" r="4.6"/><circle cx="423.9" cy="1700.5" r="4.6"/><circle cx="423.9" cy="1712.4" r="4.6"/><circle cx="423.9" cy="1723" r="4.6"/><circle cx="398.4" cy="1700.5" r="4.6"/><circle cx="398.4" cy="1720.7" r="4.6"/><circle cx="403.5" cy="1729.7" r="4.6"/><circle cx="398.4" cy="1733.9" r="4.6"/><circle cx="398.4" cy="1745.4" r="4.6"/><circle cx="403.5" cy="1751.6" r="4.6"/><circle cx="408.6" cy="1760" r="4.6"/><circle cx="347.5" cy="1666.7" r="4.6"/><circle cx="337.3" cy="1670.7" r="4.6"/><circle cx="342.4" cy="1676.9" r="4.6"/><circle cx="337.3" cy="1679.6" r="4.6"/><circle cx="342.4" cy="1684.8" r="4.6"/><circle cx="337.3" cy="1686.9" r="4.6"/><circle cx="342.4" cy="1695.3" r="4.6"/><circle cx="342.4" cy="1699.9" r="4.6"/><circle cx="286.4" cy="1684.2" r="4.6"/><circle cx="281.3" cy="1696.7" r="4.6"/><circle cx="291.5" cy="1696.3" r="4.6"/><circle cx="276.3" cy="1708.4" r="4.6"/><circle cx="296.6" cy="1718.9" r="4.6"/><circle cx="306.8" cy="1720.9" r="4.6"/><circle cx="271.2" cy="1720.3" r="4.6"/><circle cx="250.8" cy="1726.6" r="4.6"/><circle cx="266.1" cy="1728.7" r="4.6"/><circle cx="261" cy="1732.8" r="4.6"/><circle cx="271.2" cy="1733.9" r="4.6"/><circle cx="255.9" cy="1738" r="4.6"/><circle cx="276.3" cy="1741.2" r="4.6"/><circle cx="250.8" cy="1748.5" r="4.6"/><circle cx="245.7" cy="1755.4" r="4.6"/><circle cx="286.4" cy="1747.4" r="4.6"/><circle cx="296.6" cy="1745.8" r="4.6"/><circle cx="373" cy="1730.7" r="4.6"/><circle cx="373" cy="1748.1" r="4.6"/><circle cx="337.3" cy="1733.5" r="4.6"/><circle cx="337.3" cy="1746.4" r="4.6"/><circle cx="347.5" cy="1749.5" r="4.6"/><circle cx="322.1" cy="1751.6" r="4.6"/><circle cx="332.3" cy="1757.5" r="4.6"/><circle cx="444.3" cy="1736.4" r="4.6"/><circle cx="459.5" cy="1723.4" r="4.6"/><circle cx="459.5" cy="1724.1" r="4.6"/><circle cx="474.8" cy="1746" r="4.6"/><circle cx="505.3" cy="1733.2" r="4.6"/><circle cx="515.5" cy="1705.3" r="4.6"/><circle cx="535.9" cy="1709.5" r="4.6"/><circle cx="500.3" cy="1748.5" r="4.6"/><circle cx="525.7" cy="1745.4" r="4.6"/><circle cx="520.6" cy="1754.7" r="4.6"/><circle cx="485" cy="1757.5" r="4.6"/><circle cx="485" cy="1757.9" r="4.6"/><circle cx="449.3" cy="1757.5" r="4.6"/><circle cx="454.4" cy="1763.1" r="4.6"/><circle cx="423.9" cy="1751.6" r="4.6"/><circle cx="434.1" cy="1754.7" r="4.6"/><circle cx="418.8" cy="1766.2" r="4.6"/><circle cx="266.1" cy="1751.6" r="4.6"/><circle cx="271.2" cy="1749.5" r="4.6"/><circle cx="276.3" cy="1753.7" r="4.6"/><circle cx="281.3" cy="1749.5" r="4.6"/><circle cx="286.4" cy="1753.7" r="4.6"/><circle cx="261" cy="1755.8" r="4.6"/><circle cx="255.9" cy="1760" r="4.6"/><circle cx="266.1" cy="1741.2" r="4.6"/><circle cx="271.2" cy="1743.3" r="4.6"/><circle cx="235.5" cy="1768.3" r="4.6"/><circle cx="230.4" cy="1776.7" r="4.6"/><circle cx="225.3" cy="1785" r="4.6"/><circle cx="220.3" cy="1791.3" r="4.6"/><circle cx="215.2" cy="1797.5" r="4.6"/><circle cx="210.1" cy="1797.5" r="4.6"/><circle cx="199.9" cy="1823.6" r="4.6"/><circle cx="194.8" cy="1837.2" r="4.6"/><circle cx="184.6" cy="1872.6" r="4.6"/><circle cx="322.1" cy="1768.3" r="4.6"/><circle cx="337.3" cy="1768.3" r="4.6"/><circle cx="347.5" cy="1766.2" r="4.6"/><circle cx="352.6" cy="1772.5" r="4.6"/><circle cx="373" cy="1762" r="4.6"/><circle cx="373" cy="1768.3" r="4.6"/><circle cx="383.2" cy="1768.3" r="4.6"/><circle cx="388.3" cy="1768.3" r="4.6"/><circle cx="393.3" cy="1773.5" r="4.6"/><circle cx="408.6" cy="1779.8" r="4.6"/><circle cx="413.7" cy="1776.7" r="4.6"/><circle cx="418.8" cy="1770.4" r="4.6"/><circle cx="423.9" cy="1770.4" r="4.6"/><circle cx="429" cy="1773.5" r="4.6"/><circle cx="444.3" cy="1778.7" r="4.6"/><circle cx="449.3" cy="1780.8" r="4.6"/><circle cx="474.8" cy="1757.9" r="4.6"/><circle cx="474.8" cy="1767.3" r="4.6"/><circle cx="515.5" cy="1705.3" r="4.6"/><circle cx="535.9" cy="1709.5" r="4.6"/><circle cx="546.1" cy="1709.5" r="4.6"/><circle cx="571.5" cy="1716.8" r="4.6"/><circle cx="561.3" cy="1725.5" r="4.6"/><circle cx="505.3" cy="1733.2" r="4.6"/><circle cx="546.1" cy="1741.2" r="4.6"/><circle cx="647.9" cy="1734.9" r="4.6"/><circle cx="637.7" cy="1741.6" r="4.6"/><circle cx="668.3" cy="1748.1" r="4.6"/><circle cx="668.3" cy="1762" r="4.6"/><circle cx="576.6" cy="1742.2" r="4.6"/><circle cx="586.8" cy="1750.6" r="4.6"/><circle cx="586.8" cy="1755.4" r="4.6"/><circle cx="627.5" cy="1753.7" r="4.6"/><circle cx="627.5" cy="1760" r="4.6"/><circle cx="632.6" cy="1758.5" r="4.6"/><circle cx="525.7" cy="1745.4" r="4.6"/><circle cx="520.6" cy="1754.7" r="4.6"/><circle cx="525.7" cy="1754.7" r="4.6"/><circle cx="500.3" cy="1748.5" r="4.6"/><circle cx="485" cy="1757.5" r="4.6"/><circle cx="444.3" cy="1736.4" r="4.6"/><circle cx="551.2" cy="1769.3" r="4.6"/><circle cx="551.2" cy="1774.6" r="4.6"/><circle cx="597" cy="1771.4" r="4.6"/><circle cx="586.8" cy="1775.6" r="4.6"/><circle cx="612.3" cy="1772.5" r="4.6"/><circle cx="607.2" cy="1775.6" r="4.6"/><circle cx="612.3" cy="1796.5" r="4.6"/><circle cx="627.5" cy="1780.8" r="4.6"/><circle cx="597" cy="1816.3" r="4.6"/><circle cx="627.5" cy="1819" r="4.6"/><circle cx="627.5" cy="1819.6" r="4.6"/><circle cx="637.7" cy="1823" r="4.6"/><circle cx="541" cy="1801.7" r="4.6"/><circle cx="546.1" cy="1807.9" r="4.6"/><circle cx="510.4" cy="1808.6" r="4.6"/><circle cx="515.5" cy="1818.4" r="4.6"/><circle cx="525.7" cy="1798.6" r="4.6"/><circle cx="525.7" cy="1805.9" r="4.6"/><circle cx="525.7" cy="1806.9" r="4.6"/><circle cx="495.2" cy="1821.5" r="4.6"/><circle cx="500.3" cy="1825.7" r="4.6"/><circle cx="505.3" cy="1831.9" r="4.6"/><circle cx="500.3" cy="1837.2" r="4.6"/><circle cx="500.3" cy="1839.2" r="4.6"/><circle cx="515.5" cy="1835.1" r="4.6"/><circle cx="495.2" cy="1854.5" r="4.6"/><circle cx="535.9" cy="1855.9" r="4.6"/><circle cx="535.9" cy="1864.3" r="4.6"/><circle cx="551.2" cy="1862.2" r="4.6"/><circle cx="459.5" cy="1869.5" r="4.6"/><circle cx="367.9" cy="1881" r="4.6"/><circle cx="464.6" cy="1851.8" r="4.6"/><circle cx="464.6" cy="1855.9" r="4.6"/><circle cx="449.3" cy="1855.9" r="4.6"/><circle cx="423.9" cy="1859.1" r="4.6"/><circle cx="403.5" cy="1866.4" r="4.6"/><circle cx="408.6" cy="1862.2" r="4.6"/><circle cx="393.3" cy="1857" r="4.6"/><circle cx="383.2" cy="1862.2" r="4.6"/><circle cx="383.2" cy="1855.9" r="4.6"/><circle cx="535.9" cy="1782.9" r="4.6"/><circle cx="525.7" cy="1774.6" r="4.6"/><circle cx="520.6" cy="1778.7" r="4.6"/><circle cx="515.5" cy="1780.8" r="4.6"/><circle cx="490.1" cy="1772.5" r="4.6"/><circle cx="495.2" cy="1773.5" r="4.6"/><circle cx="434.1" cy="1753.7" r="4.6"/><circle cx="423.9" cy="1751.6" r="4.6"/></g>
<path class="gl" d="M215.2 1888.6 L217.2 1884.1 L219.2 1879.3 L221.3 1874.3 L223.3 1869.2 L225.3 1864.2 L227.3 1859.2 L229.4 1854.4 L231.4 1849.6 L233.4 1844.9 L235.5 1840.3 L237.5 1835.8 L239.5 1831.4 L241.5 1827.2 L243.6 1823 L245.6 1819 L247.6 1815.1 L249.7 1811.3 L251.7 1807.6 L253.7 1804.1 L255.7 1800.6 L257.8 1797.2 L259.8 1794 L261.8 1790.8 L263.8 1787.7 L265.9 1784.7 L267.9 1781.8 L269.9 1779 L272 1776.3 L274 1773.6 L276 1771 L278 1768.5 L280.1 1766.1 L282.1 1763.7 L284.1 1761.4 L286.2 1759.2 L288.2 1757 L290.2 1754.9 L292.2 1752.8 L294.3 1750.8 L296.3 1748.8 L298.3 1746.9 L300.4 1745 L302.4 1743.2 L304.4 1741.5 L306.4 1739.7 L308.5 1738 L310.5 1736.4 L312.5 1734.7 L314.6 1733.2 L316.6 1731.6 L318.6 1730.1 L320.6 1728.6 L322.7 1727.2 L324.7 1725.7 L326.7 1724.3 L328.8 1723 L330.8 1721.6 L332.8 1720.3 L334.8 1719 L336.9 1717.7 L338.9 1716.4 L340.9 1715.2 L343 1714 L345 1712.8 L347 1711.6 L349 1710.4 L351.1 1709.3 L353.1 1708.1 L355.1 1707 L357.2 1705.9 L359.2 1704.8 L361.2 1703.7 L363.2 1702.7 L365.3 1701.6 L367.3 1700.6 L369.3 1699.5 L371.4 1698.5 L373.4 1697.5 L375.4 1696.5 L377.4 1695.5 L379.5 1694.5 L381.5 1693.6 L383.5 1692.6 L385.6 1691.6 L387.6 1690.7 L389.6 1689.7 L391.6 1688.8 L393.7 1687.9 L395.7 1686.9 L397.7 1686 L399.8 1685.1 L401.8 1684.2 L403.8 1683.3 L405.8 1682.4 L407.9 1681.5 L409.9 1680.6 L411.9 1679.7 L414 1678.8 L416 1677.9 L418 1677.1 L420 1676.2 L422.1 1675.3 L424.1 1674.5 L426.1 1673.6 L428.2 1672.8 L430.2 1671.9 L432.2 1671 L434.2 1670.2 L436.3 1669.3 L438.3 1668.5 L440.3 1667.7 L442.3 1666.8 L444.4 1666 L446.4 1665.1 L448.4 1664.3 L450.5 1663.5 L452.5 1662.6 L454.5 1661.8 L456.5 1661 L458.6 1660.2 L460.6 1659.3 L462.6 1658.5 L464.7 1657.7 L466.7 1656.9 L468.7 1656.1 L470.7 1655.2 L472.8 1654.4 L474.8 1653.6"/>
<path class="gl" d="M194.8 1886.1 L196.9 1880.9 L198.9 1876.3 L201 1872.1 L203 1868.1 L205.1 1864.4 L207.1 1860.8 L209.2 1857.5 L211.2 1854.3 L213.3 1851.2 L215.3 1848.3 L217.4 1845.5 L219.4 1842.8 L221.5 1840.2 L223.5 1837.7 L225.6 1835.4 L227.6 1833.1 L229.7 1830.9 L231.7 1828.7 L233.8 1826.7 L235.8 1824.7 L237.9 1822.8 L239.9 1821 L242 1819.2 L244 1817.4 L246.1 1815.8 L248.1 1814.1 L250.2 1812.6 L252.2 1811.1 L254.3 1809.6 L256.4 1808.2 L258.4 1806.8 L260.5 1805.4 L262.5 1804.1 L264.6 1802.8 L266.6 1801.6 L268.7 1800.4 L270.7 1799.2 L272.8 1798.1 L274.8 1797 L276.9 1795.9 L278.9 1794.8 L281 1793.8 L283 1792.8 L285.1 1791.8 L287.1 1790.8 L289.2 1789.9 L291.2 1788.9 L293.3 1788 L295.3 1787.2 L297.4 1786.3 L299.4 1785.4 L301.5 1784.6 L303.5 1783.8 L305.6 1783 L307.6 1782.2 L309.7 1781.4 L311.7 1780.7 L313.8 1779.9 L315.8 1779.2 L317.9 1778.5 L319.9 1777.8 L322 1777.1 L324.1 1776.4 L326.1 1775.7 L328.2 1775 L330.2 1774.4 L332.3 1773.7"/>
<path class="gl" d="M206.5 1889.5 L212.3 1883.2 L218 1877.5 L223.8 1872.8 L229.5 1868.8 L235.3 1865.1 L241 1861.6 L246.8 1857.9 L252.6 1854.2 L258.3 1850.6 L264.1 1847 L269.8 1843.6 L275.6 1840.4 L281.3 1837.2 L287.1 1834.1 L292.8 1831 L298.6 1828 L304.4 1825.2 L310.1 1822.5 L315.9 1820 L321.6 1817.6 L327.4 1815.5 L333.1 1813.4 L338.9 1811.5 L344.6 1809.6 L350.4 1807.8 L356.2 1806.1 L361.9 1804.5 L367.7 1803 L373.4 1801.6 L379.2 1800.3 L384.9 1799.2 L390.7 1798.1 L396.4 1797 L402.2 1796 L407.9 1795 L413.7 1794 L419.5 1792.9 L425.2 1791.8 L431 1790.6 L436.7 1789.4 L442.5 1788.2 L448.2 1786.9 L454 1785.7 L459.7 1784.4 L465.5 1783.2 L471.3 1781.9 L477 1780.6 L482.8 1779.3 L488.5 1778 L494.3 1776.7 L500 1775.4 L505.8 1774.1 L511.5 1772.9 L517.3 1771.7 L523.1 1770.7 L528.8 1769.6 L534.6 1768.7 L540.3 1767.7 L546.1 1766.9"/>
<path class="gl" d="M230.4 1890.1 L237.3 1883.6 L244.2 1876.7 L251.1 1869.4 L258.1 1862.7 L265 1856.5 L271.9 1850.8 L278.8 1845.7 L285.7 1841.3 L292.6 1837.3 L299.5 1833.7 L306.4 1830.4 L313.3 1827.3 L320.2 1824.4 L327.1 1821.8 L334 1819.3 L340.9 1817 L347.8 1814.8 L354.7 1812.8 L361.6 1811 L368.5 1809.4 L375.4 1807.9 L382.3 1806.6 L389.2 1805.7 L396.1 1804.8 L403 1804.1 L409.9 1803.4 L416.8 1802.8 L423.7 1802.2 L430.6 1801.6 L437.5 1801.1 L444.4 1800.5 L451.3 1800 L458.2 1799.6 L465.1 1799.1 L472 1798.6 L478.9 1798.2 L485.8 1797.7 L492.8 1797.2 L499.7 1796.7 L506.6 1796.2 L513.5 1795.7 L520.4 1795.2 L527.3 1794.7 L534.2 1794.2 L541.1 1793.8 L548 1793.3 L554.9 1792.8 L561.8 1792.4 L568.7 1791.9 L575.6 1791.5 L582.5 1791.1 L589.4 1790.7 L596.3 1790.2 L603.2 1789.8 L610.1 1789.4 L617 1789 L623.9 1788.6 L630.8 1788.2 L637.7 1787.8"/>
<path class="gl" d="M233 1890.1 L237.2 1886.8 L241.4 1883.2 L245.5 1879.4 L249.7 1875.2 L253.9 1870.8 L258.1 1866.8 L262.3 1863.1 L266.5 1859.6 L270.7 1856.3 L274.8 1853.1 L279 1850.2 L283.2 1847.5 L287.4 1845 L291.6 1842.6 L295.8 1840.4 L299.9 1838.3 L304.1 1836.2 L308.3 1834.4 L312.5 1832.6 L316.7 1830.9 L320.9 1829.3 L325.1 1827.8 L329.2 1826.3 L333.4 1824.8 L337.6 1823.3 L341.8 1821.9 L346 1820.5 L350.2 1819.2 L354.3 1817.9 L358.5 1816.6 L362.7 1815.4 L366.9 1814.2 L371.1 1813.1 L375.3 1812 L379.5 1811 L383.6 1810.2 L387.8 1809.5 L392 1808.8 L396.2 1808.2 L400.4 1807.6 L404.6 1807 L408.8 1806.5 L412.9 1806 L417.1 1805.5 L421.3 1805 L425.5 1804.6 L429.7 1804.2 L433.9 1803.8 L438 1803.4 L442.2 1803.1 L446.4 1802.7 L450.6 1802.4 L454.8 1802.1 L459 1801.7 L463.2 1801.5 L467.3 1801.2 L471.5 1800.9 L475.7 1800.7 L479.9 1800.5"/>
<path class="gl" d="M235.5 1890.1 L238.3 1887.8 L241.1 1885.5 L243.8 1883.2 L246.6 1880.9 L249.3 1878.5 L252.1 1876 L254.9 1873.5 L257.6 1871.1 L260.4 1868.8 L263.1 1866.6 L265.9 1864.4 L268.7 1862.3 L271.4 1860.2 L274.2 1858.2 L276.9 1856.3 L279.7 1854.6 L282.5 1852.9 L285.2 1851.3 L288 1849.8 L290.8 1848.3 L293.5 1846.8 L296.3 1845.4 L299 1844.1 L301.8 1842.8 L304.6 1841.5 L307.3 1840.2 L310.1 1839 L312.8 1837.9 L315.6 1836.8 L318.4 1835.7 L321.1 1834.7 L323.9 1833.7 L326.7 1832.6 L329.4 1831.6 L332.2 1830.6 L334.9 1829.5 L337.7 1828.4 L340.5 1827.4 L343.2 1826.3 L346 1825.2 L348.7 1824.2 L351.5 1823.2 L354.3 1822.2 L357 1821.3 L359.8 1820.5 L362.5 1819.6 L365.3 1818.8 L368.1 1818.1 L370.8 1817.3 L373.6 1816.6 L376.4 1815.9 L379.1 1815.2 L381.9 1814.4 L384.6 1813.7 L387.4 1813 L390.2 1812.3 L392.9 1811.6 L395.7 1810.9 L398.4 1810.2"/>
<path d="M174.4 1887.4 L178 1886.7 L181.5 1885.8 L185.1 1884.7 L188.7 1883.5 L192.2 1882.2 L195.8 1880.7 L199.3 1879.1 L202.9 1877.4 L206.4 1875.6 L210 1873.7 L213.5 1871.7 L217.1 1869.6 L220.6 1867.5 L224.2 1865.3 L227.7 1863 L231.3 1860.7 L234.8 1858.3 L238.4 1856 L241.9 1853.6 L245.5 1851.2 L249 1848.8 L252.6 1846.5 L256.2 1844.1 L259.7 1841.8 L263.3 1839.5 L266.8 1837.2 L270.4 1835 L273.9 1832.9 L277.5 1830.9 L281 1829 L284.6 1827 L288.1 1825.2 L291.7 1823.3 L295.2 1821.5 L298.8 1819.8 L302.3 1818 L305.9 1816.4 L309.4 1814.7 L313 1813.1 L316.5 1811.6 L320.1 1810.1 L323.7 1808.7 L327.2 1807.3 L330.8 1805.9 L334.3 1804.6 L337.9 1803.4 L341.4 1802.2 L345 1801 L348.5 1799.9 L352.1 1798.8 L355.6 1797.8 L359.2 1796.8 L362.7 1795.8 L366.3 1794.9 L369.8 1794 L373.4 1793.2 L376.9 1792.4 L380.5 1791.6 L384 1790.9 L387.6 1790.2 L391.2 1789.5 L394.7 1788.9 L398.3 1788.3 L401.8 1787.8 L405.4 1787.2 L408.9 1786.7 L412.5 1786.3 L416 1785.8 L419.6 1785.4 L423.1 1785 L426.7 1784.7 L430.2 1784.3 L433.8 1784 L437.3 1783.7 L440.9 1783.5 L444.4 1783.2 L448 1783 L451.5 1782.8 L455.1 1782.7 L458.7 1782.5 L462.2 1782.4 L465.8 1782.3 L469.3 1782.2 L472.9 1782.1 L476.4 1782 L480 1782 L483.5 1781.9 L487.1 1781.9 L490.6 1781.9 L494.2 1781.9 L497.7 1781.9 L501.3 1782 L504.8 1782 L508.4 1782 L511.9 1782.1 L515.5 1782.2 L519 1782.2 L522.6 1782.3 L526.2 1782.4 L529.7 1782.5 L533.3 1782.6 L536.8 1782.7 L540.4 1782.8 L543.9 1782.9 L547.5 1783 L551 1783.1 L554.6 1783.2 L558.1 1783.3 L561.7 1783.4 L565.2 1783.5 L568.8 1783.6 L572.3 1783.7 L575.9 1783.8 L579.4 1783.9 L583 1783.9 L586.5 1784 L590.1 1784.1 L593.7 1784.1 L597.2 1784.2 L600.8 1784.2 L604.3 1784.2 L607.9 1784.2 L611.4 1784.2 L615 1784.2 L618.5 1784.2 L622.1 1784.1 L625.6 1784.1 L629.2 1784 L632.7 1783.9 L636.3 1783.8 L639.8 1783.7 L643.4 1783.5 L646.9 1783.4 L650.5 1783.2 L654 1783 L657.6 1782.8 L661.2 1782.5 L664.7 1782.2 L668.3 1781.9 L668.3 1794.5 L664.7 1794.8 L661.2 1795.1 L657.6 1795.3 L654 1795.6 L650.5 1795.8 L646.9 1796 L643.4 1796.1 L639.8 1796.3 L636.3 1796.4 L632.7 1796.5 L629.2 1796.6 L625.6 1796.7 L622.1 1796.7 L618.5 1796.8 L615 1796.8 L611.4 1796.8 L607.9 1796.8 L604.3 1796.8 L600.8 1796.8 L597.2 1796.8 L593.7 1796.7 L590.1 1796.7 L586.5 1796.6 L583 1796.5 L579.4 1796.5 L575.9 1796.4 L572.3 1796.3 L568.8 1796.2 L565.2 1796.1 L561.7 1796 L558.1 1795.9 L554.6 1795.8 L551 1795.7 L547.5 1795.6 L543.9 1795.5 L540.4 1795.4 L536.8 1795.3 L533.3 1795.2 L529.7 1795.1 L526.2 1795 L522.6 1794.9 L519 1794.8 L515.5 1794.8 L511.9 1794.7 L508.4 1794.6 L504.8 1794.6 L501.3 1794.5 L497.7 1794.5 L494.2 1794.5 L490.6 1794.5 L487.1 1794.5 L483.5 1794.5 L480 1794.6 L476.4 1794.6 L472.9 1794.7 L469.3 1794.7 L465.8 1794.8 L462.2 1795 L458.7 1795.1 L455.1 1795.2 L451.5 1795.4 L448 1795.6 L444.4 1795.8 L440.9 1796.1 L437.3 1796.3 L433.8 1796.6 L430.2 1796.9 L426.7 1797.2 L423.1 1797.6 L419.6 1798 L416 1798.4 L412.5 1798.8 L408.9 1799.3 L405.4 1799.8 L401.8 1800.3 L398.3 1800.9 L394.7 1801.5 L391.2 1802.1 L387.6 1802.8 L384 1803.5 L380.5 1804.2 L376.9 1805 L373.4 1805.8 L369.8 1806.6 L366.3 1807.5 L362.7 1808.4 L359.2 1809.4 L355.6 1810.4 L352.1 1811.4 L348.5 1812.5 L345 1813.6 L341.4 1814.8 L337.9 1816 L334.3 1817.2 L330.8 1818.5 L327.2 1819.9 L323.7 1821.3 L320.1 1822.7 L316.5 1824.2 L313 1825.7 L309.4 1827.3 L305.9 1829 L302.3 1830.6 L298.8 1832.3 L295.2 1834.1 L291.7 1835.9 L288.1 1837.8 L284.6 1839.6 L281 1841.6 L277.5 1843.5 L273.9 1845.5 L270.4 1847.5 L266.8 1849.3 L263.3 1851.2 L259.7 1853.2 L256.2 1855.1 L252.6 1857.1 L249 1859.1 L245.5 1861.1 L241.9 1863.1 L238.4 1865.1 L234.8 1867.1 L231.3 1869.1 L227.7 1871 L224.2 1872.9 L220.6 1874.8 L217.1 1876.5 L213.5 1878.3 L210 1879.9 L206.4 1881.4 L202.9 1882.9 L199.3 1884.2 L195.8 1885.4 L192.2 1886.5 L188.7 1887.5 L185.1 1888.3 L181.5 1889 L178 1889.5 L174.4 1889.8Z" fill="#D55E00" fill-opacity="0.2"/>
<path class="ml" stroke="#D55E00" d="M174.4 1888.6 L178 1888.1 L181.5 1887.4 L185.1 1886.5 L188.7 1885.5 L192.2 1884.4 L195.8 1883.1 L199.3 1881.7 L202.9 1880.2 L206.4 1878.5 L210 1876.8 L213.5 1875 L217.1 1873.1 L220.6 1871.1 L224.2 1869.1 L227.7 1867 L231.3 1864.9 L234.8 1862.7 L238.4 1860.6 L241.9 1858.4 L245.5 1856.2 L249 1854 L252.6 1851.8 L256.2 1849.6 L259.7 1847.5 L263.3 1845.4 L266.8 1843.3 L270.4 1841.2 L273.9 1839.2 L277.5 1837.2 L281 1835.3 L284.6 1833.3 L288.1 1831.5 L291.7 1829.6 L295.2 1827.8 L298.8 1826.1 L302.3 1824.3 L305.9 1822.7 L309.4 1821 L313 1819.4 L316.5 1817.9 L320.1 1816.4 L323.7 1815 L327.2 1813.6 L330.8 1812.2 L334.3 1810.9 L337.9 1809.7 L341.4 1808.5 L345 1807.3 L348.5 1806.2 L352.1 1805.1 L355.6 1804.1 L359.2 1803.1 L362.7 1802.1 L366.3 1801.2 L369.8 1800.3 L373.4 1799.5 L376.9 1798.7 L380.5 1797.9 L384 1797.2 L387.6 1796.5 L391.2 1795.8 L394.7 1795.2 L398.3 1794.6 L401.8 1794.1 L405.4 1793.5 L408.9 1793 L412.5 1792.5 L416 1792.1 L419.6 1791.7 L423.1 1791.3 L426.7 1790.9 L430.2 1790.6 L433.8 1790.3 L437.3 1790 L440.9 1789.8 L444.4 1789.5 L448 1789.3 L451.5 1789.1 L455.1 1788.9 L458.7 1788.8 L462.2 1788.7 L465.8 1788.5 L469.3 1788.4 L472.9 1788.4 L476.4 1788.3 L480 1788.3 L483.5 1788.2 L487.1 1788.2 L490.6 1788.2 L494.2 1788.2 L497.7 1788.2 L501.3 1788.3 L504.8 1788.3 L508.4 1788.3 L511.9 1788.4 L515.5 1788.5 L519 1788.5 L522.6 1788.6 L526.2 1788.7 L529.7 1788.8 L533.3 1788.9 L536.8 1789 L540.4 1789.1 L543.9 1789.2 L547.5 1789.3 L551 1789.4 L554.6 1789.5 L558.1 1789.6 L561.7 1789.7 L565.2 1789.8 L568.8 1789.9 L572.3 1790 L575.9 1790.1 L579.4 1790.2 L583 1790.2 L586.5 1790.3 L590.1 1790.4 L593.7 1790.4 L597.2 1790.5 L600.8 1790.5 L604.3 1790.5 L607.9 1790.5 L611.4 1790.5 L615 1790.5 L618.5 1790.5 L622.1 1790.4 L625.6 1790.4 L629.2 1790.3 L632.7 1790.2 L636.3 1790.1 L639.8 1790 L643.4 1789.8 L646.9 1789.7 L650.5 1789.5 L654 1789.3 L657.6 1789 L661.2 1788.8 L664.7 1788.5 L668.3 1788.2"/>
<path class="axl" d="M143.9 1382.2 V1914.3 H703.9"/>
<path class="tkl" d="M132.5 1890.1 H143 M132.5 1769 H143 M132.5 1648 H143 M132.5 1526.9 H143 M132.5 1405.9 H143 M169.3 1915.2 V1925.2 M296.6 1915.2 V1925.2 M423.9 1915.2 V1925.2 M551.2 1915.2 V1925.2 M678.4 1915.2 V1925.2"/>
<text class="tk" text-anchor="end" x="123.6" y="1897">0</text><text class="tk" text-anchor="end" x="123.6" y="1776">100</text><text class="tk" text-anchor="end" x="123.6" y="1654.9">200</text><text class="tk" text-anchor="end" x="123.6" y="1533.8">300</text><text class="tk" text-anchor="end" x="123.6" y="1412.8">400</text>
<text class="tk" text-anchor="middle" x="169.3" y="1949">0</text><text class="tk" text-anchor="middle" x="296.6" y="1949">25</text><text class="tk" text-anchor="middle" x="423.9" y="1949">50</text><text class="tk" text-anchor="middle" x="551.2" y="1949">75</text><text class="tk" text-anchor="middle" x="678.4" y="1949">100</text>
<text class="ti" x="144.6" y="1350.6">Pinus</text>
<text class="an" x="172.1" y="1413.5">Countries: 35</text><text class="an" x="172.1" y="1440.1">Sites: 325</text><text class="an" x="172.1" y="1466.4">Observations: 2018</text><text class="an" x="172.1" y="1491.4">Species: 32</text>
</g>
<g id="panel-populus">
<g class="pt"><circle cx="845.8" cy="1871.6" r="4.6"/><circle cx="845.8" cy="1853.3" r="4.6"/><circle cx="845.8" cy="1869" r="4.6"/><circle cx="876.4" cy="1873.5" r="4.6"/><circle cx="881.5" cy="1857.4" r="4.6"/><circle cx="856" cy="1857.2" r="4.6"/><circle cx="856" cy="1875" r="4.6"/><circle cx="886.5" cy="1876.4" r="4.6"/><circle cx="886.5" cy="1860.1" r="4.6"/><circle cx="835.6" cy="1888.6" r="4.6"/><circle cx="856" cy="1842.9" r="4.6"/><circle cx="845.8" cy="1865.5" r="4.6"/><circle cx="850.9" cy="1846.9" r="4.6"/><circle cx="876.4" cy="1853.5" r="4.6"/><circle cx="845.8" cy="1857.1" r="4.6"/><circle cx="850.9" cy="1842.9" r="4.6"/><circle cx="856" cy="1835.2" r="4.6"/><circle cx="886.5" cy="1861.2" r="4.6"/><circle cx="871.3" cy="1847.4" r="4.6"/><circle cx="856" cy="1884.6" r="4.6"/><circle cx="886.5" cy="1874.5" r="4.6"/><circle cx="835.6" cy="1887.1" r="4.6"/><circle cx="850.9" cy="1883.7" r="4.6"/><circle cx="881.5" cy="1884" r="4.6"/><circle cx="876.4" cy="1865.7" r="4.6"/><circle cx="845.8" cy="1878.6" r="4.6"/><circle cx="850.9" cy="1887.1" r="4.6"/><circle cx="866.2" cy="1857.5" r="4.6"/><circle cx="886.5" cy="1861" r="4.6"/><circle cx="866.2" cy="1832.2" r="4.6"/><circle cx="881.5" cy="1862.1" r="4.6"/><circle cx="856" cy="1864.6" r="4.6"/><circle cx="871.3" cy="1839.9" r="4.6"/><circle cx="871.3" cy="1846" r="4.6"/><circle cx="835.6" cy="1887.2" r="4.6"/><circle cx="840.7" cy="1877.5" r="4.6"/><circle cx="856" cy="1862.1" r="4.6"/><circle cx="871.3" cy="1881.1" r="4.6"/><circle cx="866.2" cy="1861.7" r="4.6"/><circle cx="845.8" cy="1843.1" r="4.6"/><circle cx="840.7" cy="1881" r="4.6"/><circle cx="856" cy="1859.6" r="4.6"/><circle cx="886.5" cy="1871.6" r="4.6"/><circle cx="876.4" cy="1878.1" r="4.6"/><circle cx="856" cy="1885.8" r="4.6"/><circle cx="861.1" cy="1871.4" r="4.6"/><circle cx="866.2" cy="1885.8" r="4.6"/><circle cx="856" cy="1830.8" r="4.6"/><circle cx="835.6" cy="1884.7" r="4.6"/><circle cx="861.1" cy="1851.2" r="4.6"/><circle cx="856" cy="1866.2" r="4.6"/><circle cx="881.5" cy="1878.5" r="4.6"/><circle cx="861.1" cy="1855.3" r="4.6"/><circle cx="866.2" cy="1868.4" r="4.6"/><circle cx="835.6" cy="1883.3" r="4.6"/><circle cx="845.8" cy="1855.8" r="4.6"/><circle cx="886.5" cy="1863.2" r="4.6"/><circle cx="850.9" cy="1841.3" r="4.6"/><circle cx="850.9" cy="1877.8" r="4.6"/><circle cx="856" cy="1855.4" r="4.6"/><circle cx="861.1" cy="1863.3" r="4.6"/><circle cx="850.9" cy="1850.2" r="4.6"/><circle cx="850.9" cy="1860.1" r="4.6"/><circle cx="835.6" cy="1889.5" r="4.6"/><circle cx="871.3" cy="1881.5" r="4.6"/><circle cx="850.9" cy="1889.1" r="4.6"/><circle cx="866.2" cy="1876.6" r="4.6"/><circle cx="840.7" cy="1885.8" r="4.6"/><circle cx="881.5" cy="1856.1" r="4.6"/><circle cx="835.6" cy="1881" r="4.6"/><circle cx="840.7" cy="1880.5" r="4.6"/><circle cx="856" cy="1845.4" r="4.6"/><circle cx="840.7" cy="1869.8" r="4.6"/><circle cx="845.8" cy="1858.4" r="4.6"/><circle cx="876.4" cy="1863.5" r="4.6"/><circle cx="835.6" cy="1884.6" r="4.6"/><circle cx="850.9" cy="1851.1" r="4.6"/><circle cx="866.2" cy="1886" r="4.6"/><circle cx="856" cy="1856.1" r="4.6"/><circle cx="876.4" cy="1862.2" r="4.6"/><circle cx="861.1" cy="1848" r="4.6"/><circle cx="845.8" cy="1850.9" r="4.6"/><circle cx="856" cy="1856.7" r="4.6"/><circle cx="845.8" cy="1870.5" r="4.6"/><circle cx="850.9" cy="1883.5" r="4.6"/><circle cx="881.5" cy="1850.9" r="4.6"/><circle cx="856" cy="1888.4" r="4.6"/><circle cx="886.5" cy="1883.7" r="4.6"/><circle cx="856" cy="1861.8" r="4.6"/><circle cx="871.3" cy="1858.2" r="4.6"/><circle cx="861.1" cy="1865.8" r="4.6"/><circle cx="886.5" cy="1861.4" r="4.6"/><circle cx="850.9" cy="1846.2" r="4.6"/><circle cx="881.5" cy="1869.9" r="4.6"/><circle cx="840.7" cy="1889.5" r="4.6"/><circle cx="932.4" cy="1647.4" r="4.6"/><circle cx="962.9" cy="1651.3" r="4.6"/><circle cx="983.3" cy="1692" r="4.6"/><circle cx="1069.8" cy="1685.7" r="4.6"/><circle cx="942.5" cy="1704.5" r="4.6"/><circle cx="906.9" cy="1725.2" r="4.6"/><circle cx="932.4" cy="1730.3" r="4.6"/><circle cx="973.1" cy="1725.9" r="4.6"/><circle cx="978.2" cy="1727.5" r="4.6"/><circle cx="983.3" cy="1736.1" r="4.6"/><circle cx="968" cy="1739.2" r="4.6"/><circle cx="962.9" cy="1747.2" r="4.6"/><circle cx="912" cy="1767.9" r="4.6"/><circle cx="922.2" cy="1772.1" r="4.6"/><circle cx="866.2" cy="1780.9" r="4.6"/><circle cx="886.5" cy="1780.4" r="4.6"/><circle cx="881.5" cy="1786.4" r="4.6"/><circle cx="942.5" cy="1784.3" r="4.6"/><circle cx="947.6" cy="1782.8" r="4.6"/><circle cx="973.1" cy="1783.5" r="4.6"/><circle cx="871.3" cy="1792.9" r="4.6"/><circle cx="876.4" cy="1798.4" r="4.6"/><circle cx="861.1" cy="1800.8" r="4.6"/><circle cx="861.1" cy="1804.7" r="4.6"/><circle cx="871.3" cy="1800.8" r="4.6"/><circle cx="881.5" cy="1803.9" r="4.6"/><circle cx="896.7" cy="1795.7" r="4.6"/><circle cx="906.9" cy="1791.4" r="4.6"/><circle cx="906.9" cy="1792.9" r="4.6"/><circle cx="906.9" cy="1800" r="4.6"/><circle cx="942.5" cy="1799.2" r="4.6"/><circle cx="957.8" cy="1795.3" r="4.6"/><circle cx="866.2" cy="1813.3" r="4.6"/><circle cx="866.2" cy="1814.1" r="4.6"/><circle cx="881.5" cy="1815.6" r="4.6"/><circle cx="881.5" cy="1822.3" r="4.6"/><circle cx="856" cy="1821.6" r="4.6"/><circle cx="850.9" cy="1827.4" r="4.6"/><circle cx="896.7" cy="1818.7" r="4.6"/><circle cx="912" cy="1813.3" r="4.6"/><circle cx="998.5" cy="1810.5" r="4.6"/><circle cx="973.1" cy="1818.3" r="4.6"/><circle cx="952.7" cy="1819.2" r="4.6"/><circle cx="942.5" cy="1822.7" r="4.6"/><circle cx="947.6" cy="1826.6" r="4.6"/><circle cx="947.6" cy="1828.1" r="4.6"/><circle cx="947.6" cy="1832.8" r="4.6"/><circle cx="932.4" cy="1827.4" r="4.6"/><circle cx="922.2" cy="1831.3" r="4.6"/><circle cx="912" cy="1829.7" r="4.6"/><circle cx="906.9" cy="1832.8" r="4.6"/><circle cx="901.8" cy="1834.4" r="4.6"/><circle cx="896.7" cy="1837.5" r="4.6"/><circle cx="1008.7" cy="1826.1" r="4.6"/><circle cx="1034.2" cy="1839.1" r="4.6"/><circle cx="1039.3" cy="1841.8" r="4.6"/><circle cx="927.3" cy="1843.8" r="4.6"/><circle cx="942.5" cy="1846.1" r="4.6"/><circle cx="952.7" cy="1848.2" r="4.6"/><circle cx="912" cy="1842.2" r="4.6"/><circle cx="906.9" cy="1846.1" r="4.6"/><circle cx="906.9" cy="1854" r="4.6"/><circle cx="912" cy="1857.1" r="4.6"/><circle cx="891.6" cy="1854.7" r="4.6"/><circle cx="891.6" cy="1858.7" r="4.6"/><circle cx="932.4" cy="1859.4" r="4.6"/><circle cx="932.4" cy="1859.9" r="4.6"/><circle cx="983.3" cy="1857.4" r="4.6"/><circle cx="1008.7" cy="1864.1" r="4.6"/><circle cx="947.6" cy="1867.7" r="4.6"/><circle cx="937.5" cy="1869.9" r="4.6"/><circle cx="942.5" cy="1872" r="4.6"/><circle cx="942.5" cy="1876.7" r="4.6"/><circle cx="942.5" cy="1878.2" r="4.6"/><circle cx="917.1" cy="1872.3" r="4.6"/><circle cx="906.9" cy="1867.6" r="4.6"/><circle cx="891.6" cy="1864.1" r="4.6"/><circle cx="891.6" cy="1870.4" r="4.6"/><circle cx="886.5" cy="1868" r="4.6"/><circle cx="881.5" cy="1885.6" r="4.6"/><circle cx="881.5" cy="1880.6" r="4.6"/><circle cx="876.4" cy="1879.8" r="4.6"/><circle cx="840.7" cy="1870.4" r="4.6"/><circle cx="845.8" cy="1855.5" r="4.6"/><circle cx="850.9" cy="1834.4" r="4.6"/><circle cx="856" cy="1836" r="4.6"/><circle cx="861.1" cy="1834.4" r="4.6"/></g>
<path d="M835.6 1889.3 L837.7 1888.7 L839.7 1887.9 L841.7 1886.7 L843.7 1885.1 L845.7 1883.2 L847.8 1880.9 L849.8 1878.3 L851.8 1875.2 L853.8 1871.9 L855.8 1868.2 L857.8 1864.4 L859.9 1860.3 L861.9 1856.1 L863.9 1851.7 L865.9 1847.3 L867.9 1842.9 L870 1838.5 L872 1834.1 L874 1829.8 L876 1825.6 L878 1821.5 L880.1 1817.5 L882.1 1813.6 L884.1 1809.9 L886.1 1806.4 L888.1 1803 L890.1 1799.8 L892.2 1796.7 L894.2 1793.8 L896.2 1791 L898.2 1788.4 L900.2 1786 L902.3 1783.7 L904.3 1781.5 L906.3 1779.5 L908.3 1777.6 L910.3 1775.8 L912.4 1774.1 L914.4 1772.6 L916.4 1771.1 L918.4 1769.7 L920.4 1768.5 L922.4 1767.3 L924.5 1766.2 L926.5 1765.2 L928.5 1764.2 L930.5 1763.3 L932.5 1762.5 L934.6 1761.7 L936.6 1761 L938.6 1760.4 L940.6 1759.7 L942.6 1759.2 L944.7 1758.6 L946.7 1758.1 L948.7 1757.7 L950.7 1757.2 L952.7 1756.8 L954.8 1756.5 L956.8 1756.1 L958.8 1755.8 L960.8 1755.5 L962.8 1755.2 L964.8 1755 L966.9 1754.7 L968.9 1754.5 L970.9 1754.3 L972.9 1754.1 L974.9 1753.9 L977 1753.7 L979 1753.5 L981 1753.4 L983 1753.2 L985 1753.1 L987.1 1753 L989.1 1752.9 L991.1 1752.8 L993.1 1752.6 L995.1 1752.5 L997.1 1752.4 L999.2 1752.4 L1001.2 1752.3 L1003.2 1752.2 L1005.2 1752.1 L1007.2 1752 L1009.3 1752 L1011.3 1751.9 L1013.3 1751.8 L1015.3 1751.8 L1017.3 1751.7 L1019.4 1751.6 L1021.4 1751.6 L1023.4 1751.5 L1025.4 1751.5 L1027.4 1751.4 L1029.4 1751.4 L1031.5 1751.3 L1033.5 1751.3 L1035.5 1751.2 L1037.5 1751.2 L1039.5 1751.1 L1041.6 1751.1 L1043.6 1751.1 L1045.6 1751 L1047.6 1751 L1049.6 1750.9 L1051.7 1750.9 L1053.7 1750.9 L1055.7 1750.8 L1057.7 1750.8 L1059.7 1750.7 L1061.7 1750.7 L1063.8 1750.7 L1065.8 1750.6 L1067.8 1750.6 L1069.8 1750.6 L1069.8 1803.5 L1067.8 1803.5 L1065.8 1803.5 L1063.8 1803.6 L1061.7 1803.6 L1059.7 1803.6 L1057.7 1803.7 L1055.7 1803.7 L1053.7 1803.8 L1051.7 1803.8 L1049.6 1803.9 L1047.6 1803.9 L1045.6 1804 L1043.6 1804 L1041.6 1804.1 L1039.5 1804.2 L1037.5 1804.2 L1035.5 1804.3 L1033.5 1804.4 L1031.5 1804.5 L1029.4 1804.5 L1027.4 1804.6 L1025.4 1804.7 L1023.4 1804.8 L1021.4 1804.9 L1019.4 1805.1 L1017.3 1805.2 L1015.3 1805.3 L1013.3 1805.4 L1011.3 1805.6 L1009.3 1805.7 L1007.2 1805.9 L1005.2 1806 L1003.2 1806.2 L1001.2 1806.4 L999.2 1806.6 L997.1 1806.8 L995.1 1807 L993.1 1807.2 L991.1 1807.4 L989.1 1807.7 L987.1 1807.9 L985 1808.2 L983 1808.5 L981 1808.8 L979 1809.1 L977 1809.4 L974.9 1809.8 L972.9 1810.2 L970.9 1810.6 L968.9 1811 L966.9 1811.4 L964.8 1811.8 L962.8 1812.3 L960.8 1812.8 L958.8 1813.3 L956.8 1813.9 L954.8 1814.5 L952.7 1815.1 L950.7 1815.7 L948.7 1816.4 L946.7 1817.1 L944.7 1817.8 L942.6 1818.6 L940.6 1819.4 L938.6 1820.2 L936.6 1821.1 L934.6 1822 L932.5 1822.9 L930.5 1823.9 L928.5 1825 L926.5 1826 L924.5 1827.2 L922.4 1828.3 L920.4 1829.5 L918.4 1830.8 L916.4 1832.1 L914.4 1833.4 L912.4 1834.8 L910.3 1836.3 L908.3 1837.8 L906.3 1839.3 L904.3 1840.9 L902.3 1842.5 L900.2 1844.2 L898.2 1845.9 L896.2 1847.6 L894.2 1849.4 L892.2 1851.2 L890.1 1853 L888.1 1854.9 L886.1 1856.8 L884.1 1858.7 L882.1 1860.6 L880.1 1862.5 L878 1864.4 L876 1866.2 L874 1868.1 L872 1869.9 L870 1871.7 L867.9 1873.5 L865.9 1875.2 L863.9 1876.8 L861.9 1878.3 L859.9 1879.8 L857.8 1881.2 L855.8 1882.5 L853.8 1883.7 L851.8 1884.8 L849.8 1885.7 L847.8 1886.6 L845.7 1887.3 L843.7 1888 L841.7 1888.5 L839.7 1889 L837.7 1889.3 L835.6 1889.6Z" fill="#CC79A7" fill-opacity="0.2"/>
<path class="ml" stroke="#CC79A7" d="M835.6 1889 L837.7 1888.5 L839.7 1887.8 L841.7 1887 L843.7 1885.9 L845.7 1884.7 L847.8 1883.3 L849.8 1881.6 L851.8 1879.8 L853.8 1877.8 L855.8 1875.6 L857.8 1873.2 L859.9 1870.7 L861.9 1868.1 L863.9 1865.3 L865.9 1862.5 L867.9 1859.6 L870 1856.6 L872 1853.6 L874 1850.6 L876 1847.6 L878 1844.6 L880.1 1841.6 L882.1 1838.7 L884.1 1835.8 L886.1 1833 L888.1 1830.3 L890.1 1827.6 L892.2 1825 L894.2 1822.5 L896.2 1820.1 L898.2 1817.8 L900.2 1815.5 L902.3 1813.4 L904.3 1811.4 L906.3 1809.4 L908.3 1807.5 L910.3 1805.7 L912.4 1804 L914.4 1802.4 L916.4 1800.9 L918.4 1799.5 L920.4 1798.1 L922.4 1796.8 L924.5 1795.5 L926.5 1794.4 L928.5 1793.3 L930.5 1792.2 L932.5 1791.3 L934.6 1790.4 L936.6 1789.5 L938.6 1788.7 L940.6 1787.9 L942.6 1787.2 L944.7 1786.5 L946.7 1785.9 L948.7 1785.3 L950.7 1784.7 L952.7 1784.2 L954.8 1783.7 L956.8 1783.2 L958.8 1782.8 L960.8 1782.4 L962.8 1782 L964.8 1781.6 L966.9 1781.3 L968.9 1781 L970.9 1780.7 L972.9 1780.4 L974.9 1780.1 L977 1779.9 L979 1779.7 L981 1779.5 L983 1779.3 L985 1779.1 L987.1 1778.9 L989.1 1778.7 L991.1 1778.6 L993.1 1778.4 L995.1 1778.3 L997.1 1778.2 L999.2 1778.1 L1001.2 1778 L1003.2 1777.9 L1005.2 1777.8 L1007.2 1777.7 L1009.3 1777.6 L1011.3 1777.5 L1013.3 1777.4 L1015.3 1777.4 L1017.3 1777.3 L1019.4 1777.3 L1021.4 1777.2 L1023.4 1777.1 L1025.4 1777.1 L1027.4 1777.1 L1029.4 1777 L1031.5 1777 L1033.5 1776.9 L1035.5 1776.9 L1037.5 1776.9 L1039.5 1776.8 L1041.6 1776.8 L1043.6 1776.8 L1045.6 1776.8 L1047.6 1776.7 L1049.6 1776.7 L1051.7 1776.7 L1053.7 1776.7 L1055.7 1776.7 L1057.7 1776.6 L1059.7 1776.6 L1061.7 1776.6 L1063.8 1776.6 L1065.8 1776.6 L1067.8 1776.6 L1069.8 1776.6"/>
<path class="axl" d="M805.1 1382.2 V1914.3 H1365.1"/>
<path class="tkl" d="M793.7 1890.1 H804.2 M793.7 1769 H804.2 M793.7 1648 H804.2 M793.7 1526.9 H804.2 M793.7 1405.9 H804.2 M830.6 1915.2 V1925.2 M957.8 1915.2 V1925.2 M1085.1 1915.2 V1925.2 M1212.4 1915.2 V1925.2 M1339.6 1915.2 V1925.2"/>
<text class="tk" text-anchor="end" x="784.8" y="1897">0</text><text class="tk" text-anchor="end" x="784.8" y="1776">100</text><text class="tk" text-anchor="end" x="784.8" y="1654.9">200</text><text class="tk" text-anchor="end" x="784.8" y="1533.8">300</text><text class="tk" text-anchor="end" x="784.8" y="1412.8">400</text>
<text class="tk" text-anchor="middle" x="830.6" y="1949">0</text><text class="tk" text-anchor="middle" x="957.8" y="1949">25</text><text class="tk" text-anchor="middle" x="1085.1" y="1949">50</text><text class="tk" text-anchor="middle" x="1212.4" y="1949">75</text><text class="tk" text-anchor="middle" x="1339.6" y="1949">100</text>
<text class="ti" x="805.8" y="1347.8">Populus</text>
<text class="an" x="833.3" y="1413.5">Countries: 8</text><text class="an" x="833.3" y="1440.1">Sites: 62</text><text class="an" x="833.3" y="1466.4">Observations: 167</text><text class="an" x="833.3" y="1491.4">Species: 21</text>
</g>
<g id="panel-pseudotsuga">
<g class="pt"><circle cx="1771.7" cy="1557.6" r="4.6"/><circle cx="1848.1" cy="1659.8" r="4.6"/><circle cx="1797.2" cy="1661.3" r="4.6"/><circle cx="1720.8" cy="1666.1" r="4.6"/><circle cx="1695.4" cy="1658.8" r="4.6"/><circle cx="1695.4" cy="1664" r="4.6"/><circle cx="1695.4" cy="1669.2" r="4.6"/><circle cx="1695.4" cy="1674.4" r="4.6"/><circle cx="1766.7" cy="1683.2" r="4.6"/><circle cx="1654.7" cy="1685.9" r="4.6"/><circle cx="1654.7" cy="1698.4" r="4.6"/><circle cx="1659.7" cy="1705.3" r="4.6"/><circle cx="1654.7" cy="1709.9" r="4.6"/><circle cx="1639.4" cy="1688.6" r="4.6"/><circle cx="1634.3" cy="1701.5" r="4.6"/><circle cx="1639.4" cy="1701.1" r="4.6"/><circle cx="1619" cy="1707.8" r="4.6"/><circle cx="1619" cy="1716.1" r="4.6"/><circle cx="1659.7" cy="1726.6" r="4.6"/><circle cx="1619" cy="1734.5" r="4.6"/><circle cx="1619" cy="1739.1" r="4.6"/><circle cx="1608.8" cy="1742.8" r="4.6"/><circle cx="1619" cy="1749.1" r="4.6"/><circle cx="1654.7" cy="1739.7" r="4.6"/><circle cx="1644.5" cy="1747.4" r="4.6"/><circle cx="1654.7" cy="1753.3" r="4.6"/><circle cx="1634.3" cy="1753.7" r="4.6"/><circle cx="1629.2" cy="1757.9" r="4.6"/><circle cx="1624.1" cy="1758.9" r="4.6"/><circle cx="1731" cy="1734.5" r="4.6"/><circle cx="1746.3" cy="1734.9" r="4.6"/><circle cx="1731" cy="1745.4" r="4.6"/><circle cx="1695.4" cy="1748.5" r="4.6"/><circle cx="1705.6" cy="1750.6" r="4.6"/><circle cx="1771.7" cy="1749.5" r="4.6"/><circle cx="1771.7" cy="1757.5" r="4.6"/><circle cx="1736.1" cy="1757.9" r="4.6"/><circle cx="1741.2" cy="1756.8" r="4.6"/><circle cx="1736.1" cy="1768.3" r="4.6"/><circle cx="1771.7" cy="1775.6" r="4.6"/><circle cx="1705.6" cy="1772.5" r="4.6"/><circle cx="1705.6" cy="1774.6" r="4.6"/><circle cx="1705.6" cy="1786.7" r="4.6"/><circle cx="1690.3" cy="1782.5" r="4.6"/><circle cx="1690.3" cy="1783.3" r="4.6"/><circle cx="1690.3" cy="1796.9" r="4.6"/><circle cx="1690.3" cy="1808.6" r="4.6"/><circle cx="1675" cy="1779.8" r="4.6"/><circle cx="1675" cy="1792.3" r="4.6"/><circle cx="1675" cy="1809" r="4.6"/><circle cx="1659.7" cy="1801.7" r="4.6"/><circle cx="1659.7" cy="1804.8" r="4.6"/><circle cx="1659.7" cy="1809" r="4.6"/><circle cx="1659.7" cy="1826.1" r="4.6"/><circle cx="1736.1" cy="1801.3" r="4.6"/><circle cx="1705.6" cy="1811.1" r="4.6"/><circle cx="1705.6" cy="1818.4" r="4.6"/><circle cx="1690.3" cy="1826.7" r="4.6"/><circle cx="1675" cy="1836.5" r="4.6"/><circle cx="1644.5" cy="1769.3" r="4.6"/><circle cx="1644.5" cy="1762" r="4.6"/><circle cx="1644.5" cy="1793.3" r="4.6"/><circle cx="1644.5" cy="1815.3" r="4.6"/><circle cx="1639.4" cy="1821.5" r="4.6"/><circle cx="1634.3" cy="1814.2" r="4.6"/><circle cx="1644.5" cy="1839.2" r="4.6"/><circle cx="1644.5" cy="1856.6" r="4.6"/><circle cx="1659.7" cy="1845.5" r="4.6"/><circle cx="1659.7" cy="1850.3" r="4.6"/><circle cx="1629.2" cy="1855.9" r="4.6"/><circle cx="1629.2" cy="1865.3" r="4.6"/><circle cx="1624.1" cy="1862.2" r="4.6"/><circle cx="1624.1" cy="1867.4" r="4.6"/><circle cx="1619" cy="1869.5" r="4.6"/><circle cx="1613.9" cy="1872.6" r="4.6"/><circle cx="1608.8" cy="1855.9" r="4.6"/><circle cx="1613.9" cy="1850.7" r="4.6"/><circle cx="1619" cy="1848.6" r="4.6"/><circle cx="1624.1" cy="1840.3" r="4.6"/><circle cx="1629.2" cy="1834" r="4.6"/><circle cx="1613.9" cy="1837.2" r="4.6"/><circle cx="1619" cy="1828.8" r="4.6"/><circle cx="1624.1" cy="1828.8" r="4.6"/><circle cx="1629.2" cy="1824.6" r="4.6"/><circle cx="1603.7" cy="1833" r="4.6"/><circle cx="1603.7" cy="1804.8" r="4.6"/><circle cx="1608.8" cy="1795.4" r="4.6"/><circle cx="1608.8" cy="1791.3" r="4.6"/><circle cx="1603.7" cy="1774.1" r="4.6"/><circle cx="1608.8" cy="1775.6" r="4.6"/><circle cx="1588.5" cy="1779.8" r="4.6"/><circle cx="1588.5" cy="1786" r="4.6"/><circle cx="1588.5" cy="1791.3" r="4.6"/><circle cx="1578.3" cy="1791.3" r="4.6"/><circle cx="1578.3" cy="1798.6" r="4.6"/><circle cx="1578.3" cy="1802.7" r="4.6"/><circle cx="1568.1" cy="1785" r="4.6"/><circle cx="1568.1" cy="1786" r="4.6"/><circle cx="1568.1" cy="1810" r="4.6"/><circle cx="1568.1" cy="1822.6" r="4.6"/><circle cx="1573.2" cy="1839.2" r="4.6"/><circle cx="1588.5" cy="1811.1" r="4.6"/><circle cx="1588.5" cy="1820.5" r="4.6"/><circle cx="1588.5" cy="1822.6" r="4.6"/><circle cx="1593.6" cy="1816.3" r="4.6"/><circle cx="1593.6" cy="1843.4" r="4.6"/><circle cx="1588.5" cy="1844.5" r="4.6"/><circle cx="1583.4" cy="1851.8" r="4.6"/><circle cx="1588.5" cy="1850.7" r="4.6"/><circle cx="1557.9" cy="1883.1" r="4.6"/><circle cx="1547.7" cy="1878.9" r="4.6"/><circle cx="1537.6" cy="1882" r="4.6"/><circle cx="1537.6" cy="1870.5" r="4.6"/><circle cx="1517.2" cy="1884.1" r="4.6"/><circle cx="1517.2" cy="1889.3" r="4.6"/><circle cx="1629.2" cy="1764.1" r="4.6"/><circle cx="1629.2" cy="1770.4" r="4.6"/><circle cx="1629.2" cy="1776.7" r="4.6"/><circle cx="1624.1" cy="1780.8" r="4.6"/><circle cx="1629.2" cy="1766.2" r="4.6"/><circle cx="1634.3" cy="1760" r="4.6"/><circle cx="1608.8" cy="1780.8" r="4.6"/><circle cx="1608.8" cy="1787.1" r="4.6"/><circle cx="1613.9" cy="1778.7" r="4.6"/><circle cx="1603.7" cy="1787.1" r="4.6"/><circle cx="1603.7" cy="1795.4" r="4.6"/><circle cx="1588.5" cy="1797.5" r="4.6"/><circle cx="1588.5" cy="1803.8" r="4.6"/><circle cx="1593.6" cy="1826.7" r="4.6"/><circle cx="1583.4" cy="1816.3" r="4.6"/><circle cx="1613.9" cy="1830.9" r="4.6"/><circle cx="1619" cy="1835.1" r="4.6"/><circle cx="1624.1" cy="1833" r="4.6"/><circle cx="1619" cy="1841.3" r="4.6"/><circle cx="1613.9" cy="1843.4" r="4.6"/><circle cx="1619" cy="1851.8" r="4.6"/><circle cx="1613.9" cy="1858" r="4.6"/><circle cx="1705.6" cy="1755.8" r="4.6"/><circle cx="1705.6" cy="1757.9" r="4.6"/><circle cx="1675" cy="1780.8" r="4.6"/><circle cx="1675" cy="1793.3" r="4.6"/><circle cx="1659.7" cy="1802.7" r="4.6"/><circle cx="1659.7" cy="1806.9" r="4.6"/><circle cx="1690.3" cy="1784" r="4.6"/><circle cx="1634.3" cy="1815.3" r="4.6"/><circle cx="1639.4" cy="1820.5" r="4.6"/><circle cx="1644.5" cy="1816.3" r="4.6"/></g>
<path class="gl" d="M1537.6 1882.8 L1539.6 1879 L1541.6 1875.4 L1543.6 1871.8 L1545.6 1868.3 L1547.7 1864.9 L1549.7 1861.5 L1551.7 1858.2 L1553.7 1854.9 L1555.7 1851.7 L1557.7 1848.6 L1559.7 1845.6 L1561.8 1842.6 L1563.8 1839.6 L1565.8 1836.7 L1567.8 1833.9 L1569.8 1831.2 L1571.8 1828.4 L1573.9 1825.8 L1575.9 1823.2 L1577.9 1820.6 L1579.9 1818.1 L1581.9 1815.7 L1583.9 1813.3 L1586 1810.9 L1588 1808.6 L1590 1806.4 L1592 1804.1 L1594 1802 L1596 1799.8 L1598.1 1797.8 L1600.1 1795.7 L1602.1 1793.7 L1604.1 1791.7 L1606.1 1789.8 L1608.1 1787.9 L1610.2 1786 L1612.2 1784.2 L1614.2 1782.4 L1616.2 1780.7 L1618.2 1778.9 L1620.2 1777.2 L1622.3 1775.6 L1624.3 1773.9 L1626.3 1772.3 L1628.3 1770.7 L1630.3 1769.1 L1632.3 1767.6 L1634.4 1766.1 L1636.4 1764.6 L1638.4 1763.1 L1640.4 1761.6 L1642.4 1760.2 L1644.4 1758.8 L1646.5 1757.4 L1648.5 1756 L1650.5 1754.6 L1652.5 1753.3 L1654.5 1751.9 L1656.5 1750.6 L1658.6 1749.3 L1660.6 1748 L1662.6 1746.7 L1664.6 1745.4 L1666.6 1744.2 L1668.6 1743 L1670.7 1741.7 L1672.7 1740.5 L1674.7 1739.3 L1676.7 1738.2 L1678.7 1737 L1680.7 1735.8 L1682.8 1734.7 L1684.8 1733.6 L1686.8 1732.4 L1688.8 1731.3 L1690.8 1730.3 L1692.8 1729.2 L1694.9 1728.1 L1696.9 1727.1 L1698.9 1726 L1700.9 1725 L1702.9 1724 L1704.9 1722.9 L1707 1721.9 L1709 1721 L1711 1720 L1713 1719 L1715 1718.1 L1717 1717.1 L1719.1 1716.2 L1721.1 1715.2 L1723.1 1714.3 L1725.1 1713.4 L1727.1 1712.5 L1729.1 1711.6 L1731.2 1710.7 L1733.2 1709.9 L1735.2 1709 L1737.2 1708.1 L1739.2 1707.3 L1741.2 1706.5 L1743.3 1705.6 L1745.3 1704.8 L1747.3 1704 L1749.3 1703.2 L1751.3 1702.4 L1753.3 1701.6 L1755.4 1700.8 L1757.4 1700 L1759.4 1699.2 L1761.4 1698.4 L1763.4 1697.7 L1765.4 1696.9 L1767.5 1696.1 L1769.5 1695.4 L1771.5 1694.6 L1773.5 1693.9 L1775.5 1693.2 L1777.5 1692.4 L1779.6 1691.7 L1781.6 1691 L1783.6 1690.2 L1785.6 1689.5 L1787.6 1688.8 L1789.6 1688.1 L1791.7 1687.4 L1793.7 1686.7 L1795.7 1686 L1797.7 1685.3 L1799.7 1684.6 L1801.7 1683.9 L1803.7 1683.2 L1805.8 1682.5 L1807.8 1681.8 L1809.8 1681.1 L1811.8 1680.5 L1813.8 1679.8 L1815.8 1679.1 L1817.9 1678.4 L1819.9 1677.7 L1821.9 1677 L1823.9 1676.4 L1825.9 1675.7 L1827.9 1675 L1830 1674.3 L1832 1673.6 L1834 1673 L1836 1672.3 L1838 1671.6 L1840 1670.9 L1842.1 1670.2 L1844.1 1669.5 L1846.1 1668.8 L1848.1 1668.1"/>
<path d="M1496.8 1889.5 L1498.9 1889.9 L1500.9 1890.1 L1502.9 1890.1 L1504.9 1890 L1506.9 1889.6 L1509 1889.1 L1511 1888.4 L1513 1887.6 L1515 1886.6 L1517 1885.4 L1519 1884.1 L1521.1 1882.7 L1523.1 1881.1 L1525.1 1879.4 L1527.1 1877.6 L1529.1 1875.7 L1531.2 1873.6 L1533.2 1871.5 L1535.2 1869.3 L1537.2 1866.9 L1539.2 1864.5 L1541.3 1862 L1543.3 1859.4 L1545.3 1856.8 L1547.3 1854.1 L1549.3 1851.3 L1551.3 1848.5 L1553.4 1845.7 L1555.4 1842.8 L1557.4 1839.9 L1559.4 1837 L1561.4 1834.1 L1563.5 1831.1 L1565.5 1828.2 L1567.5 1825.3 L1569.5 1822.5 L1571.5 1819.6 L1573.6 1816.8 L1575.6 1814 L1577.6 1811.3 L1579.6 1808.5 L1581.6 1805.9 L1583.6 1803.2 L1585.7 1800.6 L1587.7 1798.1 L1589.7 1795.5 L1591.7 1793.1 L1593.7 1790.7 L1595.8 1788.3 L1597.8 1786 L1599.8 1783.7 L1601.8 1781.5 L1603.8 1779.3 L1605.9 1777.2 L1607.9 1775.2 L1609.9 1773.2 L1611.9 1771.2 L1613.9 1769.3 L1616 1767.5 L1618 1765.7 L1620 1763.9 L1622 1762.2 L1624 1760.6 L1626 1758.9 L1628.1 1757.4 L1630.1 1755.8 L1632.1 1754.3 L1634.1 1752.9 L1636.1 1751.5 L1638.2 1750.1 L1640.2 1748.8 L1642.2 1747.5 L1644.2 1746.2 L1646.2 1745 L1648.3 1743.8 L1650.3 1742.7 L1652.3 1741.6 L1654.3 1740.5 L1656.3 1739.4 L1658.3 1738.4 L1660.4 1737.4 L1662.4 1736.4 L1664.4 1735.5 L1666.4 1734.6 L1668.4 1733.7 L1670.5 1732.8 L1672.5 1732 L1674.5 1731.2 L1676.5 1730.4 L1678.5 1729.6 L1680.6 1728.8 L1682.6 1728.1 L1684.6 1727.4 L1686.6 1726.7 L1688.6 1726 L1690.6 1725.3 L1692.7 1724.7 L1694.7 1724 L1696.7 1723.4 L1698.7 1722.8 L1700.7 1722.2 L1702.8 1721.6 L1704.8 1721 L1706.8 1720.4 L1708.8 1719.9 L1710.8 1719.3 L1712.9 1718.8 L1714.9 1718.3 L1716.9 1717.8 L1718.9 1717.3 L1720.9 1716.8 L1722.9 1716.3 L1725 1715.8 L1727 1715.4 L1729 1714.9 L1731 1714.5 L1733 1714.1 L1735.1 1713.6 L1737.1 1713.2 L1739.1 1712.8 L1741.1 1712.5 L1743.1 1712.1 L1745.2 1711.7 L1747.2 1711.4 L1749.2 1711 L1751.2 1710.7 L1753.2 1710.3 L1755.2 1710 L1757.3 1709.7 L1759.3 1709.4 L1761.3 1709.1 L1763.3 1708.8 L1765.3 1708.6 L1767.4 1708.3 L1769.4 1708 L1771.4 1707.8 L1773.4 1707.5 L1775.4 1707.3 L1777.5 1707.1 L1779.5 1706.8 L1781.5 1706.6 L1783.5 1706.4 L1785.5 1706.2 L1787.5 1706 L1789.6 1705.8 L1791.6 1705.6 L1793.6 1705.5 L1795.6 1705.3 L1797.6 1705.1 L1799.7 1705 L1801.7 1704.8 L1803.7 1704.7 L1805.7 1704.6 L1807.7 1704.4 L1809.8 1704.3 L1811.8 1704.2 L1813.8 1704.1 L1815.8 1703.9 L1817.8 1703.8 L1819.8 1703.7 L1821.9 1703.6 L1823.9 1703.6 L1825.9 1703.5 L1827.9 1703.4 L1829.9 1703.3 L1832 1703.2 L1834 1703.2 L1836 1703.1 L1838 1703 L1840 1703 L1842.1 1702.9 L1844.1 1702.9 L1846.1 1702.8 L1848.1 1702.8 L1848.1 1773.6 L1846.1 1773.7 L1844.1 1773.9 L1842.1 1774 L1840 1774.2 L1838 1774.4 L1836 1774.5 L1834 1774.7 L1832 1774.9 L1829.9 1775 L1827.9 1775.2 L1825.9 1775.4 L1823.9 1775.5 L1821.9 1775.7 L1819.8 1775.9 L1817.8 1776.1 L1815.8 1776.2 L1813.8 1776.4 L1811.8 1776.6 L1809.8 1776.8 L1807.7 1777 L1805.7 1777.2 L1803.7 1777.4 L1801.7 1777.6 L1799.7 1777.8 L1797.6 1778 L1795.6 1778.3 L1793.6 1778.5 L1791.6 1778.7 L1789.6 1779 L1787.5 1779.2 L1785.5 1779.4 L1783.5 1779.7 L1781.5 1780 L1779.5 1780.2 L1777.5 1780.5 L1775.4 1780.8 L1773.4 1781.1 L1771.4 1781.4 L1769.4 1781.7 L1767.4 1782 L1765.3 1782.3 L1763.3 1782.7 L1761.3 1783 L1759.3 1783.4 L1757.3 1783.7 L1755.2 1784.1 L1753.2 1784.5 L1751.2 1784.9 L1749.2 1785.2 L1747.2 1785.7 L1745.2 1786.1 L1743.1 1786.5 L1741.1 1786.9 L1739.1 1787.4 L1737.1 1787.9 L1735.1 1788.3 L1733 1788.8 L1731 1789.3 L1729 1789.8 L1727 1790.4 L1725 1790.9 L1722.9 1791.4 L1720.9 1792 L1718.9 1792.6 L1716.9 1793.2 L1714.9 1793.8 L1712.9 1794.4 L1710.8 1795 L1708.8 1795.7 L1706.8 1796.3 L1704.8 1797 L1702.8 1797.7 L1700.7 1798.4 L1698.7 1799.1 L1696.7 1799.9 L1694.7 1800.6 L1692.7 1801.4 L1690.6 1802.2 L1688.6 1803 L1686.6 1803.8 L1684.6 1804.6 L1682.6 1805.5 L1680.6 1806.4 L1678.5 1807.2 L1676.5 1808.1 L1674.5 1809 L1672.5 1809.9 L1670.5 1810.9 L1668.4 1811.8 L1666.4 1812.7 L1664.4 1813.7 L1662.4 1814.7 L1660.4 1815.6 L1658.3 1816.6 L1656.3 1817.6 L1654.3 1818.6 L1652.3 1819.7 L1650.3 1820.7 L1648.3 1821.7 L1646.2 1822.8 L1644.2 1823.8 L1642.2 1824.9 L1640.2 1825.9 L1638.2 1827 L1636.1 1828.1 L1634.1 1829.1 L1632.1 1830.2 L1630.1 1831.3 L1628.1 1832.4 L1626 1833.5 L1624 1834.6 L1622 1835.7 L1620 1836.8 L1618 1837.9 L1616 1839 L1613.9 1840.1 L1611.9 1841.3 L1609.9 1842.4 L1607.9 1843.5 L1605.9 1844.6 L1603.8 1845.7 L1601.8 1846.8 L1599.8 1847.9 L1597.8 1849.1 L1595.8 1850.2 L1593.7 1851.3 L1591.7 1852.4 L1589.7 1853.5 L1587.7 1854.6 L1585.7 1855.7 L1583.6 1856.8 L1581.6 1857.9 L1579.6 1859 L1577.6 1860.1 L1575.6 1861.2 L1573.6 1862.3 L1571.5 1863.3 L1569.5 1864.4 L1567.5 1865.5 L1565.5 1866.6 L1563.5 1867.6 L1561.4 1868.7 L1559.4 1869.7 L1557.4 1870.8 L1555.4 1871.8 L1553.4 1872.8 L1551.3 1873.8 L1549.3 1874.8 L1547.3 1875.7 L1545.3 1876.7 L1543.3 1877.6 L1541.3 1878.5 L1539.2 1879.4 L1537.2 1880.3 L1535.2 1881.1 L1533.2 1881.9 L1531.2 1882.7 L1529.1 1883.5 L1527.1 1884.2 L1525.1 1884.9 L1523.1 1885.5 L1521.1 1886.1 L1519 1886.7 L1517 1887.2 L1515 1887.7 L1513 1888.1 L1511 1888.5 L1509 1888.9 L1506.9 1889.2 L1504.9 1889.4 L1502.9 1889.6 L1500.9 1889.8 L1498.9 1889.8 L1496.8 1889.9Z" fill="#000000" fill-opacity="0.2"/>
<path class="ml" stroke="#000000" d="M1496.8 1889.8 L1498.9 1890 L1500.9 1890.1 L1502.9 1890.1 L1504.9 1889.9 L1506.9 1889.7 L1509 1889.3 L1511 1888.8 L1513 1888.2 L1515 1887.5 L1517 1886.7 L1519 1885.8 L1521.1 1884.9 L1523.1 1883.8 L1525.1 1882.7 L1527.1 1881.4 L1529.1 1880.2 L1531.2 1878.8 L1533.2 1877.4 L1535.2 1875.9 L1537.2 1874.4 L1539.2 1872.8 L1541.3 1871.1 L1543.3 1869.4 L1545.3 1867.7 L1547.3 1866 L1549.3 1864.2 L1551.3 1862.3 L1553.4 1860.5 L1555.4 1858.6 L1557.4 1856.7 L1559.4 1854.8 L1561.4 1852.8 L1563.5 1850.8 L1565.5 1848.9 L1567.5 1846.9 L1569.5 1844.9 L1571.5 1842.9 L1573.6 1840.9 L1575.6 1838.9 L1577.6 1836.9 L1579.6 1834.9 L1581.6 1833 L1583.6 1831 L1585.7 1829 L1587.7 1827.1 L1589.7 1825.2 L1591.7 1823.3 L1593.7 1821.5 L1595.8 1819.6 L1597.8 1817.8 L1599.8 1816.1 L1601.8 1814.4 L1603.8 1812.7 L1605.9 1811 L1607.9 1809.4 L1609.9 1807.8 L1611.9 1806.3 L1613.9 1804.8 L1616 1803.3 L1618 1801.8 L1620 1800.4 L1622 1799 L1624 1797.7 L1626 1796.3 L1628.1 1795 L1630.1 1793.7 L1632.1 1792.4 L1634.1 1791.2 L1636.1 1790 L1638.2 1788.8 L1640.2 1787.6 L1642.2 1786.4 L1644.2 1785.3 L1646.2 1784.1 L1648.3 1783 L1650.3 1781.9 L1652.3 1780.9 L1654.3 1779.8 L1656.3 1778.7 L1658.3 1777.7 L1660.4 1776.7 L1662.4 1775.7 L1664.4 1774.7 L1666.4 1773.7 L1668.4 1772.8 L1670.5 1771.9 L1672.5 1770.9 L1674.5 1770 L1676.5 1769.1 L1678.5 1768.3 L1680.6 1767.4 L1682.6 1766.6 L1684.6 1765.8 L1686.6 1765 L1688.6 1764.2 L1690.6 1763.4 L1692.7 1762.6 L1694.7 1761.9 L1696.7 1761.1 L1698.7 1760.4 L1700.7 1759.7 L1702.8 1759.1 L1704.8 1758.4 L1706.8 1757.7 L1708.8 1757.1 L1710.8 1756.5 L1712.9 1755.9 L1714.9 1755.3 L1716.9 1754.7 L1718.9 1754.1 L1720.9 1753.5 L1722.9 1753 L1725 1752.5 L1727 1752 L1729 1751.5 L1731 1751 L1733 1750.5 L1735.1 1750 L1737.1 1749.6 L1739.1 1749.1 L1741.1 1748.7 L1743.1 1748.3 L1745.2 1747.8 L1747.2 1747.4 L1749.2 1747.1 L1751.2 1746.7 L1753.2 1746.3 L1755.2 1745.9 L1757.3 1745.6 L1759.3 1745.3 L1761.3 1744.9 L1763.3 1744.6 L1765.3 1744.3 L1767.4 1744 L1769.4 1743.7 L1771.4 1743.4 L1773.4 1743.1 L1775.4 1742.9 L1777.5 1742.6 L1779.5 1742.4 L1781.5 1742.1 L1783.5 1741.9 L1785.5 1741.6 L1787.5 1741.4 L1789.6 1741.2 L1791.6 1741 L1793.6 1740.8 L1795.6 1740.6 L1797.6 1740.4 L1799.7 1740.2 L1801.7 1740 L1803.7 1739.9 L1805.7 1739.7 L1807.7 1739.5 L1809.8 1739.4 L1811.8 1739.2 L1813.8 1739.1 L1815.8 1738.9 L1817.8 1738.8 L1819.8 1738.6 L1821.9 1738.5 L1823.9 1738.4 L1825.9 1738.3 L1827.9 1738.1 L1829.9 1738 L1832 1737.9 L1834 1737.8 L1836 1737.7 L1838 1737.5 L1840 1737.4 L1842.1 1737.3 L1844.1 1737.2 L1846.1 1737.1 L1848.1 1737"/>
<path class="axl" d="M1466.3 1382.2 V1914.3 H2026.3"/>
<path class="tkl" d="M1454.9 1890.1 H1465.4 M1454.9 1769 H1465.4 M1454.9 1648 H1465.4 M1454.9 1526.9 H1465.4 M1454.9 1405.9 H1465.4 M1491.8 1915.2 V1925.2 M1619 1915.2 V1925.2 M1746.3 1915.2 V1925.2 M1873.6 1915.2 V1925.2 M2000.8 1915.2 V1925.2"/>
<text class="tk" text-anchor="end" x="1446" y="1897">0</text><text class="tk" text-anchor="end" x="1446" y="1776">100</text><text class="tk" text-anchor="end" x="1446" y="1654.9">200</text><text class="tk" text-anchor="end" x="1446" y="1533.8">300</text><text class="tk" text-anchor="end" x="1446" y="1412.8">400</text>
<text class="tk" text-anchor="middle" x="1491.8" y="1949">0</text><text class="tk" text-anchor="middle" x="1619" y="1949">25</text><text class="tk" text-anchor="middle" x="1746.3" y="1949">50</text><text class="tk" text-anchor="middle" x="1873.6" y="1949">75</text><text class="tk" text-anchor="middle" x="2000.8" y="1949">100</text>
<text class="ti" x="1467" y="1347.8">Pseudotsuga</text>
<text class="an" x="1494.5" y="1413.5">Countries: 10</text><text class="an" x="1494.5" y="1440.1">Sites: 37</text><text class="an" x="1494.5" y="1466.4">Observations: 195</text><text class="an" x="1494.5" y="1491.4">Species: 1</text>
</g>
<text class="ax" text-anchor="middle" x="1056.9" y="2003.9">Stand age (years)</text>
<text class="ax" text-anchor="middle" transform="translate(22.7 1012) rotate(-90)">Aboveground Carbon (Mg ha<tspan font-size="19.6" dy="-8.5">-1</tspan><tspan dy="8.5">)</tspan></text>
</svg>
</body>
</html>
